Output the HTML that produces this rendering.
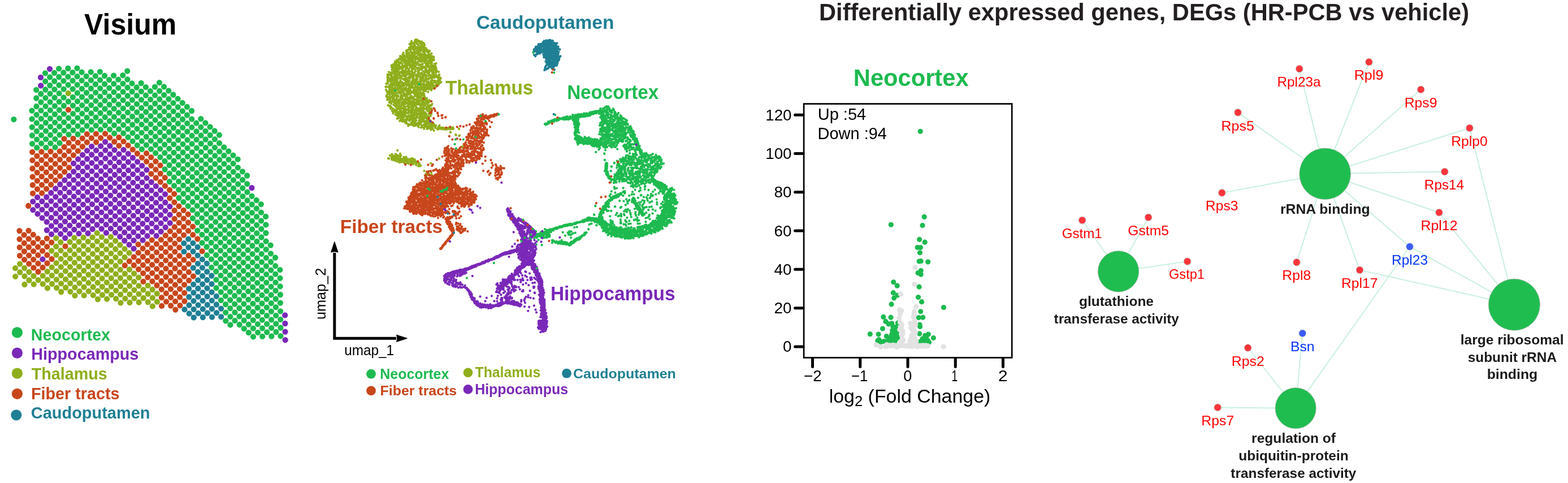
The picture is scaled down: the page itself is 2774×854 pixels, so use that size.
<!DOCTYPE html>
<html lang="en"><head><meta charset="utf-8"><title>Visium spatial transcriptomics figure</title>
<style>
html,body{margin:0;padding:0;background:#fff;}
body{width:2774px;height:854px;overflow:hidden;}
svg{display:block;font-family:"Liberation Sans",Arial,Helvetica,sans-serif;}
</style></head><body>
<svg width="2774" height="854" viewBox="0 0 2774 854">
<rect width="2774" height="854" fill="#fff"/>
<g id="visium" fill="none" stroke-linecap="round" stroke-width="10.3">
<path stroke="#1DBA4F" d="M24.4 211.1h0M56.5 195.7h0M56.6 210.3h0M56.8 224.9h0M56.9 239.5h0M57.1 254.1h0M64.2 158.9h0M64.3 173.5h0M64.5 188.2h0M64.6 202.8h0M64.8 217.4h0M64.9 232h0M65.1 246.6h0M65.2 261.2h0M72.3 166h0M72.5 180.7h0M72.6 195.3h0M72.8 209.9h0M72.9 224.5h0M73.1 239.1h0M73.2 253.7h0M80 129.3h0M80.2 143.9h0M80.3 158.5h0M80.5 173.1h0M80.6 187.8h0M80.8 202.4h0M80.9 217h0M81.1 231.6h0M81.2 246.2h0M81.4 260.8h0M88.2 136.4h0M88.3 151h0M88.5 165.6h0M88.6 180.3h0M88.8 194.9h0M88.9 209.5h0M89.1 224.1h0M89.2 238.7h0M89.4 253.3h0M96.1 128.9h0M96.3 143.5h0M96.4 158.1h0M96.6 172.7h0M96.8 187.4h0M96.9 202h0M97.1 216.6h0M97.2 231.2h0M97.4 245.8h0M97.5 260.4h0M104.1 121.4h0M104.3 136h0M104.4 150.6h0M104.6 165.2h0M104.7 179.9h0M104.9 194.5h0M105.1 209.1h0M105.2 223.7h0M105.4 238.3h0M105.5 252.9h0M112.3 128.5h0M112.4 143.1h0M112.6 157.7h0M112.7 172.3h0M112.9 187h0M113 201.6h0M113.2 216.2h0M113.4 230.8h0M120.3 121h0M120.4 135.6h0M120.6 150.2h0M120.9 179.5h0M121.2 208.7h0M121.3 223.3h0M121.5 237.9h0M128.4 128.1h0M128.6 142.7h0M128.7 157.3h0M128.9 171.9h0M129 186.6h0M129.2 201.2h0M129.3 215.8h0M129.5 230.4h0M136.4 120.6h0M136.6 135.2h0M136.7 149.8h0M136.9 164.4h0M137 179.1h0M137.2 193.7h0M137.3 208.3h0M137.5 222.9h0M137.6 237.5h0M144.6 127.7h0M144.7 142.3h0M144.9 156.9h0M145 171.5h0M145.2 186.2h0M145.3 200.8h0M145.5 215.4h0M145.6 230h0M152.7 134.8h0M152.9 149.4h0M153 164h0M153.2 178.7h0M153.3 193.3h0M153.5 207.9h0M153.6 222.5h0M160.7 127.3h0M160.9 141.9h0M161 156.5h0M161.2 171.1h0M161.3 185.8h0M161.5 200.4h0M161.6 215h0M161.8 229.6h0M168.9 134.4h0M169 149h0M169.2 163.6h0M169.3 178.3h0M169.5 192.9h0M169.6 207.5h0M169.8 222.1h0M176.8 126.9h0M177 141.5h0M177.2 156.1h0M177.3 170.7h0M177.5 185.4h0M177.6 200h0M177.8 214.6h0M177.9 229.2h0M185 134h0M185.1 148.6h0M185.3 163.2h0M185.4 177.9h0M185.6 192.5h0M185.8 207.1h0M185.9 221.7h0M193.1 141.1h0M193.3 155.7h0M193.4 170.3h0M193.6 185h0M193.7 199.6h0M193.9 214.2h0M194 228.8h0M201.1 133.6h0M201.3 148.2h0M201.4 162.8h0M201.6 177.5h0M201.7 192.1h0M201.9 206.7h0M202 221.3h0M202.2 235.9h0M209.3 140.7h0M209.4 155.3h0M209.6 169.9h0M209.7 184.6h0M209.9 199.2h0M210 213.8h0M210.2 228.4h0M217.3 133.2h0M217.4 147.8h0M217.6 162.4h0M217.7 177.1h0M217.9 191.7h0M218 206.3h0M218.2 220.9h0M218.3 235.5h0M225.3 125.7h0M225.4 140.3h0M225.6 154.9h0M225.7 169.5h0M225.9 184.2h0M226 198.8h0M226.2 213.4h0M226.3 228h0M226.5 242.6h0M233.6 147.4h0M233.7 162h0M233.9 176.7h0M234 191.3h0M234.2 205.9h0M234.3 220.5h0M234.5 235.1h0M234.6 249.7h0M241.7 154.5h0M241.9 169.1h0M242 183.8h0M242.2 198.4h0M242.3 213h0M242.5 227.6h0M242.6 242.2h0M242.8 256.8h0M249.7 147h0M249.9 161.6h0M250 176.3h0M250.2 190.9h0M250.3 205.5h0M250.5 220.1h0M250.6 234.7h0M250.8 249.3h0M250.9 263.9h0M257.9 154.1h0M258 168.7h0M258.2 183.4h0M258.3 198h0M258.5 212.6h0M258.6 227.2h0M258.8 241.8h0M258.9 256.4h0M266 161.2h0M266.1 175.9h0M266.3 190.5h0M266.5 205.1h0M266.6 219.7h0M266.8 234.3h0M266.9 248.9h0M267.1 263.6h0M274 153.7h0M274.1 168.3h0M274.3 183h0M274.4 197.6h0M274.6 212.2h0M274.8 226.8h0M274.9 241.4h0M275.1 256h0M275.2 270.7h0M282 146.2h0M282.1 160.8h0M282.3 175.5h0M282.4 190.1h0M282.6 204.7h0M282.7 219.3h0M282.9 233.9h0M283 248.5h0M283.2 263.1h0M283.4 277.8h0M290.1 153.3h0M290.3 167.9h0M290.4 182.6h0M290.6 197.2h0M290.7 211.8h0M290.9 226.4h0M291 241h0M291.2 255.6h0M291.3 270.3h0M291.5 284.9h0M291.6 299.5h0M298.3 160.4h0M298.4 175.1h0M298.6 189.7h0M298.7 204.3h0M298.9 218.9h0M299 233.5h0M299.2 248.1h0M299.3 262.8h0M299.5 277.4h0M299.6 292h0M299.8 306.6h0M299.9 321.2h0M306.4 167.5h0M306.6 182.2h0M306.7 196.8h0M306.9 211.4h0M307 226h0M307.2 240.6h0M307.3 255.2h0M307.5 269.9h0M307.6 284.5h0M307.8 299.1h0M307.9 313.7h0M308.1 328.3h0M314.6 174.7h0M314.7 189.3h0M314.9 203.9h0M315 218.5h0M315.2 233.1h0M315.3 247.7h0M315.5 262.4h0M315.6 277h0M315.8 291.6h0M315.9 306.2h0M316.1 320.8h0M316.2 335.4h0M316.4 350h0M322.7 181.8h0M322.9 196.4h0M323 211h0M323.2 225.6h0M323.3 240.2h0M323.5 254.8h0M323.6 269.5h0M323.8 284.1h0M323.9 298.7h0M324.1 313.3h0M324.2 327.9h0M324.4 342.5h0M324.5 357.2h0M330.9 188.9h0M331 203.5h0M331.2 218.1h0M331.3 232.7h0M331.5 247.3h0M331.6 261.9h0M331.8 276.6h0M331.9 291.2h0M332.1 305.8h0M332.2 320.4h0M332.4 335h0M332.5 349.6h0M332.7 364.3h0M339 196h0M339.2 210.6h0M339.3 225.2h0M339.5 239.8h0M339.6 254.4h0M339.8 269.1h0M339.9 283.7h0M340.1 298.3h0M340.2 312.9h0M340.4 327.5h0M340.5 342.1h0M340.7 356.8h0M340.8 371.4h0M341 386h0M347.3 217.7h0M347.5 232.3h0M347.6 246.9h0M347.8 261.6h0M347.9 276.2h0M348.1 290.8h0M348.2 305.4h0M348.4 320h0M348.5 334.6h0M348.7 349.2h0M348.8 363.9h0M349 378.5h0M349.1 393.1h0M349.3 407.7h0M355.3 210.2h0M355.4 224.8h0M355.6 239.4h0M355.8 254h0M355.9 268.7h0M356.1 283.3h0M356.2 297.9h0M356.4 312.5h0M356.5 327.1h0M356.7 341.7h0M356.8 356.4h0M357 371h0M357.1 385.6h0M357.3 400.2h0M357.4 414.8h0M357.6 429.4h0M363.4 217.3h0M363.6 231.9h0M363.7 246.5h0M363.9 261.1h0M364.1 275.8h0M364.2 290.4h0M364.4 305h0M364.5 319.6h0M364.7 334.2h0M364.8 348.8h0M365 363.5h0M365.1 378.1h0M365.3 392.7h0M365.4 407.3h0M365.6 421.9h0M365.7 436.5h0M365.9 451.2h0M371.6 224.4h0M371.7 239h0M371.9 253.6h0M372 268.3h0M372.2 282.9h0M372.3 297.5h0M372.5 312.1h0M372.7 326.7h0M372.8 341.3h0M373 356h0M373.1 370.6h0M373.3 385.2h0M373.4 399.8h0M373.6 414.4h0M373.7 429h0M373.9 443.7h0M374 458.3h0M374.2 472.9h0M379.7 231.5h0M379.9 246.1h0M380 260.8h0M380.2 275.4h0M380.3 290h0M380.5 304.6h0M380.6 319.2h0M380.8 333.8h0M381 348.4h0M381.1 363.1h0M381.3 377.7h0M381.4 392.3h0M381.6 406.9h0M381.7 421.5h0M381.9 436.1h0M382 450.8h0M382.2 465.4h0M382.3 480h0M382.5 494.6h0M382.6 509.2h0M387.9 238.6h0M388 253.2h0M388.2 267.9h0M388.3 282.5h0M388.5 297.1h0M388.6 311.7h0M388.8 326.3h0M388.9 340.9h0M389.1 355.6h0M389.3 370.2h0M389.4 384.8h0M389.6 399.4h0M389.7 414h0M389.9 428.6h0M390 443.2h0M390.2 457.9h0M390.3 472.5h0M390.5 487.1h0M390.6 501.7h0M390.8 516.3h0M390.9 530.9h0M396.2 260.4h0M396.3 275h0M396.5 289.6h0M396.6 304.2h0M396.8 318.8h0M396.9 333.4h0M397.1 348h0M397.2 362.7h0M397.4 377.3h0M397.5 391.9h0M397.7 406.5h0M397.9 421.1h0M398 435.7h0M398.2 450.4h0M398.3 465h0M398.5 479.6h0M398.6 494.2h0M398.8 508.8h0M398.9 523.4h0M399.1 538.1h0M399.2 552.7h0M399.4 567.3h0M404.3 267.5h0M404.5 282.1h0M404.6 296.7h0M404.8 311.3h0M404.9 325.9h0M405.1 340.5h0M405.2 355.2h0M405.4 369.8h0M405.5 384.4h0M405.7 399h0M405.8 413.6h0M406 428.2h0M406.2 442.9h0M406.3 457.5h0M406.5 472.1h0M406.6 486.7h0M406.8 501.3h0M406.9 515.9h0M407.1 530.5h0M407.2 545.2h0M407.4 559.8h0M407.5 574.4h0M412.5 274.6h0M412.6 289.2h0M412.8 303.8h0M412.9 318.4h0M413.1 333h0M413.2 347.6h0M413.4 362.3h0M413.5 376.9h0M413.7 391.5h0M413.8 406.1h0M414 420.7h0M414.1 435.3h0M414.3 450h0M414.4 464.6h0M414.6 479.2h0M414.8 493.8h0M414.9 508.4h0M415.1 523h0M415.2 537.7h0M415.4 552.3h0M415.5 566.9h0M420.6 281.7h0M420.8 296.3h0M420.9 310.9h0M421.1 325.5h0M421.2 340.1h0M421.4 354.8h0M421.5 369.4h0M421.7 384h0M421.8 398.6h0M422 413.2h0M422.1 427.8h0M422.3 442.5h0M422.4 457.1h0M422.6 471.7h0M422.7 486.3h0M422.9 500.9h0M423.1 515.5h0M423.2 530.1h0M423.4 544.8h0M423.5 559.4h0M423.7 574h0M428.9 303.4h0M429.1 318h0M429.2 332.6h0M429.4 347.2h0M429.5 361.9h0M429.7 376.5h0M429.8 391.1h0M430 405.7h0M430.1 420.3h0M430.3 434.9h0M430.4 449.6h0M430.6 464.2h0M430.7 478.8h0M430.9 493.4h0M431 508h0M431.2 522.6h0M431.3 537.3h0M431.5 551.9h0M431.7 566.5h0M431.8 581.1h0M437.1 310.5h0M437.2 325.1h0M437.4 339.7h0M437.5 354.4h0M437.7 369h0M437.8 383.6h0M438 398.2h0M438.1 412.8h0M438.3 427.4h0M438.4 442.1h0M438.6 456.7h0M438.7 471.3h0M438.9 485.9h0M439 500.5h0M439.2 515.1h0M439.3 529.7h0M439.5 544.4h0M439.6 559h0M439.8 573.6h0M439.9 588.2h0M445.5 346.8h0M445.7 361.5h0M445.8 376.1h0M446 390.7h0M446.1 405.3h0M446.3 419.9h0M446.4 434.5h0M446.6 449.2h0M446.7 463.8h0M446.9 478.4h0M447 493h0M447.2 507.6h0M447.3 522.2h0M447.5 536.9h0M447.6 551.5h0M447.8 566.1h0M447.9 580.7h0M448.1 595.3h0M453.7 354h0M453.8 368.6h0M454 383.2h0M454.1 397.8h0M454.3 412.4h0M454.4 427h0M454.6 441.7h0M454.7 456.3h0M454.9 470.9h0M455 485.5h0M455.2 500.1h0M455.3 514.7h0M455.5 529.3h0M455.6 544h0M455.8 558.6h0M455.9 573.2h0M456.1 587.8h0M461.8 361.1h0M462 375.7h0M462.1 390.3h0M462.3 404.9h0M462.4 419.5h0M462.6 434.1h0M462.7 448.8h0M462.9 463.4h0M463 478h0M463.2 492.6h0M463.3 507.2h0M463.5 521.8h0M463.6 536.5h0M463.8 551.1h0M463.9 565.7h0M464.1 580.3h0M464.2 594.9h0M470.1 382.8h0M470.3 397.4h0M470.4 412h0M470.6 426.6h0M470.7 441.2h0M470.9 455.9h0M471 470.5h0M471.2 485.1h0M471.3 499.7h0M471.5 514.3h0M471.6 528.9h0M471.8 543.6h0M471.9 558.2h0M472.1 572.8h0M472.2 587.4h0M478.7 433.7h0M478.9 448.4h0M479 463h0M479.2 477.6h0M479.3 492.2h0M479.5 506.8h0M479.6 521.4h0M479.8 536.1h0M479.9 550.7h0M480.1 565.3h0M480.2 579.9h0M480.4 594.5h0M487 455.5h0M487.2 470.1h0M487.3 484.7h0M487.5 499.3h0M487.6 513.9h0M487.8 528.5h0M487.9 543.2h0M488.1 557.8h0M488.2 572.4h0M488.4 587h0M495.3 477.2h0M495.5 491.8h0M495.6 506.4h0M495.8 521h0M495.9 535.7h0M496.1 550.3h0M496.2 564.9h0M496.4 579.5h0M496.5 594.1h0"/>
<path stroke="#C8461B" d="M34.5 408.2h0M34.6 422.8h0M34.8 437.4h0M34.9 452.1h0M42.6 415.3h0M42.8 429.9h0M42.9 444.5h0M43.1 459.2h0M50.2 364h0M50.6 407.8h0M50.8 422.4h0M50.9 437h0M51.1 451.7h0M51.2 466.3h0M57.2 268.8h0M57.4 283.4h0M57.5 298h0M57.7 312.6h0M57.8 327.2h0M58 341.8h0M58.8 414.9h0M58.9 429.5h0M59.1 444.1h0M59.2 458.8h0M59.4 473.4h0M65.4 275.9h0M65.5 290.5h0M65.7 305.1h0M65.8 319.7h0M66 334.3h0M66.9 422h0M67.1 436.6h0M67.2 451.2h0M67.4 465.9h0M67.5 480.5h0M73.4 268.4h0M73.5 283h0M73.7 297.6h0M73.8 312.2h0M74 326.8h0M74.1 341.4h0M75.1 429.1h0M75.2 443.7h0M75.5 473h0M81.5 275.5h0M81.7 290.1h0M81.8 304.7h0M82 319.3h0M82.1 333.9h0M83 421.6h0M83.2 436.2h0M83.4 450.9h0M83.5 465.5h0M89.5 267.9h0M89.7 282.6h0M89.8 297.2h0M90 311.8h0M90.1 326.4h0M91.2 428.7h0M91.5 458h0M97.7 275.1h0M97.8 289.7h0M98 304.3h0M98.1 318.9h0M105.7 267.6h0M105.8 282.2h0M106 296.8h0M106.1 311.4h0M113.5 245.4h0M113.7 260h0M113.8 274.7h0M114 289.3h0M114.1 303.9h0M115.5 435.4h0M121 194.1h0M121.6 252.5h0M121.8 267.1h0M122 281.8h0M122.1 296.4h0M129.6 245h0M129.8 259.6h0M129.9 274.3h0M137.8 252.1h0M137.9 266.8h0M145.8 244.6h0M145.9 259.2h0M153.8 237.1h0M153.9 251.7h0M161.9 244.2h0M169.9 236.7h0M170.1 251.3h0M178.1 243.8h0M186.1 236.3h0M194.2 243.4h0M202.3 250.5h0M210.3 243h0M210.5 257.6h0M218.5 250.1h0M220.8 469.4h0M226.6 257.2h0M228.8 461.9h0M234.8 264.4h0M236.8 454.4h0M236.9 469h0M242.9 271.5h0M244.6 432.2h0M244.8 446.9h0M244.9 461.5h0M245.1 476.1h0M251.1 278.6h0M252.7 439.3h0M252.9 454h0M253 468.6h0M253.2 483.2h0M253.4 497.8h0M259.1 271.1h0M259.2 285.7h0M260.7 431.8h0M260.9 446.5h0M261 461.1h0M261.2 475.7h0M261.3 490.3h0M267.2 278.2h0M267.4 292.8h0M267.5 307.4h0M268.7 424.3h0M268.9 438.9h0M269 453.6h0M269.2 468.2h0M269.3 482.8h0M269.5 497.4h0M275.4 285.3h0M275.5 299.9h0M275.7 314.5h0M276.9 431.4h0M277 446.1h0M277.2 460.7h0M277.3 475.3h0M277.5 489.9h0M277.6 504.5h0M283.5 292.4h0M283.7 307h0M283.8 321.6h0M284.9 423.9h0M285 438.5h0M285.2 453.2h0M285.3 467.8h0M285.5 482.4h0M285.6 497h0M285.8 511.6h0M285.9 526.2h0M286.1 540.9h0M291.8 314.1h0M292 328.7h0M292.9 416.4h0M293 431h0M293.2 445.7h0M293.3 460.3h0M293.5 474.9h0M293.6 489.5h0M293.8 504.1h0M293.9 518.7h0M294.1 533.3h0M300.1 335.8h0M300.3 350.4h0M300.9 408.9h0M301 423.5h0M301.2 438.1h0M301.3 452.8h0M301.5 467.4h0M301.6 482h0M301.8 496.6h0M301.9 511.2h0M302.1 525.8h0M302.2 540.5h0M308.2 342.9h0M308.4 357.6h0M308.6 372.2h0M308.7 386.8h0M308.9 401.4h0M309 416h0M309.2 430.6h0M309.3 445.2h0M309.5 459.9h0M309.6 474.5h0M309.8 489.1h0M309.9 503.7h0M310.1 518.3h0M310.2 532.9h0M310.4 547.6h0M316.5 364.7h0M316.7 379.3h0M316.8 393.9h0M317 408.5h0M317.2 423.1h0M317.3 437.7h0M317.5 452.4h0M317.6 467h0M317.8 481.6h0M317.9 496.2h0M318.1 510.8h0M318.2 525.4h0M318.4 540.1h0M324.7 371.8h0M324.8 386.4h0M325 401h0M325.1 415.6h0M325.6 459.5h0M325.8 474.1h0M325.9 488.7h0M326.1 503.3h0M326.2 517.9h0M326.4 532.5h0M332.8 378.9h0M333 393.5h0M333.1 408.1h0M333.6 452h0M333.7 466.6h0M333.9 481.2h0M334.1 495.8h0M341.1 400.6h0M341.3 415.2h0M341.7 459.1h0M342 488.3h0M349.4 422.3h0M357.7 444.1h0"/>
<path stroke="#7A28B8" d="M58.2 356.4h0M58.3 371.1h0M66.1 348.9h0M66.3 363.6h0M66.5 378.2h0M72 136.8h0M72.2 151.4h0M74.3 356h0M74.4 370.7h0M74.6 385.3h0M75.4 458.4h0M82.3 348.5h0M82.4 363.2h0M82.6 377.8h0M82.7 392.4h0M82.9 407h0M88 121.8h0M90.3 341h0M90.4 355.6h0M90.6 370.3h0M90.7 384.9h0M90.9 399.5h0M91 414.1h0M98.3 333.5h0M98.4 348.1h0M98.6 362.8h0M98.7 377.4h0M98.9 392h0M99 406.6h0M106.3 326h0M106.4 340.6h0M106.6 355.2h0M106.7 369.9h0M106.9 384.5h0M107 399.1h0M107.2 413.7h0M114.3 318.5h0M114.4 333.1h0M114.6 347.7h0M114.7 362.4h0M114.9 377h0M115 391.6h0M115.2 406.2h0M115.3 420.8h0M122.3 311h0M122.4 325.6h0M122.6 340.2h0M122.7 354.8h0M122.9 369.5h0M123 384.1h0M123.2 398.7h0M123.3 413.3h0M130.1 288.9h0M130.2 303.5h0M130.4 318.1h0M130.6 332.7h0M130.7 347.3h0M130.9 362h0M131 376.6h0M131.2 391.2h0M131.3 405.8h0M138.1 281.4h0M138.2 296h0M138.4 310.6h0M138.5 325.2h0M138.7 339.8h0M138.9 354.4h0M139 369.1h0M139.2 383.7h0M139.3 398.3h0M139.5 412.9h0M146.1 273.9h0M146.2 288.5h0M146.4 303.1h0M146.5 317.7h0M146.7 332.3h0M146.8 346.9h0M147 361.6h0M147.2 376.2h0M147.3 390.8h0M147.5 405.4h0M154.1 266.4h0M154.2 281h0M154.4 295.6h0M154.5 310.2h0M154.7 324.8h0M154.8 339.4h0M155 354h0M155.1 368.7h0M155.3 383.3h0M155.4 397.9h0M155.6 412.5h0M162.1 258.8h0M162.2 273.5h0M162.4 288.1h0M162.5 302.7h0M162.7 317.3h0M162.8 331.9h0M163 346.5h0M163.1 361.2h0M163.3 375.8h0M163.4 390.4h0M163.6 405h0M170.2 265.9h0M170.4 280.6h0M170.5 295.2h0M170.7 309.8h0M170.8 324.4h0M171 339h0M171.1 353.6h0M171.3 368.3h0M171.4 382.9h0M171.6 397.5h0M178.2 258.4h0M178.4 273.1h0M178.5 287.7h0M178.7 302.3h0M178.8 316.9h0M179 331.5h0M179.1 346.1h0M179.3 360.8h0M179.4 375.4h0M179.6 390h0M179.7 404.6h0M186.2 250.9h0M186.4 265.6h0M186.5 280.2h0M186.7 294.8h0M186.8 309.4h0M187 324h0M187.1 338.6h0M187.3 353.2h0M187.4 367.9h0M187.6 382.5h0M187.7 397.1h0M187.9 411.7h0M194.4 258h0M194.5 272.7h0M194.7 287.3h0M194.8 301.9h0M195 316.5h0M195.1 331.1h0M195.3 345.7h0M195.4 360.4h0M195.6 375h0M195.7 389.6h0M195.9 404.2h0M202.5 265.1h0M202.7 279.8h0M202.8 294.4h0M203 309h0M203.1 323.6h0M203.3 338.2h0M203.4 352.8h0M203.6 367.5h0M203.7 382.1h0M203.9 396.7h0M204 411.3h0M210.6 272.3h0M210.8 286.9h0M211 301.5h0M211.1 316.1h0M211.3 330.7h0M211.4 345.3h0M211.6 360h0M211.7 374.6h0M211.9 389.2h0M212 403.8h0M212.2 418.4h0M218.6 264.8h0M218.8 279.4h0M218.9 294h0M219.1 308.6h0M219.2 323.2h0M219.4 337.8h0M219.6 352.4h0M219.7 367.1h0M219.9 381.7h0M220 396.3h0M220.2 410.9h0M220.3 425.5h0M226.8 271.9h0M226.9 286.5h0M227.1 301.1h0M227.2 315.7h0M227.4 330.3h0M227.5 344.9h0M227.7 359.6h0M227.8 374.2h0M228 388.8h0M228.2 403.4h0M228.3 418h0M228.5 432.6h0M234.9 279h0M235.1 293.6h0M235.2 308.2h0M235.4 322.8h0M235.5 337.4h0M235.7 352h0M235.8 366.7h0M236 381.3h0M236.1 395.9h0M236.3 410.5h0M236.5 425.1h0M236.6 439.7h0M243.1 286.1h0M243.2 300.7h0M243.4 315.3h0M243.5 329.9h0M243.7 344.5h0M243.8 359.2h0M244 373.8h0M244.1 388.4h0M244.3 403h0M244.4 417.6h0M251.2 293.2h0M251.4 307.8h0M251.5 322.4h0M251.7 337h0M251.8 351.6h0M252 366.3h0M252.1 380.9h0M252.3 395.5h0M252.4 410.1h0M252.6 424.7h0M259.4 300.3h0M259.5 314.9h0M259.7 329.5h0M259.8 344.1h0M260 358.8h0M260.1 373.4h0M260.3 388h0M260.4 402.6h0M260.6 417.2h0M267.7 322h0M267.8 336.6h0M268 351.2h0M268.1 365.9h0M268.3 380.5h0M268.4 395.1h0M268.6 409.7h0M275.8 329.1h0M276 343.7h0M276.1 358.4h0M276.3 373h0M276.4 387.6h0M276.6 402.2h0M276.7 416.8h0M284 336.2h0M284.1 350.8h0M284.3 365.5h0M284.4 380.1h0M284.6 394.7h0M284.7 409.3h0M292.1 343.3h0M292.3 358h0M292.4 372.6h0M292.6 387.2h0M292.7 401.8h0M300.4 365.1h0M300.6 379.7h0M300.7 394.3h0M445.4 332.2h0M504.2 557.4h0M504.4 572h0M504.5 586.6h0M504.7 601.2h0"/>
<path stroke="#8FAE1B" d="M27.1 474.2h0M27.2 488.8h0M35.1 466.7h0M35.2 481.3h0M43.2 473.8h0M43.4 488.4h0M43.5 503h0M51.4 480.9h0M51.5 495.5h0M59.5 488h0M59.7 502.6h0M67.7 495.1h0M75.7 487.6h0M75.8 502.2h0M83.7 480.1h0M83.8 494.7h0M84 509.3h0M91.3 443.3h0M91.6 472.6h0M91.8 487.2h0M92 501.8h0M99.2 421.2h0M99.3 435.8h0M99.5 450.5h0M99.6 465.1h0M99.8 479.7h0M99.9 494.3h0M100.1 508.9h0M107.3 428.3h0M107.5 442.9h0M107.6 457.6h0M107.8 472.2h0M107.9 486.8h0M108.1 501.4h0M108.2 516h0M115.6 450.1h0M115.8 464.7h0M115.9 479.3h0M116.1 493.9h0M116.2 508.5h0M120.7 164.8h0M123.5 427.9h0M123.6 442.5h0M123.8 457.2h0M123.9 471.8h0M124.1 486.4h0M124.2 501h0M124.4 515.6h0M131.5 420.4h0M131.6 435h0M131.8 449.7h0M131.9 464.3h0M132.1 478.9h0M132.2 493.5h0M132.4 508.1h0M132.5 522.7h0M139.6 427.5h0M139.8 442.1h0M139.9 456.8h0M140.1 471.4h0M140.2 486h0M140.4 500.6h0M140.5 515.2h0M147.6 420h0M147.8 434.6h0M147.9 449.2h0M148.1 463.9h0M148.2 478.5h0M148.4 493.1h0M148.5 507.7h0M148.7 522.3h0M155.8 427.1h0M155.9 441.7h0M156.1 456.4h0M156.2 471h0M156.4 485.6h0M156.5 500.2h0M156.7 514.8h0M163.7 419.6h0M163.9 434.2h0M164 448.9h0M164.2 463.5h0M164.4 478.1h0M164.5 492.7h0M164.7 507.3h0M164.8 521.9h0M171.7 412.1h0M171.9 426.7h0M172 441.3h0M172.2 456h0M172.3 470.6h0M172.5 485.2h0M172.7 499.8h0M172.8 514.4h0M173 529h0M179.9 419.2h0M180 433.8h0M180.2 448.5h0M180.3 463.1h0M180.5 477.7h0M180.6 492.3h0M180.8 506.9h0M181 521.5h0M188 426.3h0M188.2 440.9h0M188.3 455.6h0M188.5 470.2h0M188.6 484.8h0M188.8 499.4h0M188.9 514h0M189.1 528.6h0M196 418.8h0M196.2 433.4h0M196.3 448.1h0M196.5 462.7h0M196.6 477.3h0M196.8 491.9h0M196.9 506.5h0M197.1 521.1h0M204.2 425.9h0M204.3 440.5h0M204.5 455.2h0M204.6 469.8h0M204.8 484.4h0M204.9 499h0M205.1 513.6h0M205.2 528.2h0M212.3 433h0M212.5 447.7h0M212.6 462.3h0M212.8 476.9h0M212.9 491.5h0M213.1 506.1h0M213.2 520.7h0M213.4 535.3h0M220.5 440.1h0M220.6 454.8h0M220.9 484h0M221.1 498.6h0M221.2 513.2h0M221.4 527.8h0M228.6 447.2h0M228.9 476.5h0M229.1 491.1h0M229.2 505.7h0M229.4 520.3h0M229.5 534.9h0M237.1 483.6h0M237.2 498.2h0M237.4 512.8h0M237.5 527.4h0M245.2 490.7h0M245.4 505.3h0M245.5 519.9h0M245.7 534.5h0M253.5 512.4h0M253.7 527h0M261.5 504.9h0M261.7 519.5h0M261.8 534.1h0M269.6 512h0M269.8 526.6h0M269.9 541.3h0M277.8 519.1h0M277.9 533.7h0"/>
<path stroke="#1F7F94" d="M325.3 430.2h0M325.4 444.9h0M326.5 547.2h0M333.3 422.7h0M333.4 437.3h0M334.2 510.4h0M334.4 525h0M334.5 539.7h0M334.7 554.3h0M341.4 429.8h0M341.6 444.5h0M341.9 473.7h0M342.2 502.9h0M342.4 517.5h0M342.5 532.1h0M342.7 546.8h0M342.8 561.4h0M349.6 436.9h0M349.7 451.6h0M349.9 466.2h0M350 480.8h0M350.2 495.4h0M350.3 510h0M350.5 524.6h0M350.6 539.3h0M350.8 553.9h0M357.9 458.7h0M358 473.3h0M358.2 487.9h0M358.3 502.5h0M358.5 517.1h0M358.6 531.7h0M358.8 546.4h0M358.9 561h0M366 465.8h0M366.2 480.4h0M366.3 495h0M366.5 509.6h0M366.6 524.2h0M366.8 538.9h0M366.9 553.5h0M374.3 487.5h0M374.5 502.1h0M374.6 516.7h0M374.8 531.3h0M374.9 546h0M375.1 560.6h0M382.8 523.8h0M382.9 538.5h0M383.1 553.1h0M391.1 545.6h0M391.2 560.2h0"/>
</g>
<g id="umap" fill="none" stroke-linecap="round" stroke-width="4.3">
<path stroke="#8FAE1B" d="M728.1 72.8h0m6-.3h0m1-2.3h0m1.6 3.9h0m.4 .8h0m.5-4.8h0m.5 2.8h0m2.1-.8h0m.6 .3h0m1 2.5h0m1.2-1.7h0m3.2 .5h0m-21.5 4.4h0m2.7 1.1h0m0-3.7h0m0-.3h0m2.6 1.3h0m2.2 1.7h0m.4-2.4h0m.8 4.3h0m.4-4.8h0m.2 4.3h0m3.5-2.7h0m1.2 1.5h0m.8 .2h0m.8 1.7h0m3.1-3.7h0m1.3 2.1h0m.9-3.1h0m.2 5.1h0m0-.7h0m3.1-2.6h0m.1-1.6h0m1.4 1.8h0m.7 2.5h0m-27.4 4.4h0m2.6-1.9h0m1.2 3h0m.9-4h0m.3 4.3h0m1.1-1h0m1.5-2.6h0m2.1 3.3h0m.1-4h0m.8 3.4h0m.9-1.6h0m1.3 3h0m.2-3h0m1.4 .6h0m2.4 2.9h0m.5-2.7h0m1 2.4h0m1.5-3.5h0m.7 3h0m.2-.8h0m.3-4.2h0m1.5 3.4h0m2.4-2.6h0m.1 1.2h0m1.2-1.3h0m.5 3.6h0m1.7 .5h0m1-.9h0m-34.3 4.5h0m.2 3.3h0m1.9-1.3h0m.6-3.3h0m3.6 0h0m1.1 1.9h0m0-1h0m.7 2.9h0m2.2 .9h0m2.3-4.6h0m1 .8h0m.1-.2h0m1.1 1.6h0m.3-3.3h0m1.6 5.8h0m2.5-3.2h0m1.9 3.2h0m.1-2.8h0m2.9-.6h0m.8 .8h0m1.3-1.9h0m3.3 2.6h0m.5-3.8h0m0 4.9h0m1.4-2.9h0m0 3.6h0m.7-.4h0m.4-2.5h0m.5-.3h0m.4-2.6h0m1.6 2.2h0m1.2-1.9h0m.9 4.7h0m1.7-2.6h0m.5 2.6h0m1.4-2.3h0m.6 .8h0m-47.7 6.1h0m1.2-3.2h0m.1 5h0m1.4-.9h0m4-2.8h0m.4 2.5h0m1.4-3.5h0m.6 4.2h0m.3-4.9h0m.7 4.8h0m1.1-4.3h0m1 3h0m2.3 2.3h0m1.7-3.4h0m1.7-.7h0m.8 4.1h0m1-5.9h0m.9 5.2h0m.5-.7h0m0-3.9h0m1.2-.6h0m1.5 1.3h0m.9-.1h0m2.6 2.5h0m.6-1.5h0m1.9 .5h0m.1 3.1h0m1.1-4.3h0m1.1 2.1h0m1.4-1h0m.2 2.5h0m2.6-1h0m1.5 1.2h0m.8-4.4h0m.3 5h0m1-2.5h0m1.5 1.9h0m1.9-.3h0m2.6-3.5h0m.2-1h0m.8 4.2h0m1.6 .5h0m.8-1.3h0m1.8-2.3h0m-57.3 9.1h0m1.8-.2h0m.1-4.3h0m1 .9h0m.7 2.2h0m2.6 .6h0m.2-3.2h0m1.9 3.9h0m1.3-2.9h0m.9 4.1h0m.2-3.9h0m.5 2.1h0m2.3-3.8h0m1.1 2h0m1.2 3h0m1.4-2.4h0m.8 3h0m.3-4.8h0m1.1 1.4h0m1.9 1.2h0m1.3-1.2h0m.2 3.2h0m.7-5.4h0m2.1 4.1h0m1.3-1.4h0m1.4-1.9h0m.1 1.5h0m.4 .3h0m1.7 2.6h0m.6-4.7h0m.2 .3h0m1.9 3.4h0m1.1-.7h0m0 1.9h0m2.5-2.4h0m1.7-2.5h0m1.3 3.9h0m1.1-2.8h0m.6 2.3h0m1.3-1h0m.3-1h0m1.5 2.6h0m.4 1.1h0m1.8 .1h0m.1-4.2h0m.1-1.3h0m1.2 4.9h0m0-2.9h0m2.9 1.3h0m.8-2.4h0m1 3h0m2-3h0m1.2 3h0m1.1-2.7h0m.8 2.9h0m.6-1h0m.5-2.8h0m1.4 2.8h0m.8-1.5h0m-68.6 8.2h0m.1 1.8h0m2.4-.6h0m.2-3.4h0m1.2-.9h0m1 1.4h0m.1 2.3h0m.4-1.7h0m2.1-2.9h0m.3 5.1h0m3-4.7h0m.1 4h0m.8-4h0m1 1.8h0m2.3-2h0m.9 2h0m.2 3h0m.5-4.5h0m.7 1.1h0m2 2.9h0m.2-.8h0m1.9-2.4h0m2.4 1.4h0m.5-3.1h0m.5 1.6h0m1.5 3.9h0m.6-4.3h0m1.1 2.2h0m2.7-3.2h0m.3 3.2h0m1.6 .9h0m0-.9h0m3.2-3.4h0m.2 1.1h0m.4 3.7h0m4.6-1.5h0m.1 .1h0m1-3h0m1 2.9h0m.8-.6h0m.9-1.2h0m1.5 2.8h0m.9-1.9h0m.6-2h0m2.8 3h0m1.3-3h0m.7 5h0m.3-2.1h0m1.5-3.1h0m.2 2.3h0m3.2 .4h0m.5 2.8h0m.9-1.2h0m1.8-1h0m.3-2.7h0m.8 2.7h0m.2-2.4h0m2.5 1.8h0m.2-1.7h0m.2 4.7h0m3.4-4.5h0m0-1.3h0m-74.9 10.6h0m2.8-1.5h0m.1 2h0m2.4-3.4h0m1.3 1.8h0m1.4-2.5h0m.7 1.6h0m.4 1.4h0m3.5-.2h0m.4-1.4h0m1 3.2h0m.1-3.9h0m3.8-.5h0m1 .5h0m1 2.9h0m4.1-.3h0m.2 .2h0m.5-2.1h0m0 3.4h0m1.2-3.8h0m2.5 1.6h0m0-3.7h0m.6 3h0m1.9-2.8h0m.9 2.5h0m.2 2.1h0m2-1.1h0m1 1.6h0m.3-1.5h0m.6 .9h0m.7-4.5h0m1.9 2.3h0m.8 1.6h0m2.6-3.1h0m1.8 2.5h0m1.4-3.5h0m.1 .7h0m2.7 3.8h0m.1-2.4h0m.8 2h0m2.2-.6h0m1 1.7h0m1.3-1.8h0m.2 .2h0m1.8-1.6h0m5.3-.4h0m.7 2.8h0m1.4-3.8h0m.7 1.9h0m2.1 1.6h0m.9-3.5h0m1.3-.4h0m1.9 4.8h0m1.2-2.4h0m1 1.4h0m1.4 1.7h0m3-3.8h0m.9 3.3h0m1.8-4h0m-78.7 6.3h0m1.6 3.2h0m.3-.2h0m.4-2h0m1.2 .1h0m1.1-1.3h0m.9 3h0m1.5 1.2h0m.6-4.3h0m.5 1.4h0m0-2.1h0m.4 .7h0m.7 3.3h0m2.9-4h0m.1 3.3h0m.2-.4h0m1.7 1.7h0m.8-4.6h0m.7 1.1h0m.3 .4h0m1.8 .9h0m.7 2.4h0m.5-1.6h0m.2-3.2h0m.1 4.5h0m2-3.1h0m.2-.8h0m3.2 .6h0m1-.9h0m.7 3.8h0m.8-1.1h0m.7-3.2h0m1.9 4.6h0m.9-.2h0m2.3-3.1h0m2.1 .6h0m.9 3.5h0m1.4-2.1h0m.1-2.9h0m.9 4.3h0m1.2-4.3h0m1.1 .5h0m.2 3.7h0m1.2-4.7h0m2.6 2.8h0m1.4 2h0m1-1.7h0m2.9-.1h0m1.7 2h0m.3-.2h0m.1-3.5h0m.7 .8h0m.5 1.3h0m1.9 0h0m.8-.6h0m.1-2.2h0m1 .2h0m2.8 2.4h0m.3 2.4h0m.9-5.1h0m.4 4.1h0m1.7-4.4h0m.4 .1h0m2.1 1.4h0m.9 1h0m1.1 2.9h0m1.5-5h0m.2 .6h0m1.5 1h0m.5 3h0m2.4-2.9h0m1-.8h0m.8-1.5h0m1.4 2.2h0m.3 3.4h0m.7-4.9h0m1.1 3.2h0m-83.9 6.2h0m3.3 1.5h0m1.2-.7h0m1-4.4h0m2.8 2h0m.3 2.4h0m.7 .3h0m.7-3.8h0m1.7 3.9h0m.2-2.2h0m1.3 .6h0m1.2-3.1h0m1.4 2.4h0m.8-2.4h0m.3 5.1h0m1.1-.4h0m1.8-.4h0m.4-1h0m.9 .9h0m2.7-3.4h0m.1 2.5h0m1.3-2.1h0m1.1 2.8h0m1-1.4h0m1.2 1.8h0m.1-2.3h0m.4 1.9h0m.3-4.7h0m.7 5.4h0m2.6-2.3h0m.3 1.9h0m2.6-3.9h0m.9 2.1h0m3.3 0h0m1-1h0m.4 .3h0m2 3.1h0m2.7-.6h0m1.2-2.6h0m.3-.5h0m3.9 2.2h0m1.3-2.8h0m.1 4h0m.2-.7h0m.7-3.1h0m4.4 4.1h0m.2-5.3h0m3.1 2.7h0m2.7 1.9h0m.8-1.2h0m.2-3.3h0m1.9 2.8h0m.2 1h0m.3-1.5h0m2.1 1.8h0m.5-3h0m1.3 4.3h0m.4-4.5h0m1.9 1.1h0m1.1-1.2h0m.6 .9h0m1.8 3.2h0m1.1-1.9h0m.4-2.2h0m1 3.3h0m.8-4.4h0m2.3 4h0m1.2 .7h0m.1-3.6h0m1.1 1.1h0m3.1 1.7h0m-90.4 4.5h0m.2 3.2h0m1.7-1.7h0m1.7-1.1h0m1.7 1.2h0m1.5-1.6h0m1 2.7h0m2.6-4.6h0m1.6 1.4h0m.9 2.2h0m.3 .7h0m1.6-1.9h0m1.6-.9h0m1.8 2.2h0m1.6-.1h0m1-1.1h0m1.3 1.7h0m2.3-4.7h0m.2 5h0m1.2-.4h0m.9-3.7h0m1.1 .3h0m.7 4h0m1 .3h0m1.8-5h0m.3 4.2h0m0-1.8h0m1.5 .9h0m2.4-3.7h0m.5 2h0m2.4-1.8h0m.8 2.5h0m.5-.5h0m.3 2.9h0m1.2-3.8h0m.8 3.5h0m.6-.7h0m.1-3h0m1.6 .6h0m1.3 3.2h0m1.3-1.3h0m1.4-.6h0m1.8 .1h0m.9 .9h0m.2-1.3h0m1.6-.1h0m.5 2.5h0m1.7-2.9h0m.6-2.4h0m3 1.7h0m2.6-.4h0m.7 1.5h0m.6-.5h0m2.8 .6h0m.2-2.9h0m.5 4.9h0m1.9-1h0m.7 1.4h0m2-4.8h0m1.6 4.2h0m1.1-4h0m.3-.6h0m.1 4.1h0m3-.4h0m3.4-2.4h0m1.3 3.1h0m.3-2.9h0m.1 3.4h0m1.5-.7h0m1.9-1.5h0m1.4 2h0m2 .4h0m2.9-2.3h0m.1 .7h0m-91.6 4.7h0m.2 3.5h0m.1-5.8h0m1 2.3h0m1.4 .4h0m2.5 2.4h0m1.6-5.2h0m0 3h0m2.3 1.5h0m.8-1.7h0m1.7-1.9h0m.7 4h0m2-3.1h0m.9 2.6h0m.9-.4h0m.3-3.8h0m1.6 2.5h0m.2 1.1h0m3.1-1.1h0m1.7-.5h0m.9-.8h0m.2 .8h0m.3 .8h0m2.6 1.7h0m1.8 1.1h0m.6-1.2h0m1.2 .4h0m.2 .1h0m1-3.9h0m.8 1.8h0m1.7 1.5h0m2.6-2.8h0m.9-.4h0m.4 2.4h0m1.3 .4h0m.4-1.5h0m3.8-1.5h0m.9 3.1h0m1.5-2.5h0m.1 3.6h0m3.6 .4h0m1.1-4.7h0m.2 2.6h0m.2 0h0m.9 1.1h0m.7-.2h0m1.8-4.2h0m2.4-.2h0m.8 5.1h0m.2-3.2h0m.6-1.9h0m.5 4.5h0m.6-2.3h0m.7 2.1h0m.4 .8h0m1.9-4.6h0m.3-.3h0m.3 3.4h0m3.7-3.7h0m.5 4.7h0m.3 1.2h0m.1-4h0m2.4 2.4h0m1.9 .7h0m1-2.1h0m2.2 .3h0m1.2-1.8h0m.1 1.2h0m1.3-2.5h0m2.1 2.3h0m.1-.4h0m1.9 .2h0m1.2-.3h0m.9-.9h0m3.8 1.1h0m1.4-1.2h0m1.4 3.9h0m.7-2.9h0m2.4 1.1h0m.1 .5h0m-94 5.3h0m.7 3.1h0m.1-.3h0m2.2-3.6h0m1.1-1.5h0m.6 .3h0m1.8 2.9h0m.9-2.6h0m2.2 4.5h0m.1-4.8h0m.7 .8h0m.8-.8h0m1.9 3.4h0m.2-1.2h0m1.2-1.3h0m.5 2.3h0m1.6 .2h0m.3-3.6h0m.8 2.7h0m2.1 1.7h0m2.6-4h0m.7 2.4h0m.6 .6h0m1.5 0h0m5.5 1.4h0m1-4h0m2.1 1.3h0m.1 .5h0m.5-2.8h0m.4 3.7h0m.2-3.3h0m2 5.1h0m.3-3.3h0m1.4-.7h0m3.2 2.9h0m1.5-2h0m1-1.9h0m1.3 2.8h0m1.1-1.1h0m1.6-.8h0m1 2.7h0m1.7-4.5h0m.1 .2h0m.1 .4h0m1.1 3.3h0m.1 .5h0m3-1.3h0m1.1 .8h0m2-.3h0m.4-2.1h0m1.3-1.4h0m1.2 1.9h0m2.5 1.3h0m.8 1.1h0m.3-2.9h0m.7-.1h0m3.2 1.4h0m1.1 .9h0m2.4-.1h0m4.3-1.8h0m.2 2.2h0m1-.6h0m.6-3h0m1.2 1.2h0m2.6 .5h0m.6 2.8h0m.5-3.2h0m1.3 3.1h0m.9-1.5h0m2.7-1h0m1-1.4h0m.4-.2h0m.5 3.5h0m2.1 1.4h0m.1-4.6h0m2.2 3.3h0m-97 2.8h0m1.3 .1h0m.1-.8h0m3.8 5.4h0m.2-2h0m2.1 0h0m.7-3.1h0m1.7-.1h0m.6 1.9h0m.2 2.6h0m.6-1.6h0m1.6 0h0m.6-2.3h0m.4 .2h0m2.3 3.8h0m1.5-3.3h0m.1 .1h0m1.3 2.1h0m0-.8h0m2.2-3h0m.3 5.4h0m.4-1.7h0m1.7-3h0m0 1.6h0m.6-1.6h0m.1 4h0m3.5-1.3h0m.3 1.5h0m.5-4.4h0m1-.7h0m.3 2.9h0m1.4 1.9h0m.8-1.4h0m2.2-2.2h0m2 2.9h0m.5-1.7h0m2.3-.6h0m.8 2.5h0m.7-.1h0m1.7-2.5h0m1.4-1.3h0m.5 5.2h0m.4-3.4h0m.6 .8h0m1.2 1.4h0m1-3.6h0m1.9-.5h0m1.4 1.9h0m.2-1.9h0m.6 4.8h0m.5-3.8h0m2.9-1.3h0m.1 2h0m.5 3.9h0m1.1-2.9h0m2.2-.9h0m2.8-1.9h0m0 3.2h0m2.5-1.9h0m1.3 3.8h0m.5-1.3h0m.1-2.7h0m1.1 1.4h0m2.4 2h0m.3-.8h0m1.3-2.5h0m.3 3.3h0m.3 .3h0m.7-4.7h0m1.5 1.1h0m1.8 1.3h0m.6-2.3h0m2.1-.1h0m.8 4.2h0m.8-2.2h0m1.5-2.3h0m.4 4.5h0m.5-3.2h0m2 3.4h0m2.2 .5h0m1.2-1.9h0m.4 .1h0m.9-2.6h0m1.5-.2h0m.5 3h0m1.3-1.1h0m.7-1.5h0m-94.2 5.6h0m.6-.6h0m0 5.6h0m1.1-5.2h0m3.7 1h0m.6-1.3h0m.5 5.1h0m.2-4.5h0m1.7 .3h0m.5 3.9h0m2.4-.2h0m.8-2.2h0m.8 .4h0m1.9 1.1h0m1.9-2.9h0m1.5 3.3h0m.3 1.4h0m2.7-3.7h0m.5 1.9h0m2.6-.8h0m.8-.8h0m1.6-.4h0m.5 3.7h0m1.1-.3h0m2.6-2.3h0m1.3 1.6h0m1.1-1.4h0m.3 .2h0m2.2 1.6h0m.2-3.3h0m3.9 2h0m1.4-1.4h0m.7-1.5h0m.3 3.5h0m.2 .1h0m1.8-3.5h0m.9 .3h0m.7 .8h0m2.4-1.1h0m1.2 4h0m1.9-1.7h0m1-1.8h0m3.4 3.2h0m0-2.6h0m.6-1.5h0m1 2.1h0m.6 3.2h0m1-4.2h0m.2 3.6h0m2-5.1h0m.3 .1h0m.7 4.1h0m1.1-2.5h0m1.7 2.6h0m1.8-3.6h0m.2-.1h0m1.9 3.8h0m.8-2.6h0m.6 2.2h0m.8 1.4h0m2.3-3.1h0m.1 1.1h0m1.9 .8h0m.8-4.5h0m.1 2.3h0m1.7 2.2h0m1.7-4.2h0m.1 .3h0m1.2 2.7h0m3.2-1.4h0m.1 1.4h0m.6-3h0m3.5 .5h0m-86.7 7.2h0m1.2 3h0m1.3 .6h0m.1-2.5h0m2.3-.5h0m.8-1.8h0m.1 3.3h0m.8-.2h0m1.8-2.7h0m1.2 3h0m.6-1.3h0m1.9-.5h0m.1-1.5h0m1.6 4h0m1.8-4.9h0m.9 3.9h0m2.5 1.2h0m1.7-4.5h0m.2 3.1h0m.6-1.9h0m.7 3.9h0m1.5 0h0m1-1.1h0m.4-1.4h0m.8 1.6h0m1.1-1.3h0m2.8-2.7h0m.2 4.2h0m1.2 1h0m.8-5.8h0m1.8 1h0m.9-1h0m1 3.2h0m2.1-1h0m.5 0h0m.2-1.6h0m2.9 2.8h0m.5 2h0m.8-4.2h0m2.3 3.2h0m.6-.4h0m1.9-2.6h0m.5 1.1h0m1.4-.8h0m2-1.2h0m.4 3.2h0m.9 1h0m1.3 .3h0m.3-4.5h0m.8 .8h0m.8 2.9h0m3.5-.5h0m.2-3.1h0m2.6 4.8h0m1.5-5.5h0m1 4.2h0m1.6-2.8h0m2.7 .8h0m4.2 1.2h0m5.8-2.9h0m-79.5 10.8h0m.5-1.9h0m3.3-2.1h0m1.3 .2h0m.8 1.2h0m.1 .2h0m3.5-2.1h0m1.2 3.4h0m.9-3.3h0m.7 2h0m1.4 1.6h0m.2 .3h0m.4-4.5h0m1.3 3.5h0m1.8-1.4h0m1 3.3h0m.3 0h0m.7-1.8h0m1.4 2h0m.3-1.5h0m4.8 .5h0m.1-3.2h0m.5 1.8h0m3.2 .6h0m1-2.6h0m.8 .9h0m.9-1.2h0m.4 3.9h0m1.2-2.2h0m1.8-1.1h0m.2 3h0m.4-4.5h0m2.4-.3h0m.5 1.9h0m3-1h0m.3 4.5h0m1.9-.7h0m4.2-4.7h0m1.6 1.1h0m0 2.8h0m1.2-.7h0m1.1 .6h0m.3-1.5h0m3.6 2.4h0m0-2.6h0m1.9 3.5h0m1.1-4.3h0m1.9-1h0m.5 4.2h0m.9-.6h0m1.7-.5h0m.2-1.4h0m1.9-.6h0m.2 2.2h0m-65.3 7.7h0m.3-5h0m.5 2h0m.8-2.1h0m1.2 4.3h0m2-3.8h0m.5 1.3h0m1.6-1.1h0m2.5 3.9h0m.2-1.9h0m.7-1.8h0m1.4 1h0m1.7 3.2h0m2.6-.6h0m.8-2.7h0m.2-.4h0m3 3.8h0m1.7-.5h0m1.9-2.8h0m.3-1.9h0m1.6 3.7h0m.1 .7h0m.9-3.2h0m1.2 2.9h0m.4 .1h0m3 .6h0m.8-.2h0m.9-1.9h0m1.8 2.5h0m.1-1.8h0m1.2-.5h0m1.2-1.6h0m1.2 3.7h0m0-3.4h0m1.9-.3h0m1.2 1.4h0m1.8-2.6h0m.4 3h0m1-1.4h0m.9 .5h0m.5-.5h0m1-1h0m2.2 3.9h0m2.2 .2h0m.3-.2h0m.2-4.9h0m1.7 4.1h0m.2 .6h0m.7-3.2h0m.6 1.4h0m2.1-1.9h0m1.4 .9h0m1.5 1.1h0m2.1 2.3h0m1.2-3.4h0m.5 1h0m1 2.8h0m1.2-4.1h0m.3-1.1h0m.4 2.2h0m1.8 2.8h0m1.2-1h0m.4-1.6h0m-66.5 7.4h0m.2-1.4h0m1.4-2.9h0m.1 2.1h0m1.3 1.9h0m0-1h0m3.4-.8h0m.5 .9h0m1.7-2.9h0m.3 4.5h0m1.2-2.7h0m2.5 2.3h0m1.9-2.9h0m.6 2.9h0m.6-4.1h0m1.3 .4h0m.4 3.3h0m1.8-3.7h0m2.3 3.8h0m.2 1.5h0m1.4-2.7h0m3.4 1.5h0m.4-3.3h0m.2-.3h0m.7 1.8h0m.9 .7h0m4.2-.6h0m.5 1.8h0m.7-.1h0m.9 1.4h0m1.4-3.5h0m1.1-.8h0m1 4.3h0m.2-3.4h0m1.2 .9h0m2.7-2.7h0m.1-.1h0m.7-.2h0m.5 3.5h0m.5 0h0m2.9 2.1h0m.8-2.4h0m.1-.5h0m1.8-2.5h0m.5 2.2h0m1.6-1.2h0m.3-.9h0m.7 4.2h0m1.6-3.3h0m1.3-1.2h0m1.9 1h0m.1 3.5h0m1 .4h0m1.9-3.2h0m1.5 3.7h0m2.6-3.2h0m.2 1.4h0m1.9 .3h0m.8-2.2h0m.4 3.2h0m1.5-.9h0m.7-4.1h0m.9 1.7h0m-73.7 7.4h0m2.2 1.3h0m1.7 0h0m1.8-4.2h0m4.1 2h0m2.2-1.8h0m.7 4.4h0m1.4 1h0m1.1-4.6h0m.2 .9h0m.1 2.1h0m.4-.5h0m3.4 2h0m.1-2h0m.2-3.1h0m.3 4.3h0m3.3-.4h0m.4-2.2h0m.6-.4h0m2.3-1.8h0m.5 3h0m1 .1h0m.3 2.5h0m2.4 .1h0m.1-5.1h0m2.4-.6h0m1.1 4.7h0m.2-4.5h0m1.5 1.9h0m.1 .7h0m.2 1.2h0m1.5-2.9h0m3.3 2.3h0m.5-1.5h0m2.2 2.7h0m.6-4.6h0m.5 3.6h0m.4 1.6h0m.9-5.1h0m.8 2.8h0m1.4 .3h0m2.4-1.9h0m1.9-.7h0m.4 .9h0m1.3-1.4h0m2.3 2.8h0m.8-1.8h0m.8 0h0m.1 3.3h0m2.2-3.9h0m.5 1.2h0m1.4 3.9h0m.7-5.4h0m1.2 3.4h0m0-1.3h0m1.2 1.1h0m.7-3.3h0m3.5 1.7h0m1 2.4h0m2.8 .7h0m.6-2.3h0m2.5 .9h0m1.3-2.9h0m-73.6 6.3h0m.1 1.7h0m1-2.3h0m.4 1h0m3 1.8h0m1.4 .9h0m4.4 .8h0m.9-2h0m.5 1.6h0m2-2.2h0m0 .7h0m2.7-.1h0m.2 2.6h0m1.1-.1h0m1.3-3.7h0m.9 .8h0m1.5-.3h0m1.7 3.4h0m.2-3.6h0m.3-.2h0m2.4 1.8h0m3 .7h0m1.6-.1h0m.5 1.2h0m1.1-3.9h0m0 4.3h0m.8-4h0m.3-1.9h0m3.5 1.6h0m.7 1.8h0m.4 .6h0m1-3.7h0m.1 2.4h0m.9 .2h0m.7 2.1h0m.3 .5h0m3.7-3.7h0m.2 3.5h0m.4-1.6h0m.8-2.2h0m0-.8h0m.7 3.9h0m1.1-1.8h0m.4 1.9h0m.6-.8h0m1.3 2h0m1.8-4.1h0m.2 1h0m1.9 2.5h0m.3-2.9h0m1.4 .3h0m1.4-.6h0m1-.3h0m1.8 1.3h0m2.7-.6h0m1.3 2.8h0m.1-2.9h0m.2-1.6h0m.2-.7h0m.2 2.1h0m.1 1.6h0m3.7-1.9h0m.1-.1h0m.4 3.4h0m.5-2.8h0m3.2 .4h0m-69.9 3.6h0m1 1.7h0m.9 3.4h0m2.7-3.1h0m.2-1.6h0m1.7 2.8h0m.2-.1h0m.2-3h0m1.7 .8h0m2 3.1h0m2.2-1.4h0m1.7 1h0m1.3-2.8h0m1.4 3.7h0m1.3-2.1h0m.3-.2h0m1.4 2.8h0m.7-.1h0m0-4h0m1-.2h0m1.2 .9h0m.9-.4h0m.7-1.6h0m.9 4.9h0m2.1-.6h0m1.2 1h0m.3-1.3h0m.2-2.1h0m.8 1.3h0m1.9-2.9h0m1.2 4.7h0m.2-.6h0m1.1-1.1h0m.2 1h0m.8-4.1h0m0 2.1h0m2.7 2.7h0m1.8-3.3h0m.9 1.4h0m1.6 2.8h0m.8-1.2h0m1.2-3.8h0m1.4 .3h0m1.3 4.5h0m1.1-.5h0m.4-3h0m1.3 1.8h0m1.5 1.9h0m1.6-3.7h0m1.4 .3h0m.1 2.8h0m.9-5.3h0m2.9 3.7h0m4.7-2.3h0m1 .1h0m.9 .4h0m2-.3h0m.7 3.9h0m1.6-5.4h0m-63.3 7.6h0m1.4 .5h0m2-1.7h0m.3 3.9h0m1.5-.1h0m.7-3.4h0m2.9 .5h0m.1 2.9h0m.5 .3h0m.9-1.5h0m.5-2.8h0m.9 5h0m.5-1.9h0m.9-.1h0m2 2.6h0m1-3.4h0m.6-2.2h0m.2 4h0m.4-1.7h0m2.1 2.8h0m2.8-1.8h0m.5 1.8h0m.6-.9h0m2.5-1.4h0m.9 1.3h0m1.7-3h0m.6 1.2h0m.7 2.9h0m2.8-3.4h0m.2 2.1h0m.6-4.1h0m.2 .3h0m.2 2.2h0m3.6 1.4h0m.4-.7h0m.4-1.3h0m1.6-.3h0m.2-1.1h0m2.4 1.3h0m1.9 2.7h0m1.2-.9h0m2 1.2h0m.2-3.6h0m0-.4h0m.4 4.2h0m3-1.2h0m.1-3.6h0m2.2 2.8h0m1.3-2.8h0m.6 5.4h0m1.7-1.3h0m.4 0h0m.9 1.4h0m1-5.4h0m1.7 .6h0m.9 3.3h0m1.7-3.8h0m-60.5 8.3h0m1.8-1.3h0m1.1 .2h0m3.2 1.6h0m.8-1.8h0m2.3 1.9h0m.7-.5h0m2.6 2.6h0m1.8-1.1h0m2.6 .6h0m.5-3h0m.4 .7h0m2.5 2.1h0m1.7-.3h0m.3-3.7h0m1 1h0m2.6 3.4h0m.3-1.5h0m.3-1.5h0m2.8-.6h0m1 2.1h0m1-2.4h0m1 2.1h0m1-1.5h0m.4 4.1h0m2.9-5.2h0m1.7-.5h0m.5 5.1h0m1.9-2.3h0m.3-1.2h0m1.8 2.4h0m1.3-1.8h0m1.9 1.7h0m.6 1.2h0m0-1.6h0m.9-1.5h0m1.2-1.9h0m1.7 1h0m2.5 2.6h0m.5-1.9h0m3.3 3h0m-52.2 1.7h0m2.5-.3h0m2.7 1.6h0m1-1.7h0m3.2 3h0m1.7 1.7h0m.4-3.7h0m.4 2.6h0m0 1.3h0m5.2-4.6h0m3.5 3.2h0m2.2-2.5h0m0 2.1h0m1.4-3.2h0m.1 5.3h0m.8-4h0m.6 4.1h0m1.1-5h0m.3 3.1h0m1.7 2.1h0m2.5-1.3h0m2.3-.7h0m.8-3h0m.2 3.8h0m.2 .6h0m2.1-3.9h0m.7 2.6h0m.7-1.2h0m2.8-2.3h0m.7 1.5h0m1.3-1.6h0m1.5 1.6h0m.2 2h0m1.8 1h0m.6-4.7h0m1.2 0h0m.4 2.9h0m.2 2.6h0m.5-3h0m.8-2.3h0m1.3 4.8h0m.6-3h0m2.5-1.9h0m.7 5.6h0m.2-3h0m4.5 2.8h0m-45.1 3.7h0m.2-3.2h0m2.7 1.3h0m.8-.6h0m.5 .4h0m2.5 .4h0m.4-1.6h0m2.5 3.4h0m2.9-3.3h0m.1 3h0m.6-.9h0m.4 .2h0m2.4-1.9h0m1.5 3.3h0m.9 1.7h0m1.4-4.7h0m.2-.4h0m1.2 0h0m2.7 2.1h0m.1 .9h0m.4 2.4h0m.2-.7h0m0 .3h0m3.2-3.7h0m.4-.9h0m.8 2.4h0m.4 1h0m.4-4h0m0 1.5h0m1.4-.4h0m.9 4.1h0m.9-3.8h0m1 2.3h0m2.5 1.4h0m1.2-2.8h0m1.8 .7h0m.4 2.3h0m.7-4.9h0m.8 .3h0m.4-.5h0m1 3.4h0m2.4-.6h0m.3-.5h0m1.2-.2h0m.6 1.9h0m.5-1.7h0m1.2 .1h0m4.5 2.4h0m1.8-2.4h0m-32.6 3.7h0m5.3 2.1h0m.2-2.1h0m5.2 2.2h0m1-1h0m1.6-.2h0m2 0h0m2.2 2.8h0m1.5-2.5h0m.7-1.1h0m.7 2.1h0m2.4 2.9h0m1.9-4.9h0m.8-.6h0m3.1 2.3h0m.9 1.1h0m1.1-2.4h0m2-.4h0m.5 2.1h0m.1-2.8h0m.4 1.7h0m.7 .3h0m.3 0h0m0-1h0m1.7 .5h0m.2-.6h0m.7 .4h0m.2 2h0m.6-1.7h0m.5 1.2h0m.1-2.4h0m.4 .9h0m1-.2h0m.7 1.8h0m.6-.2h0m.7-1.3h0m.2 .5h0m.9 1.9h0m1-2.9h0m.2 1.9h0m.1-1.7h0m.5-.2h0m.6 .8h0m1.1 1.4h0m1.1-1.6h0m.3-.7h0m1.2 .1h0m.6 0h0m.1 1.7h0m.3 .2h0m.2-1.7h0m.7 2h0m.9-.8h0m.5-.1h0m1.4-1.6h0m.2 2.1h0m.4-2.3h0m1.8-.3h0m.6 2.6h0m0-.7h0m.3-.2h0m9.8 .9h0m-14.8 5.7h0m9.1 4.5h0m6.8 1.1h0m-109.7 26.7h0m-10 6.6h0m6.3-.3h0m8.4-.7h0m-18.2 3.5h0m3.5 1.4h0m.9 2.4h0m1.6-3.4h0m1.8 3.4h0m2-1.6h0m.3-.1h0m.1-1.6h0m1.2-2.1h0m.9 4h0m1.1-.6h0m.9-1.9h0m1.9 .8h0m1.3 3.1h0m.3-3.4h0m1.8-.3h0m4.9 2.7h0m3.9-.3h0m.7 .7h0m-32 1.7h0m1.2 .4h0m4.6-1.3h0m.4 3.1h0m.5-1.7h0m2.1 2.4h0m.2-2.2h0m2.5-.3h0m.7 2.6h0m.1 1h0m.4-4h0m2.8-.3h0m.5 1.7h0m1.7-.5h0m1.4 3.5h0m1-2.7h0m.1-1.1h0m.4-1h0m.7 5.3h0m.1-5.4h0m1.3 4.2h0m1-1.1h0m0-1.1h0m2 2.7h0m1.1-4h0m.9 .6h0m.5 4.1h0m.2-3.9h0m2.6 1.5h0m.8 1.8h0m.2-4.1h0m2.4 1.5h0m2.3 0h0m1.2 2.9h0m.6-2.5h0m2 0h0m.1-1.8h0m.5 4.6h0m1.8-4.8h0m.4 1.4h0m2.2 3.4h0m1-2.9h0m1.4 2.9h0m-32.2 .6h0m4.1 1.7h0m2.7-.6h0m2.7-.6h0m1.7-.6h0m1.6 3.1h0m3.4-.4h0m.2 .2h0m1.9-.1h0m.8-2.5h0m.1 1.2h0m1 2.4h0m3.4-1.6h0m.4-.9h0m.2-.8h0m1.7 1.2h0m0 2.5h0m1.7-3.5h0m.3 2.2h0m.3 .8h0m.1 1.2h0m2.4-3.8h0m2 1.4h0m.3 2.4h0m.8-2.3h0m.5-1.6h0m.6-.6h0m2.2 2.3h0m2.1 .6h0m-5.4 2.5h0m.2 .6h0m3.9 2h0m.8-2.6h0m1.2 2.4h0m.5-1.8h0m1.3 1h0m6.2 9.2h0m2.7 5.5h0m6.1 0h0m3.7-2.7h0m-7 4.1h0m7.8 0h0"/>
<path stroke="#C8461B" d="M773.3 151.9h0m-4.5 4.6h0m-19.3 18.1h0m13.6 4.6h0m4.5 12.5h0m.9 .8h0m-7.7 7.1h0m.8-.2h0m1.5-.9h0m1.1-3.4h0m5.7 1.1h0m4.2 3.2h0m.3 1.3h0m1 4.3h0m5.8-.8h0m1.2-.6h0m64.2 1.6h0m3 .9h0m.9-2.5h0m.7 2.3h0m.2 0h0m.4-1.4h0m0 .4h0m1.2 1.7h0m0-1.8h0m.7 .9h0m.4-3.6h0m.1 4.6h0m1.8-.5h0m.1-.4h0m.2 1.1h0m.8-1.4h0m.3-.4h0m.1 1.3h0m.3 .3h0m.2-1.4h0m1.5-1.2h0m.8 2.6h0m1.2-.1h0m1.4 .4h0m.2-.3h0m.8-.5h0m.2 0h0m0 .6h0m.3-1h0m2.3 .3h0m.4-1.3h0m1.2-.7h0m0 .9h0m.4 1h0m0 .2h0m.3-.9h0m.3 .7h0m.4 .2h0m.1-1.4h0m0 1.2h0m1.5-1.8h0m1-.9h0m.7 2h0m.1-1h0m.2 1.4h0m.3-2.7h0m.2 3h0m.3-3h0m.1 1.9h0m.1-.3h0m.1 0h0m0 .5h0m.1 .3h0m.1 0h0m.1-.1h0m0-2.6h0m.9-.2h0m0 1h0m.4 .1h0m.2-.3h0m.5 .3h0m.3-1.2h0m1.4 1.3h0m.3-.5h0m.1-.9h0m.3-1h0m1.1 .4h0m.1 .7h0m.5-1h0m-122.3 8.4h0m.3-.7h0m8.3 0h0m.5 .7h0m14.8-1.1h0m0-.1h0m5.6-1h0m.5-.4h0m55.2 2.7h0m.7 2.1h0m1.3 .7h0m1.1-3.5h0m3.6-1.8h0m.1-.4h0m.3 4.5h0m1.8-3.3h0m.3 .3h0m.1-.8h0m1 .7h0m.4 2.7h0m.4-3.8h0m.1 1.7h0m.7-1.5h0m.1 0h0m.3 1.5h0m0 1.9h0m.3-2.2h0m.2-.4h0m1.5 .1h0m.7-1.2h0m.7 .8h0m.1-.2h0m.1-.6h0m.2 .7h0m.2 .5h0m.6 .1h0m0 .4h0m.7 0h0m.5 0h0m.4-.7h0m.5 1.4h0m0-2.4h0m.5 2.8h0m0-.8h0m1.6-1.4h0m.3 .1h0m1 .6h0m-100.8 8.1h0m74.8 0h0m1.4 2.1h0m2-.6h0m.1-2.1h0m1.8-1.1h0m1.3 2.3h0m0-3.3h0m3.1 1.1h0m2.4 1.9h0m.8-1.5h0m1.6 2.2h0m2.9 1.1h0m1.3-3.4h0m1.5 1.5h0m.8 1.8h0m4.5-4.9h0m4.2 2.4h0m-73.6 8.3h0m12.5 0h0m5.6-1.4h0m5.5 .8h0m5.6-2.2h0m5.5-1.4h0m6.6 2.6h0m.9 2.1h0m4.7-3.4h0m.7-2.1h0m0 .4h0m3.4 2.3h0m1.2-2.7h0m2.5-.2h0m0 3.3h0m2.3-3.2h0m.7 2.5h0m.2 .6h0m1.4 .8h0m.8-.3h0m4.6-3h0m6.1 4.5h0m-77.7 1.4h0m43 4.7h0m1.6-2.7h0m.2-2.6h0m1.3 3h0m2.6-2.1h0m2.4 1.9h0m2.2-1.8h0m1-.6h0m1.5 2.8h0m1.7-1.4h0m0-.4h0m3.3 1.8h0m.2-2.9h0m1.8 5h0m.1 .4h0m2.1-2.9h0m1.9-1.6h0m.5 2.3h0m.5-.6h0m.5 .3h0m.3-3h0m.3 .1h0m2.8 3.7h0m.7 0h0m-32.7 7.5h0m3.8-2h0m2.5 .5h0m1.1-3h0m.2 3.6h0m1.8-3.3h0m.1 3.8h0m.6-4.2h0m1.9 3.3h0m.6-3.6h0m.9-.7h0m1.9 4.2h0m.4-3.9h0m.5 1.9h0m1.4-2.2h0m0 3.9h0m1.1 0h0m3.2-2.5h0m2.2-1.1h0m1.8-.2h0m1.4 2.7h0m.2 1.1h0m2.8-1.3h0m.1 1.5h0m1.5-.3h0m0-1.2h0m.4 3.2h0m0-4.2h0m-66.6 8.3h0m30.4 1.4h0m2.9-.8h0m.5-3.3h0m2.5-1h0m.5 3.7h0m1.9 1.4h0m1.6 .1h0m.8-2.5h0m.5-2h0m3.8 3.5h0m.1-3.7h0m2 4.7h0m.6-.6h0m.2-.3h0m.7-3.2h0m2.2 .1h0m.9 .8h0m.1 1.8h0m2.6 1h0m1.4-5h0m1.8 2.1h0m.1 .7h0m2.9 3h0m.3-4.7h0m1 1.9h0m1.5-.4h0m1.4-1.4h0m.4 .6h0m3.7 .8h0m-63.8 6.9h0m8.3-1.4h0m5.6 1.4h0m11.1-3.6h0m.5 4.6h0m1.9-.4h0m1.1-3h0m3.5 4.8h0m1-4.6h0m1.9-.1h0m1.9 .7h0m3 2.5h0m.1 .3h0m.2-4.4h0m.6 5h0m0-.5h0m1.1 .2h0m.8-.5h0m1.6-2.9h0m3.5-.6h0m1.9 4.2h0m.9-5.1h0m1.3 4.3h0m.1-.1h0m1.8-3.6h0m.4 1.4h0m.4-.3h0m.2-.2h0m-34.5 10.2h0m2.7-1.8h0m.6-1.4h0m5.3 1.1h0m.2-3.3h0m.2 .7h0m2.5 4.3h0m.6-1.2h0m1.8-3.1h0m0 2.3h0m.9 2h0m.3-3.8h0m1.6 3.4h0m.2-1.5h0m.6-2.7h0m3.1 4.9h0m.9-2.4h0m1.1 1.2h0m.5 1.4h0m1.3-5.8h0m1.5 .7h0m.8 2.6h0m1.7-3.3h0m1.4 1.7h0m0 1.4h0m2.9-1.5h0m2.6 1.3h0m-64.6 8h0m1.7-1.7h0m22.4 1.7h0m.3 0h0m5.4-1.8h0m1.3-.6h0m0 2.8h0m2-5.2h0m.3 5.5h0m2.3-3.2h0m.4 2.4h0m3.1-1.8h0m2.2 .2h0m1.5 .3h0m1.5-1.2h0m.8 2.6h0m1-3.1h0m.7 2.1h0m1.4 1h0m3.5-1.5h0m2.4-1h0m2.9-2h0m2.3 4h0m1.4-1h0m.7-2.2h0m.6 1.2h0m-66.4 4.8h0m.3 2.4h0m1-3h0m1.3 4.5h0m1.1-3.9h0m1.5 .3h0m.2 4.2h0m1-3.3h0m1.4 1.9h0m3.5-3.3h0m1.1 4h0m2.4-2.6h0m4.2 1.9h0m1.1 1.4h0m3.3-2.1h0m2.4-.2h0m.6-2.8h0m.1 1.2h0m.2 3.9h0m3.5-1.3h0m.5 1.1h0m2-5h0m.5 4h0m2.5-3.8h0m1.9 4.4h0m1.6-4h0m1.4 3.8h0m.4-4.1h0m4.1 1.6h0m1.3-2.2h0m1.8 1.9h0m3.8 1.8h0m.5-2.4h0m.7-1.4h0m.3 5.7h0m.1-1.6h0m.2 1.5h0m0-2.8h0m1.6-.7h0m3.4-1.6h0m1.8 1.4h0m.8-1.1h0m1.8 1h0m1 3.4h0m0-1.9h0m1.5 .4h0m.6 1.2h0m2-4.2h0m.4 2.6h0m-69.7 5.7h0m.2-3.1h0m2.3 4.2h0m0 1.1h0m1-.8h0m1.1-3.1h0m0 2.2h0m2-.7h0m1-2.3h0m1.9 3.8h0m3.1-3.3h0m.4 0h0m1-.1h0m.2 .1h0m.4 2.8h0m1.6 .8h0m1.6-1h0m1.1-3.4h0m.1-.4h0m2.2 2.5h0m.2-1.9h0m.6 4.2h0m3.2-2h0m.2-1.9h0m2.1 1.4h0m2.9-2.1h0m.9 1.6h0m3-.5h0m.4 1h0m.1 1.1h0m3.1-2.9h0m1 0h0m.6 4.8h0m.6-4.9h0m1.4 .8h0m1.2 4h0m.4-1.6h0m2.3 .6h0m2.2 1.4h0m1-4.1h0m.6 3.3h0m.6-4.1h0m2.5 .7h0m.7 2.9h0m1-2.6h0m4.1-.7h0m.1 1.7h0m1.3 1.7h0m1.8-2.2h0m.5 2.8h0m.1-2.1h0m.3 .7h0m1.6-.6h0m2.2 1h0m.3-1h0m-69.9 7h0m4.3-1.8h0m.9-.3h0m1.9-.1h0m3.2 1.2h0m.3 2.8h0m.1-5.7h0m1.6 1.9h0m1.9-1h0m1.3 2.5h0m1.7-1.2h0m.9 1.3h0m.8-.6h0m1.7 1.8h0m1-3h0m.7 1.9h0m.4-1.5h0m0-.8h0m2.6-.3h0m.4 4.3h0m.4-.3h0m.9-1.4h0m.6-.6h0m1.1-1.3h0m3.7 2.7h0m2.9-3.2h0m.7 2.9h0m1.5-3.4h0m1.2-.5h0m.9-.1h0m.5 3.1h0m.6 1.5h0m1.3 .5h0m1-1.8h0m1.2-1.3h0m1.4 .9h0m.6 1.2h0m.2-2.3h0m1.3 1.2h0m1.9 2.4h0m.1-3.7h0m.3 2.4h0m3.2-2.6h0m1.7-1.1h0m2.9 1.1h0m1.4 3.4h0m.7-1.9h0m2.5-.6h0m1.4-1h0m.2 3.6h0m.3-1.2h0m2-.9h0m2.7-2.4h0m.7 2.3h0m6.6 1h0m-113.8 5h0m27.8 .6h0m15.7 .9h0m1.6-3.7h0m.6 3.2h0m2.2 0h0m.3-3.6h0m.1 2.5h0m1.6 2.5h0m2.4-5.2h0m1 5.6h0m2.4-3.3h0m1.9-1.7h0m1.8 3.6h0m.6 .8h0m.4-1.3h0m.6-.1h0m3.7-2.9h0m.4 1.2h0m.8 2.3h0m1.9-3.6h0m1.4 1.9h0m.9-2.1h0m1.3 5h0m.7-3.1h0m1 2.7h0m1.4-1.7h0m.3 1.3h0m4.5-2.1h0m2.7 2.1h0m5.7 .4h0m.6-.9h0m.8-3.9h0m.4-.2h0m.1 1.3h0m.7-1.4h0m2.3 3.5h0m.3-3.4h0m.9 .7h0m.2 3.4h0m2.8 1.2h0m1.6-4.3h0m.2 2.4h0m.9-2.5h0m3.6 .9h0m.5-.9h0m10.2 3.9h0m9.7-.9h0m-151.2 7.8h0m22.2-5.6h0m26.3 5.6h0m22.3-.4h0m.4 0h0m1.4-1.9h0m.6-2h0m1-.5h0m.9 4.2h0m1.5-4.8h0m2.8 3h0m.5-2.5h0m4.5-.7h0m1.7 .6h0m2.9 3.1h0m2.3-1.6h0m.7 2.5h0m1.8-1.8h0m.1-.7h0m.7-1.4h0m.4 3.2h0m3.6-.5h0m.4-1.4h0m2.7 1.9h0m.3-1.4h0m1.3 .4h0m4.8-2.3h0m.5 1.4h0m4.4 0h0m.2-2h0m5.5-.1h0m17.8 4.3h0m16.6-1.4h0m-143.4 3.3h0m30.5 0h0m6.9 1.7h0m19.5 3.3h0m3.6-3.1h0m1.9 2.1h0m1.2-3.2h0m1.6-.3h0m1.1 4.7h0m.6-2.3h0m.6 1.4h0m1.4-2.3h0m.3 2.7h0m.4-2.4h0m.1-1.6h0m1.7 .9h0m2.1-1.8h0m2 2.8h0m.4 1.5h0m1 .2h0m.8-3.4h0m.4-1.2h0m1.5 1.9h0m.5-.3h0m1.7 1.6h0m3.1-1.8h0m.9-1.2h0m1.3 4.1h0m.7-3.6h0m1.1 2.8h0m.6-1.2h0m.4 .8h0m2.5-2.8h0m.4 1.9h0m50.1 3.1h0m2.2-4.1h0m5.1-1.4h0m1 2.9h0m2.8 3.1h0m4.8-3.3h0m-127.1 9.3h0m3.3-.5h0m4.6-.8h0m1.5-.5h0m.6-.3h0m2.8-1.7h0m1.6 1.6h0m.2 .5h0m3.2 .6h0m1-1.3h0m.8 2h0m3.1-1h0m.2 .7h0m.3-1.4h0m.6-2.2h0m3.2 .4h0m.1 2.2h0m1.1 .6h0m.5-3.5h0m1.1 2.5h0m2.7-2.8h0m.8 3.1h0m.8-.2h0m1.1-2.4h0m.1 0h0m4.6-.7h0m6.8 2.1h0m2.4-2.9h0m1.8 2.7h0m.1 .4h0m1.3 2h0m.2-.5h0m.1-4h0m1.7 .2h0m1.4-.9h0m1.5 2.3h0m39.3 2.8h0m9.1 0h0m12.5-.9h0m.7-3h0m1.1 2.5h0m2.9-.5h0m1.2-3.1h0m.1 4.2h0m1.4-2.6h0m1.9 .4h0m.3 1.3h0m.2-3.1h0m1.5-.1h0m3.7 .3h0m-136.6 6.1h0m1.3 1.9h0m15.1 2.8h0m0 .1h0m2.6-5.3h0m.3 4.7h0m.4-.5h0m1.6-2h0m.6 1.9h0m.1-2.3h0m.5 3.2h0m1-1.8h0m.5 .2h0m.2-1.7h0m.3 2.1h0m2.2 .7h0m.1 .7h0m1 .6h0m.7-2.7h0m.3-1.5h0m1.3-.4h0m.5-.6h0m0 1.6h0m.9-1.6h0m.3 1.1h0m.4 3.4h0m1.4-1.8h0m.6-2.8h0m.2 .9h0m.9 2.1h0m1.3-.8h0m.3 1h0m.5-3.3h0m.8 5.3h0m.3-3.1h0m2.2 .3h0m2.6 .5h0m1.8-1.8h0m1.7 2h0m.3-3.1h0m0-.6h0m.5 5.4h0m.8-4.5h0m1.4-.1h0m0 2.5h0m3.3-2.6h0m1.5 1.3h0m1.4 1.6h0m.6 2.3h0m2.3-3.4h0m48.8-1.5h0m4.8 2.2h0m8.8-.4h0m1.8-2.7h0m1 0h0m.5 5.8h0m2.3-1h0m.2-1.9h0m.5 1.1h0m0-2.7h0m4.5 4.1h0m.2-3.9h0m.3 2h0m-135.7 4h0m.4 4.3h0m.3-.6h0m.2-4.4h0m1.2 2.5h0m4.5-2.7h0m.8 5h0m2-4.4h0m3 3.1h0m.4-1.8h0m.2 1.6h0m1 1.5h0m1.7-2.7h0m1.1 .4h0m.4-2.8h0m1.2 2h0m.4 1.3h0m.6-.4h0m.6-.9h0m0 .9h0m.4 .8h0m1.4-2h0m.5 .6h0m.7 2.4h0m.2-4.4h0m1.8 1.2h0m.8 .3h0m1.1-1.7h0m.1 3.8h0m0 .5h0m1.4-3.6h0m1.8-1h0m0 1h0m.5 2.2h0m1.2-3h0m.4 .9h0m.2 .4h0m.6 3.5h0m1.3-1.1h0m.2-.5h0m.3-1.7h0m1.4-1.7h0m.4 .6h0m1.9-.3h0m.9 4.9h0m0-2.9h0m.6-.2h0m1.5-1.3h0m2.4 3.3h0m.7-2.7h0m.2 2h0m1.2 .4h0m.1 1.3h0m2.3-2.5h0m.2 2.6h0m2.7-2.5h0m1.6-2.9h0m.8 3.2h0m0-1.3h0m1.6-.1h0m2.1 .8h0m56.1-2.8h0m10.5 1.2h0m.3 .7h0m3.4 3.7h0m2.5-.3h0m1.6-2.1h0m.5 .3h0m.2-3.2h0m.2 4.1h0m-137.9 5.5h0m6.3-.1h0m1.5 1.9h0m.6 .1h0m.1-5.7h0m1.7 .9h0m.1 0h0m.8 .2h0m.2 4.4h0m.4-5.5h0m.4 2.3h0m.2 1.8h0m.9-3.8h0m.1 .2h0m1.4-.6h0m.4 3.6h0m1.2-1.2h0m.1 3.2h0m3.3-2.3h0m.3 1.1h0m.8-3.9h0m3.6 1.3h0m.6 1.7h0m.5-2.8h0m2.3 1.8h0m.3 1.7h0m1.3-2.6h0m.5 2.9h0m.6-3h0m2.9 3.2h0m.1-.8h0m.2-1.5h0m.9 2h0m.1-1.7h0m.7-.6h0m2.9 1.1h0m.5 .8h0m.4-3.7h0m.4 1.1h0m2.1 .2h0m.5 .6h0m1.3-1.3h0m.7 3h0m1-3.5h0m1 3.2h0m.6-.4h0m1.6-1.2h0m2.8 1.3h0m1.3 1.3h0m.7 .7h0m.7-2.7h0m.2 2.3h0m1.9-1.6h0m.5-2.7h0m1.3 5h0m1-4.3h0m71.9-.9h0m2.9 2h0m.6-2.1h0m-143.5 10.5h0m4.1-1.4h0m1.4 0h0m.4-1.4h0m2.9 1.3h0m.1-.6h0m2 .2h0m1.6-1.9h0m.4 2.6h0m.3-1.6h0m2.2 2.1h0m.7-3.4h0m1.1 2.2h0m.7 .8h0m.2-3.5h0m3.1 1.3h0m1.2 2.2h0m.4-.7h0m1.9 2h0m1.1-3.8h0m.3 .5h0m1 2.8h0m1 1.2h0m.2-4.6h0m.6 2h0m1-3h0m1.2 2.9h0m.6 2.6h0m2.5-1h0m.1 .6h0m.3-4.6h0m.3-.3h0m.9 1h0m3 4h0m.4-.5h0m.2-2h0m1.7-1.8h0m.2 3h0m.3-1.3h0m.2 2.7h0m.7-.4h0m3.1 0h0m.8-4.7h0m.1 2h0m.3 3.2h0m0-2.6h0m2.1-2.1h0m2.5 3.4h0m.1-3.7h0m.7 3.2h0m1.9-3.1h0m.1 4.4h0m0-3.9h0m1.7 2.7h0m.5-1.2h0m2.4-2.5h0m.1 3.9h0m.2 .1h0m.2-1.7h0m.1 2.3h0m.9-4.7h0m1.4 4.9h0m.3 .7h0m1-2.7h0m.4-.2h0m.9 2.5h0m2.9-1.7h0m.4-1.2h0m1.4 2.1h0m-75.3 5.6h0m3 .6h0m.5-.3h0m.3-1.7h0m1.6 1h0m.9-1.9h0m1.5 3.5h0m.9-4.9h0m.3 1.4h0m.5 3.7h0m.7-5h0m.5 5h0m.6-5.2h0m2.1 4h0m.3-1.7h0m.5-2.1h0m2.1 1.1h0m1.8 .3h0m.2-.7h0m.8 4.4h0m.1-2.5h0m1 2.1h0m.6-4.4h0m1.8 .2h0m0 1.3h0m1.7 2h0m.6 1.4h0m.4-.7h0m1.3-3.1h0m.1 3.9h0m.1-5.6h0m1 2.6h0m1.1-2.1h0m.6-.1h0m1.3 4.5h0m.8-.8h0m.9 .8h0m1.4-4.6h0m.2 2.7h0m1.8 1.5h0m1.9-.7h0m.3 0h0m1.4 .1h0m1.1-3.9h0m0 3.6h0m1.3-1.5h0m.6-1.8h0m.6 3.7h0m1-2.2h0m2 2.5h0m.4-4.4h0m1 4.2h0m2.4-1.8h0m.6 1.6h0m.5-1.7h0m3 2.8h0m.3-3.3h0m1.5 1.5h0m.3-1.7h0m.4 2.4h0m.1-1.3h0m2-.5h0m0 1h0m.6-3h0m1.6 4.3h0m.5-2.4h0m1.3 1.6h0m1.7-2.3h0m1.9 .8h0m1.7 2.1h0m.9 1.4h0m.7-3.8h0m2 3h0m.3-3.3h0m.1 2.5h0m1.4-2.5h0m.4 .8h0m.4 .9h0m1.2-3h0m.6 2.4h0m2.2 1.5h0m1.1-2.8h0m.1 .7h0m1.5 3.3h0m1.2-.6h0m10.9 .3h0m-93.6 2.2h0m.4 2.2h0m.7-.1h0m1.6 1.4h0m0-4.7h0m.3 2.6h0m2.7 .5h0m.2 .7h0m1 .8h0m2.7-.5h0m.1-2h0m2.1-.1h0m.3 1.5h0m.1-2.4h0m.6 3.1h0m1.3-.9h0m.8-2.1h0m.5 4.3h0m.2 0h0m.8-4.5h0m1.2-.9h0m.1 .6h0m0 4.4h0m1.5-4.1h0m1.1 3.3h0m1-4.1h0m.1 .1h0m.6 2.8h0m.4 .2h0m1.9 .3h0m.4 .5h0m2-2h0m.6 3.5h0m1-4.3h0m.9 2.6h0m.2-4h0m1 5.4h0m.8-2.6h0m.9-2.8h0m.6 3.9h0m.5-2.9h0m.4 1.7h0m1.1-2h0m.8 4.2h0m.3-2.8h0m1.7 1.6h0m.5-3.1h0m.4 1.4h0m1.6-1.9h0m1.1 3.9h0m1-3.1h0m2.5 3.3h0m1-2.9h0m.1 4.5h0m2-3.8h0m.6-1.9h0m.2 1.7h0m.8 2.4h0m.9 .8h0m2.2-5h0m.1 3.3h0m.2 1.9h0m.8-3.7h0m1.1 4.2h0m1.4-3.8h0m.1-.5h0m.8 2.8h0m.6-3.4h0m1.7 2h0m0-.7h0m1.2 2.3h0m.9-4.1h0m1 1.2h0m0 1.5h0m1.6 .4h0m1.6-1.4h0m.2-1.5h0m.1 4.4h0m1.6 .5h0m.5-4h0m.7 .8h0m1.1 .2h0m.5 1.9h0m4.3 .2h0m.3-1.1h0m.5-1.7h0m.2-.1h0m1.5 3.4h0m.1-1.4h0m.5-3.2h0m.7 2.3h0m.7 3h0m.3 .3h0m1.3-.6h0m.5-4.8h0m1.1 3.3h0m.1-1h0m0-1.2h0m1.1 4.1h0m.1-3.1h0m2.3-1.2h0m.5 4.3h0m.7-4.1h0m1-.8h0m.5 1.2h0m1.8-1.4h0m1.7 5.1h0m1.9-3.4h0m.3 2h0m.6-.3h0m.9-3.8h0m2 4.7h0m2.8-3.1h0m.2 3.1h0m.4-.8h0m.1-2.5h0m-104.4 7.2h0m1.8-1.9h0m.9 2.5h0m.2 1.5h0m1.4-3.9h0m1.1 .9h0m.5 1.2h0m.5 1.8h0m1 .8h0m.8-2.4h0m.7-2.1h0m.7 0h0m.7 3.5h0m1.9-.4h0m.5-.7h0m.6 2h0m1.1-.6h0m1-1.9h0m1.7 1.5h0m1.3-3.1h0m1 2.6h0m0-3.3h0m2.2 3.1h0m1.5-2.6h0m.3 3h0m.2 .3h0m1.5-3.8h0m0 3.2h0m1.1-2.2h0m1.4 3.1h0m.3-1.5h0m.7-1.5h0m1.4 1h0m.4-2.8h0m1.7 3.3h0m1-1.1h0m0-1.4h0m1.1 4.5h0m.8-2.9h0m.3-2.6h0m.5 3.9h0m.1-.8h0m1.3 1.9h0m.9 .5h0m2-4.2h0m.6 2.2h0m3.1-3.4h0m.3 2.8h0m.6-.1h0m.4-1h0m.2-1.5h0m2.5 5.1h0m.5-.6h0m.9-3.9h0m1.5-.7h0m1.1 5.4h0m.7-5.5h0m.3 3.5h0m.9-1.5h0m.5 2.1h0m2.1-1.6h0m.3 1.9h0m.7 .6h0m.1-4.3h0m.5 4.3h0m1.3-3.7h0m2.1-.5h0m.2 1.6h0m.2-.8h0m1.1 .1h0m1.6 3.7h0m1.5-1.7h0m2-2.1h0m0-.2h0m1.9 3.4h0m.2-3.4h0m.9 2.3h0m2.3-1h0m0-2.7h0m.7 1.2h0m2.4 1.9h0m.8 1.6h0m0-1.5h0m.6-1.2h0m1.5-1.4h0m.2 4.9h0m.1-1.4h0m.7-2.3h0m2.9 1.6h0m.1 2h0m.5-3.2h0m2.2 2.2h0m.2-1.4h0m3.5-2.2h0m.1 4.3h0m.1-1.1h0m.1-4h0m.2 1.7h0m1.5 2.1h0m.7-2.2h0m.8 .2h0m.3-.4h0m.7 3.5h0m1.5-4.1h0m1 1.8h0m.5-.9h0m2.1 .1h0m.1 2.7h0m1.5-1h0m2.8 .8h0m.3 1.4h0m.8-4.9h0m1.7 3.1h0m.9-.9h0m.2-1.2h0m2.1-1.8h0m.1 .6h0m1.4 4.1h0m2.7 .7h0m-118.5 4.8h0m2 1.6h0m.8-4.2h0m1.9 2.3h0m.3-3.9h0m.4 1.8h0m.1 .7h0m.2 2.3h0m2.2-3.7h0m.9 1.2h0m.1 1.4h0m1.6-1.1h0m.4 1.5h0m.3-1.1h0m.4-1.6h0m1.9-.8h0m1.2 4.1h0m.5 .9h0m.7-3.7h0m.2 1h0m3.1-2h0m1 4.6h0m2-1.9h0m2.3-3h0m.6-.2h0m2.3 1.4h0m.3 3.7h0m.1-3.3h0m1.3 1h0m2.1 1.8h0m.1-2.6h0m2.3-.9h0m.2 1h0m.1-2h0m.9 1.9h0m.6 3.1h0m1.6-1.8h0m.7-1.8h0m2.6 .7h0m.9 1.7h0m1.1-3.1h0m1 1.9h0m1.4 .5h0m1.7-2.3h0m0-.1h0m.3-.4h0m1.7 2.5h0m.3-2.1h0m.4 .8h0m1.3 1.2h0m.8-.7h0m2.2-1.9h0m.4 .9h0m2.7-.3h0m.3 3.2h0m.3 1h0m.3-2h0m1.7 .1h0m.3 1h0m2-1.9h0m.4 .6h0m2.3 1.5h0m.1-3.3h0m1.3 .3h0m.6 4.1h0m1.4-1.9h0m.4 .2h0m.5-3.2h0m.1 .2h0m2 2.8h0m.2-2h0m.8-.1h0m.7-1.1h0m1.3 2.9h0m1.7 1.7h0m.9-4.5h0m.2-.4h0m.6 4.7h0m.2-.4h0m.4-4.5h0m1.1 2.6h0m1-2.7h0m.5 1.2h0m2.3 3.5h0m1.3-.8h0m.1-3.8h0m1.4 5.2h0m2.7-4.2h0m.1 2.8h0m.7-2.6h0m.4 .1h0m.1 1h0m.8 1.4h0m3 1.4h0m0-1h0m1.3-1.1h0m.9 1.4h0m.2-1.1h0m.8-2.9h0m.3 5.1h0m1-4h0m1.1 0h0m.4 3h0m1.4 .4h0m1.9-4.4h0m0 0h0m1.7 1.7h0m.2 2.4h0m1.5-.8h0m.4 1h0m2.2-3h0m1.5-2.1h0m.4 3.4h0m.2-2.5h0m0 2.9h0m2.7-3.4h0m.1 2.7h0m1.5-.8h0m.1-2.1h0m.4 3.8h0m.4-1.5h0m.7 3.3h0m1.4-1.7h0m.5 .3h0m2.3-2.5h0m-124 9.5h0m3.3-.9h0m.6-2.5h0m1 2.4h0m.1-1.8h0m.4 2.8h0m.9 .2h0m1.4-3.3h0m2.3 1.1h0m.4-.1h0m.9-.3h0m1.2-2.9h0m1.8 4.4h0m.4-3h0m.2 3.9h0m3.9-4.6h0m.3 1h0m.7 1.2h0m1.2 2.2h0m.9-5h0m.2 3.5h0m0-2.3h0m.6 1.6h0m.2 .9h0m3.1-1h0m.7-1h0m.5 1.8h0m.9-3.2h0m.6-.5h0m1 3.5h0m1 1.6h0m.4 .8h0m0-2.1h0m1.8-1.5h0m.9 3.3h0m1.1-3.2h0m.4-1.8h0m.9 4h0m1.6 1h0m1.2-1.2h0m1-3h0m1.2 2.7h0m.1-3.7h0m1.7 1.8h0m.5-1.5h0m1.4 1.2h0m0 2.9h0m.7-1.2h0m.3 .3h0m.9-2.5h0m.6 2.4h0m2.1 .8h0m.7-3.1h0m0-.7h0m1-.8h0m1.1 2.9h0m.1-.2h0m1.8 1.4h0m.8-2.2h0m1.1 2.5h0m.1-3.9h0m.8 4h0m0-4h0m.4 1.7h0m3.2 .3h0m1 .3h0m.9 .1h0m1.3 2.9h0m.3 0h0m1.8-4.6h0m.1 3.6h0m.9 .5h0m1.8-1.9h0m.1 0h0m1.5-.2h0m.2 .6h0m2.1-1.8h0m1-.7h0m1-1h0m.6 4.7h0m.1-4.9h0m.4 5.1h0m1.4-2.2h0m1.7 .6h0m1.1 1.7h0m1.9-3.7h0m0 1.7h0m.6 2.2h0m.6-5.1h0m0 2h0m1.4-2h0m.2 4.4h0m2.2-4.6h0m.1 .4h0m.5 3.6h0m1.2 1.7h0m1.2-.5h0m.1-3.5h0m1.3 1.9h0m.6 .3h0m.7-2.2h0m2.6-1.6h0m.6 .8h0m.7 2.3h0m2.2-3h0m.3 4.8h0m1.3-2.7h0m.5 2h0m1.2-4h0m.4 .2h0m.5 3.9h0m1.1 1.2h0m1.9-4.4h0m1.6-1.2h0m.4 4.7h0m.6-2.1h0m1.4 1.9h0m.4-2.6h0m1.4-2.1h0m1.2 3.3h0m.9-.8h0m.5-.3h0m.1-1.5h0m.7 3h0m.8 1.6h0m1.5-3.6h0m.9 3.5h0m0-2.9h0m.7-1.5h0m.3 4.8h0m.8-1.1h0m.4-2.6h0m2.1-.8h0m.2 .2h0m-123 4.8h0m.9 4.8h0m.2-3.6h0m1.4 3.6h0m1-4.2h0m1 4.3h0m0-2.8h0m.6 .3h0m1.7 1.1h0m.9-1.5h0m.7-.9h0m2.6 4.6h0m.9-5.5h0m0 3.8h0m.7-3.2h0m.7 2.2h0m1.5-1.8h0m.2 1.9h0m.5-2.6h0m.7 5.2h0m.9-2.2h0m.9 2.1h0m.1-3.4h0m.6-1.6h0m3.9 1.2h0m.3 3.5h0m.1-5.3h0m.8 3.7h0m.2 1.2h0m.6 0h0m1-4.6h0m1.1 4.7h0m.7-5h0m.9 1.9h0m.2 1.2h0m1 2.1h0m1.2-2.4h0m1.1-1.9h0m.2 1h0m.7 1.5h0m2.2-.3h0m1.4 .9h0m.1-3.9h0m.5 5.3h0m1.5-1.7h0m1.9-2.3h0m.3 1.9h0m1.8 .3h0m.4 1.8h0m1-4.9h0m1.6 1.3h0m.4 2h0m1.3-1.2h0m1.2-1.8h0m.3 4.9h0m.1-2.9h0m2.7 0h0m.1-.5h0m.5 .2h0m1.3 .1h0m.1-1.3h0m.4 2h0m.6-1.8h0m.8 1.8h0m2.2 1.5h0m.2 .6h0m0-1.1h0m1.2-2.6h0m.1 3.2h0m.4-2.1h0m.2 1.4h0m1.5-.7h0m.2-2.7h0m1.4 .9h0m.4 4h0m1.6-1.2h0m1.5-3.1h0m1.3 .5h0m1.5-1.5h0m2 .1h0m.2 3.3h0m.3-1.1h0m2.2-1.7h0m1.2-.3h0m.2 1.6h0m2 .7h0m1.6-1.2h0m.5-1.8h0m4.6 1.7h0m.1 .5h0m.4-1.1h0m8-.6h0m.8 2.1h0m2.7-.7h0m.4 1h0m0-2.4h0m1.2 2.4h0m1.1 1.7h0m.4-4.1h0m.3 2.3h0m.3-1h0m1.6 .7h0m1.3 3.2h0m1.6-2.4h0m2.5 .7h0m.1-.8h0m.2-2h0m.5-.4h0m.2-.2h0m.7 1.6h0m.8 .2h0m1.7 2.8h0m.3-1.4h0m1.9 .8h0m.9-4.5h0m.9 1.7h0m.1 1.6h0m.7 1.4h0m.6-2.6h0m3.9-1h0m.4-.1h0m-124.1 10.1h0m1.1-3.5h0m1.5 3.8h0m1.1-4.1h0m.5 2.3h0m.3 .7h0m0-3.5h0m1 .2h0m2.2 .6h0m.9 3.8h0m1.1-.5h0m.4-2.5h0m.7-1.1h0m1.4 .4h0m.9-.6h0m0 4.7h0m1.7-5.4h0m.3 3.3h0m1.9 .1h0m.3 1.8h0m1-4.8h0m1.1 2.7h0m1 1.3h0m.3 1h0m2.4-4.9h0m.6 3.2h0m0-1.9h0m1-1.9h0m.6 3.9h0m.8-2.2h0m.5 .7h0m2.8-.3h0m1.4 2.4h0m1-3h0m.7 1.2h0m.9 2.2h0m1.3-2.2h0m1.5-2.9h0m.6 4.1h0m.7-3.5h0m0 1.1h0m1.4-.5h0m2 2h0m1.4 .3h0m.5-1h0m.2 3.1h0m1.5-3.9h0m.9 1.9h0m1.6-2.5h0m0 3.6h0m.1-2h0m.3-1h0m.3 1.4h0m1.9-1.7h0m1.5 3.4h0m2.8 .6h0m.7-.1h0m.9-4.1h0m1.3-.2h0m.1 3.1h0m1.6-1.8h0m1.8 1.8h0m.3-2.2h0m0 2.9h0m3 .5h0m.6-.1h0m.8-2.6h0m.2-1.3h0m2.4-1.4h0m1 3.2h0m1 .2h0m1.1-2.9h0m.9 2.6h0m.7 1.3h0m1.1-4.6h0m.9 1.8h0m.4-.5h0m.4 .7h0m.6-1.2h0m2 1.1h0m5.5-.5h0m2.3-1h0m8.9 1.7h0m.1 2h0m2.4 1.5h0m4.2-3.6h0m.5-1.8h0m1.2 .4h0m2.3-.2h0m1 2.3h0m1.5-1.7h0m6.5 1.3h0m1.5-2h0m-109.7 6.4h0m.9-.3h0m1.9 .4h0m1.3 3.9h0m.5-.8h0m.1 1.5h0m1.3-2.8h0m.2-1.2h0m2-.3h0m.5 3.9h0m.4-2.4h0m.4 .4h0m1.2 2.3h0m1.1-1.2h0m2 .3h0m.6-2.8h0m1.2 3.1h0m1.8-.3h0m.4 1.5h0m.4-5.7h0m1.4 2.3h0m1 2.4h0m.6-2.7h0m1.7 2.2h0m.9-3.4h0m.5-.3h0m2 2.7h0m1.1-2.4h0m.2 3.5h0m.3-3h0m1.5 0h0m1.1 2.1h0m1.4 1.6h0m.8-2.6h0m1.9-2.3h0m1.4 .8h0m.1 2h0m.7 2.6h0m.3-2.1h0m.5 .1h0m1.3-3.3h0m1.2 .8h0m.4 4.4h0m.2-2.3h0m.5-1.5h0m.1-1.4h0m.9-.1h0m2.2 2.2h0m1.3-1.2h0m.9 4.2h0m1.2-.4h0m1.3-4.8h0m2.4 4.3h0m.7-3.4h0m.3 3.7h0m.4-.4h0m0-1.9h0m1.5-1.7h0m.6 3.1h0m1.1 1.2h0m1.6-4h0m0 3.1h0m2.4-3.2h0m.2 1.5h0m.7 2.9h0m.4-1.2h0m.5-3.5h0m4.5 4.8h0m1-1.9h0m2.3 2h0m.8-1h0m3.3-4h0m6.2 4.7h0m.3-1.3h0m2.7 0h0m1.9 1.8h0m7-.7h0m-81.9 2.9h0m1 1h0m1.8-2.6h0m2.2 2.3h0m.9 .1h0m4.9-.9h0m1.1 .6h0m1.2-2.5h0m.7 4.1h0m0-4h0m.9 2h0m.3-1.9h0m.9 5.2h0m.8-1h0m.3-2h0m2.3-.3h0m.6-.6h0m1.2 1.8h0m.4-1.3h0m3.7 .8h0m.5-1.4h0m.3 2.7h0m.3-1.5h0m.9-2.2h0m.7 .6h0m1.5 .7h0m.1 3.7h0m.5-.5h0m3.5-3.8h0m.9 3.6h0m1.3-3.5h0m.3-.8h0m.2 1.4h0m.9 1h0m1.6 .7h0m1.7-2.6h0m.6 1.9h0m1.2 2.6h0m1.3-2.9h0m.8 2.8h0m.1-1.5h0m1.3 1h0m1-2.9h0m.1 1.1h0m1.6 2.7h0m.2-2.9h0m.7-2h0m.8 4.7h0m1.8-2.6h0m.2 .6h0m.7 1.5h0m.3-4.5h0m3.9 1.2h0m5.7-1.6h0m1.2 2.3h0m8 3.4h0m1.5-5.1h0m0 2.7h0m.2-3.2h0m1.4 .4h0m1.8 2h0m2.4 1.6h0m.6-3.3h0m-48.1 5.8h0m2.5-.3h0m2 1.2h0m2.9-.4h0m4.6-1.2h0m.3 4.2h0m4.6-2.7h0m4.6 2h0m1.4-1.5h0m3.5 3.1h0m2.2-.7h0m.1-1.3h0m1.5 1.8h0m1 .5h0m1.7-3.2h0m1.2 2.9h0m1.8-1.8h0m.7-1.6h0m.8 1.3h0m6.3-2.1h0m.9 4.1h0m5-.4h0m3.2-3.3h0m-27.2 5h0m.6 .2h0m.6 4.5h0m.2-3.5h0m.6 3.1h0m.3-3.4h0m.4 4.3h0m.1 .1h0m.6-1.1h0m.5-1.5h0m.3-.1h0m.1 1.5h0m.4-3.4h0m.6 .4h0m.3 3h0m0 .5h0m.3 .6h0m.1-.8h0m.3 1h0m.4-.9h0m.1 .9h0m.2-1h0m1 1.1h0m0-.4h0m-5.8 .9h0m.4 1.3h0m1.2 1.7h0m1-1h0m.1-.9h0m.7 2.5h0m.6 1.5h0m.3-4.6h0m.1 3.2h0m.1 1.6h0m0-.8h0m.4-2.7h0m.2-1h0m.4 .2h0m.9 2.9h0m0 1.6h0m1.8-2.4h0m.5 1.4h0m.8 .9h0m6.8-2.6h0m.5-2.2h0m3 1.4h0m3.5 2.9h0m.7-2.2h0m-20.2 5.5h0m.5-1.2h0m1.4-.3h0m.3 0h0m0 1.8h0m.3 .2h0m.5 2.3h0m.2-3.2h0m.2 2.9h0m.5-.3h0m.2 .4h0m.5-4.6h0m.3 5.4h0m.1-2.8h0m.1-3h0m.2 4.7h0m1.6-.9h0m.1 1.6h0m.3-.5h0m.1 .6h0m6.7-4.2h0m.5 2.1h0m1.7 2.2h0m.3-4.4h0m1.8 2.9h0m3.2-.5h0m.9 1.4h0m.4-3.5h0m4.3 3.9h0m1.8 0h0m-27.1 .5h0m1.1 .1h0m.5 1h0m.8 1.5h0m.7 .9h0m.4-1.5h0m.1 1.9h0m.1-1.5h0m.2 1h0m.2 1.6h0m.1-4.2h0m.3 4.1h0m.6-4.6h0m.1 2.5h0m.6 1.1h0m.3-2.4h0m.1 2h0m.4-1.1h0m5.2-1.8h0m2.5 1.9h0m2.7 1.4h0m.5 .3h0m.3-3.1h0m2.7 4.6h0m1.5-5.3h0m.5 1.8h0m0 2h0m1.2-2h0m2.6 .3h0m4.8 1.5h0m-29.8 7.7h0m.4-.5h0m.6-.2h0m.2 .5h0m.5 .1h0m.1 .1h0m.1-1.5h0m.1 1.5h0m.2-1.2h0m.1-.1h0m.2-.3h0m.2 .8h0m.2-3.1h0m.5-1.8h0m.3 2.7h0m.3-1h0m.7-.3h0m12.7-.6h0m-21.9 10.7h0m.3-.4h0m2.1-1.3h0m.3-1.9h0m.1 1.4h0m.2-.3h0m0 .5h0m.3 .6h0m.6-3.6h0m.2-.5h0m.2 .1h0m0 2.1h0m.3-.6h0m.3-.8h0m-9.8 10.6h0m.3-.3h0m.1-.1h0m0 .7h0m.6-1h0m.8-1.3h0m.2 .1h0m.8-.1h0m.9-1.6h0m.2-.7h0m.2 1.3h0m.2-.8h0m.5-1.3h0m.3 0h0m.1-.1h0m0 .1h0m.4-.1h0m.1 .3h0m-10.7 11.4h0m.6-1.4h0m.2 .7h0m.1 .6h0m.2-1.1h0m.2 .3h0m.4-1.1h0m.8 .1h0m.2-.7h0m.2-1h0m1-1.2h0m.2 .2h0m.5 1.1h0m0-2.1h0m.2 .7h0m.7-.8h0m-9.5 10.3h0m.1 .3h0m.3-.6h0m.2-.3h0m.1 .5h0m.3 .7h0m.3-1.5h0m.5-.4h0m.9-.7h0m.3 .5h0m.2-.4h0m.1-.4h0m0 .1h0m0-.7h0m.1-1.2h0"/>
<path stroke="#1F7F94" d="M960.5 75h0m2.1-2.7h0m2.6 1.3h0m1.3-1.5h0m.1-.8h0m2.5 3.5h0m1.1-3.2h0m1.5 2.9h0m.1-3.7h0m.4 2.1h0m0 .5h0m.9-2.5h0m3 2.4h0m.8-1.5h0m.9 .6h0m-25.2 6.2h0m.4-.5h0m2 1.5h0m.9-1.7h0m2.5-.2h0m1.2 1.5h0m.8 0h0m.5-3.5h0m1.9 1.2h0m.1-1.6h0m.2 4.2h0m1.3-3.5h0m1.1 3.4h0m.4-3.9h0m.9-.2h0m.7 1.3h0m.8 2.8h0m.5 .7h0m1.8-2.9h0m.1 3.6h0m1.3-3.2h0m.5-1.6h0m1.2 2.8h0m.8-2.9h0m1.2 .9h0m.5 2.4h0m1.7 .5h0m.1-3.7h0m.5 .7h0m.5-.7h0m1.8 .4h0m.4 4.5h0m.6-4.6h0m.3 3.1h0m.8-2.3h0m.1 3.7h0m.7-1.6h0m1.7-2.8h0m-38.4 9h0m1-2.8h0m1 3h0m1.6-2.1h0m.4 2.5h0m.2-4h0m2.3 .3h0m.8 .3h0m.2 2.9h0m0-2.2h0m1.6-1h0m.3 1.8h0m.4 .6h0m.7 .3h0m.3 1.7h0m.5-5.6h0m.2 1.6h0m1.9-1.1h0m.9 1.3h0m2.1 3.2h0m.1-4.4h0m1.8 2h0m1.2 3.2h0m.5-5.7h0m.8 2.5h0m.3-.2h0m.3 2.3h0m.2-3.9h0m2 2.9h0m0-1.8h0m1.8 1.8h0m1-3.2h0m.6 1.3h0m2.5 2.7h0m.9-4.1h0m.4 3.9h0m2.1 1h0m0-1h0m.4-1.7h0m2 .1h0m.4 2h0m1.8-2.5h0m.7-.8h0m.6 1.7h0m1.9 2.2h0m0-3.8h0m-43.2 7.7h0m.3-3h0m.2 4.3h0m2.3-1.4h0m.7-2h0m.8 2.1h0m.1 .8h0m1.6 .5h0m.2-4.3h0m1 1.4h0m1.3 2.7h0m.1-3.2h0m.6 1.1h0m1.7-.5h0m.4 3.5h0m.9-2.3h0m1.2 .1h0m1.1 2.3h0m.4-5h0m1.6-.3h0m.1 1.7h0m.7 2.7h0m.4-3.6h0m1.9 1.1h0m.9-.3h0m.1 1.4h0m.4 1.6h0m2 .5h0m.2-3.7h0m1.3 .6h0m0-1.9h0m1 4.1h0m1.3 .8h0m1.1-4.6h0m.4 3.5h0m2-3.4h0m.1 4.3h0m.6-2.2h0m.8 .3h0m0-1.3h0m.3 3.6h0m2.5-1.6h0m.8-.8h0m1.2-2.4h0m.4 2.9h0m.2 1.6h0m2.7-4.6h0m.1 3.6h0m.9-2.9h0m.1 1.9h0m.3 1.9h0m.4-1h0m2.2 .7h0m1.8-4.1h0m-45.4 9.6h0m3.2-.1h0m1.8-3h0m1.2 1.5h0m1.8-1.6h0m2.3 .6h0m6.3 1.8h0m.8 1.6h0m.7-4.1h0m.6 .9h0m.3 2.6h0m.5-1.9h0m1.3-2h0m.4 3.3h0m.1 1h0m1.6-.7h0m.8-3h0m1 4.8h0m.2-2.9h0m.1-2h0m2.3 4.1h0m.2-2h0m.2 1.6h0m.5-3.9h0m1.5 2.5h0m1.2-2.6h0m.9 .5h0m.8 4.8h0m.2-.8h0m1.1-4h0m1 2h0m.5-2.3h0m.8 3.9h0m.6-.7h0m.4 .3h0m1-3.5h0m.5 .5h0m1.7 3.1h0m.9-3.7h0m.6 4.1h0m.7-1.7h0m.2-.5h0m.1-.4h0m-40.5 4.2h0m15 1.9h0m2-1.3h0m1.6 2.4h0m.3 .6h0m.1-2.5h0m.5 4.4h0m1.1-2.5h0m.6 2.2h0m2.2 0h0m1-2.5h0m0-.8h0m2.1 3.2h0m1.2-2.3h0m0-2.1h0m1.7-1h0m.3 5.5h0m.8-2.3h0m.9-3.2h0m1.4 4.5h0m.9 .2h0m.1-4.1h0m.2 2.9h0m1.3-1.3h0m.9 3.3h0m.1-4h0m.9 .1h0m1.9 3.4h0m.7-2h0m.1-.2h0m1.3-1.9h0m.6 3.8h0m.5-2.1h0m2-2.3h0m-26.1 9.4h0m1.7-.2h0m.9-1.6h0m.5-.5h0m.4 4.3h0m1.3-5.1h0m.3 4.3h0m.8-1.9h0m2.5-2.1h0m.4-.8h0m.2 3.2h0m.3 1.6h0m.3 0h0m3.1-1.3h0m.2 1.2h0m.3-4.3h0m.9 2.3h0m.5 2.6h0m1.2-3.4h0m.9 1.6h0m.3 1.7h0m.2-3.9h0m1.8 1.7h0m.1-2.3h0m.6 3.7h0m1.6-.3h0m.3-2.7h0m2-.5h0m-22.7 9.8h0m.9-4.3h0m1.6 2.4h0m1.4-2.3h0m.8 3.6h0m.7-4.2h0m.4 5.4h0m1.1-1.9h0m.8-3.1h0m1.3 3h0m2.3 2.2h0m.1-4.4h0m.7 2h0m.7 .3h0m.4-3.4h0m1.1 1.1h0m.2 4.2h0m1.8-1.7h0m.4-1.6h0m1.2 2.8h0m.9-.4h0m.9-3.1h0m-21.7 8.2h0m.4-2.2h0m1.6 4h0m1.6-1.2h0m2-.5h0m.3-1.7h0m2.7-2.1h0m.1 1.3h0m2.1 .4h0m1.4 2.2h0m1.5-2.4h0m.1-1.4h0m.3 5.3h0m.4-1.9h0m.5-2.1h0m-15.9 5.6h0m17.6-.7h0"/>
<path stroke="#1DBA4F" d="M1073.1 187.9h0m3.1 .6h0m-14.1 5.8h0m.2-2.2h0m4.2 0h0m2.4-.7h0m1.4-1.6h0m3 3.7h0m.1 1.1h0m.2-4.6h0m1 3.9h0m2.9-2.7h0m.5 .8h0m.7 1.8h0m4.8 .5h0m1.5-1.8h0m.9 2.2h0m-52.8 5.7h0m4.4 .3h0m.1-.3h0m5.5-1.1h0m.3 .9h0m.4 .3h0m.6-2h0m0 2.1h0m1.3-1.3h0m.1 .6h0m.3-1.1h0m.9-.5h0m0 .5h0m.5 .9h0m2.1-2h0m.3 1.6h0m.1 1.1h0m1.3-.6h0m.1 .3h0m.1 .5h0m.6-2h0m.2-1.6h0m.6 2.9h0m.3 .3h0m.8-3.3h0m.8-.5h0m.1 .9h0m.4 1.4h0m.1-1.2h0m.2 2.5h0m2.4-3.3h0m.7-.6h0m1 2.3h0m.1-2.6h0m0 4.5h0m.2-1.1h0m0-1.6h0m.2-1.1h0m.1 1h0m1.1-1.6h0m.1 2.3h0m.3 .1h0m1.1-.2h0m.3-.5h0m.1 1.1h0m.1-2.8h0m.2 4h0m0-.6h0m.2 1.6h0m.4-5.1h0m2.1 2.9h0m1 1.9h0m.1-2.5h0m.2-1.4h0m.2-1.1h0m2.2 .7h0m.2-.9h0m.2 .9h0m.4 1.4h0m1.6 1.7h0m1.4-2.9h0m1.3 2.8h0m3.4-2.4h0m1.7 1.1h0m1-2h0m1.2 2.3h0m.4 .9h0m.2-3.9h0m4.4 5.6h0m0-2.5h0m.1-.1h0m.2-.4h0m.7 .6h0m.8 2.2h0m4.8-.9h0m-111.9 3.4h0m20.7 2.9h0m1.2 .1h0m4.6-.3h0m4.3 .4h0m.2-3.2h0m.7 1.6h0m3.3-.8h0m.8 2.6h0m0-.2h0m.7-2.3h0m.1-.5h0m.8 3.1h0m.3-2.5h0m.5 2.1h0m.2-.7h0m.1 1.2h0m.3-.6h0m0-3h0m.1 1h0m.9-.4h0m.6 1.8h0m.1 1.2h0m.3-1.4h0m0 1.4h0m.6-4.5h0m.1 4.5h0m.9-4.3h0m0 2.8h0m.2-1.9h0m1.1 2.6h0m.9 1.1h0m.8-3h0m0-.6h0m.3-1.1h0m.6 3h0m0-.8h0m.3-2.6h0m.4 .8h0m1.1 3.5h0m0-2.1h0m1.2-.6h0m.1 .3h0m.6-.1h0m.6 2.5h0m.5-3.4h0m.1 3.2h0m.3-1.2h0m.2 1.2h0m.4-2.7h0m.4 2h0m.2-3.9h0m.1 3.5h0m0-3.4h0m.2 4.2h0m0-4.3h0m.5 1.7h0m1 2.2h0m0-4.1h0m.4 3.2h0m.2-1.5h0m.2 2.3h0m.8-1.9h0m.3-1.5h0m.1 1.3h0m1-.9h0m.1 1.1h0m.2-2h0m.3 3.8h0m.4-1.8h0m.2-1.7h0m.3 2.8h0m.1-2h0m.6-1.1h0m.1 .9h0m1.9 2.1h0m1.4-2.7h0m.6-.1h0m1.2 .7h0m.7-1.1h0m.1 .7h0m2.3-.3h0m10-.4h0m1.7 .2h0m1.6 4.5h0m.9-1.8h0m3.1 2.4h0m.1-2.7h0m.6-.3h0m1 .8h0m2.4 1h0m.5-.6h0m1.1-3.2h0m2 4h0m0-3.7h0m.8 1.6h0m.6-1.3h0m3.5 .6h0m1 3.4h0m1.1-2.2h0m3.1 2.6h0m1-1.7h0m.7-1h0m1.1 2.9h0m1-2.7h0m2.9-.6h0m.6 2.6h0m1-4.8h0m4.1 3.1h0m1.5 1.4h0m-121.2 7h0m.2 .3h0m1.4-.9h0m.2 .7h0m.4-.4h0m1.5-1.3h0m1.4 .9h0m1.3 .2h0m.1-.4h0m.3 .7h0m.1-1.2h0m.9 .4h0m0-.5h0m.5-1h0m1.2 1h0m.6 1.5h0m1.2-2.8h0m.4-.9h0m.2 2.3h0m1.8-.9h0m1-.7h0m1.8 0h0m.2-.8h0m.4 .3h0m.6 .4h0m0 1.1h0m.2-1.8h0m.4 2.3h0m.1-1.9h0m.2 .9h0m.4-2.1h0m.1-.1h0m0 2h0m.2-1.4h0m.5-.5h0m.2 2.2h0m.4 1.1h0m1.1-2.4h0m.8-1.8h0m.1 1.8h0m.2-1h0m.3 .9h0m.3 2.2h0m.2-3.3h0m.1 1.2h0m.1 .9h0m.4 1.1h0m.8-.1h0m.1-3.3h0m.1 2.1h0m.3 .3h0m.1 .8h0m.4-.1h0m.3-1.7h0m.1-1.2h0m2.1 3.5h0m1.5-2.8h0m.9 1.4h0m.7-1.8h0m1 .6h0m.1 .9h0m.8-.5h0m1 .1h0m1.2-.4h0m.3 3.5h0m.3 .7h0m1.5-5.2h0m.6 3.4h0m.7 .5h0m.4-3.2h0m0 1.1h0m.9-1.2h0m1.3 3.6h0m.3-.8h0m1.7-3.1h0m.2 .5h0m.8 4.4h0m.7-2.9h0m39.1-2.5h0m2.7 2.7h0m.3 1.8h0m1-4.8h0m.7 5.5h0m1-3.8h0m1.5-.2h0m.5 1.6h0m.1-2.6h0m.2 .4h0m2.5 1.3h0m.1 2.7h0m.2-1.6h0m3.1-2.2h0m.6-.9h0m.6 1.1h0m2.1 3.9h0m.3-.9h0m.5-4.4h0m1.4 1.2h0m1.7 2.3h0m2.7 1.6h0m1.6-1.1h0m.6-3.5h0m.7 .6h0m2.3 1.7h0m1.5-1h0m1.6-.6h0m.6 2.5h0m1.2-.6h0m1.3-2.3h0m1 4.1h0m.9-.3h0m1.4-.4h0m.4-2.3h0m2.5 .4h0m2.8 1.9h0m2.6 1.5h0m-144.1 5.8h0m.6 .1h0m3.3-1.1h0m.3 1.4h0m.9-3.9h0m.3 2h0m.5-1.8h0m.2 2.5h0m1.3-1.2h0m.2-.1h0m.7-.3h0m.1-1.9h0m.5 1.1h0m1.7-2h0m.1 2h0m.3-1.1h0m.5 2.4h0m.6-3.1h0m.4 1.5h0m.3 0h0m2.4-.1h0m.2-1.3h0m4.5 0h0m31.1 2.3h0m.2 0h0m.6-.4h0m.1 1.4h0m.8-3.1h0m.5 2h0m.2 2.2h0m.7-.5h0m.3-1.5h0m.2-.8h0m.1 1.4h0m.4 .5h0m.3-2.5h0m.5 .3h0m.3 3.4h0m.1-1.5h0m.1-2.2h0m1.5 .5h0m1.7 3.5h0m37.4-.2h0m.4-1.4h0m1.8-.6h0m1.3-2.4h0m.1 2.4h0m.7-1.3h0m1 2.9h0m.7-2.9h0m2.2 2.7h0m.2-4.3h0m1.1 2h0m.6 2.9h0m1.9-2.6h0m.2-1.7h0m.1 3.2h0m1.1 1.3h0m.7-.2h0m.9-4.7h0m2 4.3h0m.1 .3h0m.2-3.9h0m.4-.8h0m1.5 1.4h0m2.6 2.2h0m.5-3h0m1.8-.1h0m1.4-.9h0m3.2 4.4h0m1.7-3.8h0m.4 4.3h0m.8-3.2h0m0-.2h0m1.1 3.6h0m.6-5.3h0m1.6 3.7h0m1.7-.2h0m1.7-1h0m.1-2.1h0m1.4 3.8h0m.8-2.5h0m.2 .8h0m2 3.3h0m1.4-3.3h0m1.4 2.4h0m.4-1.9h0m.2 2.1h0m.2-2.6h0m-144.4 3.8h0m1.3 .8h0m.2 .3h0m.9-1.1h0m2 .1h0m1.1-.4h0m46.5 .6h0m1.5 3h0m.2 2h0m.7-.1h0m.1-3.9h0m.2-1.3h0m.9 .1h0m.2 5.3h0m.5-4.9h0m.3 4.2h0m.2-4.2h0m.2 3.7h0m.1-1.8h0m.2 .8h0m.1 .6h0m0-3h0m.3 3.7h0m.1-4.7h0m.5 4.1h0m0-1h0m0 1.4h0m.5-3.4h0m.1-1.2h0m.4 1h0m.8 1.2h0m37.1 .6h0m3.5-.5h0m.5 2.8h0m.9 .3h0m.2-2.6h0m.9-1.2h0m0-.7h0m7.2 1.8h0m1 .2h0m2.9-1.7h0m.3 2.5h0m.5 1.5h0m2.1-4.7h0m1 .4h0m.7 3.1h0m1.1 .5h0m0 .1h0m1.1-4.2h0m.7 1.6h0m1.4-1.7h0m.4 4.9h0m.1-3.4h0m2-1.1h0m.2 2.7h0m2.2 .8h0m1.7-3.3h0m.5 2.3h0m1.9 1.5h0m.7-2.2h0m.8 1.4h0m.8-3.3h0m2.5 2.8h0m2 2.1h0m0-4.6h0m1.2-.2h0m2.5 1h0m1 4.2h0m2.8-4.2h0m.4-1.3h0m2.9 5h0m.9-.4h0m.9-.6h0m-98.8 2.1h0m1.7 3.7h0m.2-2.6h0m.8 3.1h0m.7-2.7h0m.3-.9h0m.4 3.1h0m.5 .8h0m.2-2.9h0m.1 2.3h0m1-.3h0m.3-3.9h0m.1 4.5h0m39.1-1.4h0m.6 2.1h0m.5-3.2h0m.2 .1h0m2.5 1.8h0m.8-2.1h0m2 .7h0m.9-2.3h0m.9 1.4h0m.8 2.7h0m2.1-4.2h0m.2 3.9h0m2.8-3.9h0m.5 2.2h0m.7 .7h0m1.9-.1h0m1.1 1.6h0m2.5 .2h0m.6-3h0m.2-1.7h0m1.8 1.3h0m2.3 4.4h0m.8-.9h0m.9 .2h0m.1-3.9h0m.6 .4h0m.6-.3h0m2.1 4.1h0m1.1-3.4h0m2 2.8h0m.6-3.2h0m.6 3.7h0m1.2-5.3h0m.6 3.1h0m.5 2h0m.7-4.5h0m2.1 2h0m.2-1.1h0m.7 2.2h0m1.4 1.8h0m.8-3.7h0m.4 3.8h0m.5-3.9h0m.5 1h0m3.9-2.3h0m.7 2.7h0m0-2.6h0m.7 1.2h0m.1 .6h0m.3-.1h0m.4 1.7h0m.8-2.2h0m.1 2.6h0m.2-4.3h0m.1 3.5h0m.3-2.3h0m.1-.1h0m.6-.5h0m.1-.1h0m.3 4.8h0m.3-.2h0m.2-3.4h0m0 .2h0m.1 1.1h0m.8-1.2h0m0 3.6h0m.5 .3h0m1-.1h0m-102.3 4.4h0m.7 .7h0m.2-1.8h0m.2 .9h0m.2 1.3h0m.2-5.1h0m.3 .2h0m.4 1.6h0m.5 .6h0m.1-2.2h0m0 3.2h0m1.5-1.9h0m.3 .8h0m.1 .1h0m2 0h0m1.4 1.1h0m37-1.8h0m2.4 .4h0m.5-.4h0m.5 2.9h0m3-3.8h0m.3-.7h0m1.4 .2h0m.1 .6h0m.4 .7h0m2.2 1.6h0m1.9-2.7h0m.7 1.6h0m.2 2.8h0m1.3-3h0m.5-1.6h0m1.4 1.6h0m5 3.6h0m1.5-5.1h0m.3 .6h0m2.1 3h0m2.8 1.5h0m.1-2.8h0m1.7 2.7h0m.6-4.9h0m.1 1.6h0m2.7-.4h0m.1 4h0m.6-4.3h0m2.4-.4h0m.2 .1h0m.7 3.4h0m.1-2.4h0m2.4-.9h0m1.8 4.1h0m1.2-1.5h0m.4-.4h0m1.1 .3h0m1.6 2h0m1.2-1.8h0m2.3-3.9h0m.3 2.5h0m.2-.4h0m2.7 1.9h0m1.7-3.5h0m.3 1.4h0m1-1.5h0m1.8 3.9h0m0-4h0m.1 1h0m.1 1.2h0m.1 2.9h0m.2-3.7h0m.1 3h0m.1-4.6h0m.5 5.3h0m.5-3.2h0m-103.7 5.5h0m1-.8h0m.9 .4h0m.1 2.3h0m.4 .5h0m.2 1.3h0m.9-3.2h0m.7 1.2h0m.1-1.1h0m1 3.2h0m.7-.3h0m1.2-1.1h0m.3-.2h0m2.3 1.4h0m7.4-.3h0m25.7-5.1h0m3.2 1.1h0m2.5 4.5h0m.1-.3h0m.8-2.2h0m.5-3h0m1 3.1h0m2.5 .1h0m.3-2.4h0m.5 5h0m.3-5.2h0m1.1 4.6h0m.5-2.5h0m1.4-1.2h0m2.1 2.7h0m.7 1h0m.2-4.9h0m.2 2.1h0m.1-1.8h0m2.5-.1h0m.6 2.7h0m.7-3.1h0m2 3h0m.3 .8h0m1.6 .5h0m1.3-1.9h0m1.4 3.1h0m1.4-4.9h0m.6 1.8h0m1 1.7h0m1.4 .9h0m.1-3.7h0m1.3 1.9h0m.6-1.1h0m3.5-.2h0m.2 2.3h0m1.1-4.2h0m.5 3.2h0m2 1.5h0m.2-3.3h0m1.2-1.1h0m2.5 3.2h0m.4-1.6h0m3.6 3.6h0m5-3.9h0m.8 1.7h0m1 1.6h0m.6-3.6h0m.5 2h0m.5-3.3h0m.2 1h0m1.2-1h0m0 4.9h0m.2-.4h0m.3-3.7h0m.1-.1h0m1 2.5h0m.6-3.1h0m.3 1h0m.4 1.4h0m.3-1.7h0m-105.6 5.9h0m0 2h0m.2 .3h0m1.1 0h0m.1 .1h0m.7-1.9h0m.1 .3h0m.4 .5h0m.5 1.4h0m.3-.9h0m.1 1.6h0m.4 .5h0m.1-3.5h0m.1 .9h0m.4 2.2h0m.5-1.2h0m.4 .8h0m.2-3.6h0m0 2.2h0m.7-2.3h0m0 1.2h0m.6-.7h0m.2 3h0m.5-.2h0m0 .2h0m.4 .6h0m.2-.9h0m.4-3h0m.1 3.6h0m.3-.7h0m0 1.2h0m0-.1h0m.2-1.3h0m.3 .7h0m.5-.5h0m.2-.9h0m.8-1.7h0m.8 .1h0m.6 3.9h0m.3 0h0m.2-1.4h0m.4 1.5h0m.5-.4h0m0-.3h0m.4 .8h0m.6-2.3h0m2-1.2h0m.6-.8h0m1.2 2.2h0m0-2.4h0m0 2.5h0m.2-.2h0m.6-1.4h0m.5 .6h0m0 1.6h0m1.4-1.8h0m.2 0h0m.9 .8h0m.2 .6h0m1 1.5h0m0 .8h0m.5-5.5h0m.7 5.5h0m.1-1.1h0m2.5-2.4h0m.5 2.7h0m.4-1h0m1.6 1.3h0m1.1-1.7h0m.3 .5h0m.2 .4h0m3.3-.5h0m0-.2h0m.2-.4h0m1.6 1.4h0m.1-.8h0m1.9 1.5h0m.3-1.7h0m1.3 2.3h0m.2-.3h0m2.4 .3h0m1.5-.2h0m.6-3.7h0m1.8 3.9h0m.4-2.9h0m.9 1.7h0m1.3-2.1h0m1.1-1.2h0m.8 1.9h0m2.9 2.4h0m.2-3.6h0m1.9-.4h0m1.8 1.9h0m.6 1.6h0m.5-.4h0m.4-1.8h0m.2-2.7h0m1.6 1.2h0m1.4 4.3h0m1.2-.6h0m1.1-2.2h0m.7 .5h0m2.4-.5h0m3.3-.2h0m.2 2h0m0-3.9h0m1.1 2.2h0m1.1 1.8h0m1.6 0h0m1.6-4.7h0m1.2 2.3h0m.4 3.4h0m.5-3.7h0m1.6 1.7h0m.7-1.8h0m1.6 1.9h0m1.8-.7h0m.1 1.8h0m1.1-4.4h0m1.8-.1h0m0 1.1h0m2.4-1.3h0m1.4 5.2h0m1.5-3.8h0m2.2 1.5h0m1.3 2h0m.5 0h0m.3-.6h0m4.9-1.2h0m0-1.7h0m.7-1h0m1 0h0m.9 2h0m.1 .5h0m.3-2h0m.3 3.8h0m0-1.1h0m.1-3.4h0m.4-.2h0m.1 2.5h0m.1 2.2h0m.2-1.7h0m.1 1.8h0m.3 .3h0m1.5-.6h0m.1-2.6h0m.4 2.4h0m.2-2.2h0m-105.4 5.3h0m.1 1.5h0m.5-.1h0m1.4-2.4h0m.4 0h0m.8 2.9h0m.4-.3h0m1.6 .3h0m1.7-2h0m.5 1.9h0m1.9-.6h0m.5 .8h0m.2-1.4h0m.4-.2h0m.9 3.6h0m.4-3.7h0m.5 .9h0m1.1-2.7h0m.7 2.9h0m0 1.5h0m1.4-2.8h0m.2 .9h0m1.5 .3h0m.6 2.4h0m.6-4.6h0m1.7 3.5h0m0 .4h0m.8 .1h0m.6 0h0m0-3.1h0m.1 0h0m0 0h0m1.2-.4h0m.1 3.4h0m1-3.9h0m.4-.1h0m.2 1.8h0m.1-1h0m.4 .1h0m1.2 1.1h0m.2 3h0m0-5.2h0m0 2h0m.2 .1h0m1.8 1.5h0m.1-1.7h0m1-.6h0m1.4 3.6h0m.1-2.9h0m.3-2.6h0m.2 5.8h0m.4-4.3h0m.4 1.9h0m.7-2.7h0m.4 2.1h0m.7-.5h0m.8-.4h0m.4 3.7h0m.1-1.8h0m.5-1.2h0m.9 .5h0m.4-.1h0m1.8-2.9h0m.9 5.6h0m1.4-3.5h0m1.3 3.6h0m.4-3h0m1.3 .7h0m1.6 1.7h0m2-3.7h0m.2 3.5h0m.9-2.4h0m1.5 3h0m.9-4.6h0m1.7 3.9h0m.9-1.8h0m1.2 .7h0m0-1.7h0m1 1.7h0m1.8-.2h0m2.4-3.5h0m1.6 3.9h0m.4-1.7h0m2.5 .7h0m.6-.8h0m.3 3.2h0m1.8-2.1h0m2.7-1h0m1.8 1.2h0m.6-1.5h0m0 .9h0m4.3-2.7h0m2.4 1.2h0m1.5 0h0m5.1-.7h0m.3-.2h0m3.1 3.8h0m1.2-1.3h0m1.8 1h0m2.1-3.3h0m2.8 5.1h0m4.6-5.2h0m.1 3.8h0m1 1.2h0m0-.1h0m.1-4.7h0m.3 1.5h0m.1 .4h0m1.1-1.9h0m0 5.1h0m.1-5.1h0m.6-.2h0m1.3-.3h0m0 2.9h0m0 1.7h0m.2 .4h0m.6-1.8h0m.6 1.7h0m-106.7 1.4h0m24.1 .9h0m1.4-.5h0m.6-.2h0m.4 2.5h0m.5-2h0m1.5-.2h0m.7 2.5h0m.4-2.9h0m0 1.6h0m2.6 .1h0m1.4 0h0m.2 2.3h0m.7-2h0m1.4-2.6h0m.1 2.5h0m.1 1.2h0m.3 .6h0m.6-1.7h0m.1 1.8h0m.3-4h0m.7 1.2h0m.3 1h0m1.3-.6h0m.8-.8h0m3.9 1.5h0m.1 .7h0m2.4 2h0m.3-3h0m2-2.5h0m.1 5.9h0m.8-3.3h0m.1 .3h0m1.4 2.1h0m3.5-2.7h0m.2 .2h0m2.9 1.5h0m.3-3.4h0m.2 1.4h0m1.2 3.7h0m.1-5.2h0m.7 .7h0m2 .7h0m1.2 2.4h0m.5-3.2h0m1.9 3.9h0m2-2.2h0m.7-2h0m11.5 2.5h0m1.4-1.8h0m.6 4.1h0m1.1-4.9h0m.4 4.5h0m.6-.7h0m.6-3.2h0m.9 2.4h0m0-1.8h0m0 3.4h0m4.2-1.2h0m.5-2.5h0m.5 2h0m1.9-2.9h0m.5 3.8h0m.5-3.8h0m.4 4.5h0m2.6-4.6h0m1.4 5.4h0m1.1-5.8h0m3.5 .2h0m.7 3.2h0m.2-3.1h0m0 3.3h0m0-2.9h0m.4 2.1h0m.6 1.4h0m.1-1.4h0m.1-1.3h0m.1 .9h0m.8-1.4h0m1.3 3.5h0m.5-2h0m.3 2.2h0m.3-1.9h0m.6 .5h0m-72.2 5.9h0m1.8-2.6h0m9.7 3.5h0m21.2-1.7h0m14.3 .1h0m1.2-1.9h0m1.2 3.5h0m1.8-3.6h0m2.1 .2h0m0-.2h0m1.2 4.2h0m3.1-2.1h0m2.4-.3h0m3.9 1.5h0m.2 2h0m.6-2.3h0m1.5-2.2h0m.1-1h0m1.1 3.5h0m.5-.6h0m.1-.1h0m1.5-.7h0m0-2h0m0 1h0m.3 2h0m.1-2.2h0m.6 1.3h0m.4 1.2h0m.1-1.7h0m.8 2.6h0m.1-2.1h0m.7-.9h0m.6 3.8h0m.2-.8h0m1.1-.1h0m.9-.1h0m-80.7 3.3h0m15.1 2.6h0m.1 .5h0m39.7-4.3h0m5.1 3.2h0m5.6 1.2h0m1.8 .6h0m3.3-2.5h0m7.3-2h0m.4 1.9h0m.2-.2h0m.2 2h0m0-4.1h0m.4 2.5h0m.3 .7h0m0-.7h0m.7-1.4h0m.1 .3h0m.1-1.5h0m0-.1h0m.4 4.2h0m.2-.1h0m0-2h0m.4 3.2h0m.1-3.7h0m.4 2.9h0m4-.6h0m.1 1h0m3.2-1.5h0m11.7 1.1h0m-52.9 6.7h0m4.9-1.5h0m1.1-2.4h0m.4 .2h0m2.5-.1h0m.8 1h0m2.4 .9h0m.1-.5h0m3.6 1.9h0m.6-2h0m1.8-1.3h0m1.5 3.4h0m.4-1.2h0m1.7 .7h0m.7-4.2h0m2 .3h0m5.2 3.3h0m2.9-4.1h0m0-.2h0m.3 3h0m.1 2.2h0m0-3.3h0m.1-.6h0m.3 2.1h0m1.7 .5h0m.9-2.1h0m1-.1h0m1.8 .1h0m.6-1.4h0m.3 4.7h0m.7-1.6h0m.2-.8h0m3-2h0m.8 4.4h0m.5 .1h0m.3-1.2h0m2.4-2.1h0m3-1.2h0m.6 4.4h0m2.5 0h0m3-1.1h0m1.8-3h0m1.8 3h0m2.8 .8h0m.9-1.4h0m2.2 2.2h0m-98.6 4.5h0m.3-.1h0m21.7 1.6h0m5.6-3.2h0m1.1 3.1h0m1.2-1h0m1.7-2.4h0m2.3 1.5h0m.2 1.5h0m.8-3.1h0m1.4-.9h0m1-.3h0m.1 3.4h0m2.8 1.5h0m1.2-5.2h0m1-.4h0m0 2.9h0m1 1.9h0m.8-4.1h0m2.3 2.2h0m.2-.3h0m.4-1.6h0m1 3.5h0m.2-2.9h0m3.4 1.8h0m3.8-2.7h0m1.8 3.1h0m2.7-1.6h0m.3-2.2h0m1.5 3.9h0m.1-.2h0m3.2-3.8h0m.7 4.1h0m.1-4h0m3.1 5.6h0m1.2-5.2h0m.4 2.7h0m1.1 2.1h0m.8-2.1h0m2.5-.2h0m1.6 1.4h0m1.8-3h0m1.8-.6h0m1.2 4h0m.1-4.5h0m.5 5.2h0m.8-2.5h0m.1-1.6h0m2.4 3.9h0m2.6-2.7h0m.5 3.3h0m1.9-4.9h0m.4-.1h0m.4 2h0m2.2-2.2h0m2 .6h0m.9 2.2h0m1.2 .1h0m.2 1.5h0m3-1.7h0m-98.7 8.5h0m.9-2.7h0m0 1.2h0m.2 .5h0m.2-1.5h0m.7 1.6h0m.5-1.1h0m12.7-1h0m.1 .7h0m5.9 .3h0m1.4-3.5h0m1.1 4.6h0m3.8-3.2h0m1.7-1.6h0m1.9 4.9h0m.5-1.4h0m.2-1.4h0m.2 1.7h0m2.6-3.8h0m.5 5.1h0m2.6-3h0m.3 3.4h0m.6-1.6h0m1-.3h0m2-.2h0m0 1h0m.1-2h0m3-.6h0m1.3 3.7h0m.8-2h0m.1-3.3h0m.7 1h0m3.1 4.6h0m0-3.7h0m3 2.1h0m1.2-1.5h0m1.7 2.8h0m.2-5.2h0m.7 3h0m.4-3.2h0m0 4.9h0m1.5-3.1h0m.1 2.8h0m1.6-4h0m.5 3.4h0m.4-2.7h0m.1 2.9h0m3.2 .3h0m.3-2.1h0m5.1-1.2h0m.8 .5h0m1.3-.7h0m.3-1.3h0m1.6 5.1h0m5.1-2.7h0m.3-.3h0m1.4 1.4h0m1-.6h0m2.5-2h0m2.8 3.4h0m1.6 .7h0m1.5-4.1h0m.3 4.8h0m.4-2.5h0m.6 .8h0m.2-2.9h0m5.4 1.6h0m.3 1.4h0m.4-2.6h0m.6 3.7h0m3.3-1.1h0m-102.8 5.1h0m.4 2.4h0m0-1.1h0m.9-2.2h0m.8-1.9h0m0 5.5h0m0-3.4h0m.6 1.9h0m.3-2.8h0m7.3 1.8h0m.6 .2h0m9.1 2h0m.6-4.1h0m2.2 .1h0m.8 0h0m.6 2.3h0m1 .6h0m1.7-2h0m1.3 2.7h0m.8-.8h0m2.2-2.3h0m1.5 2.9h0m1.8 .5h0m.6-2.8h0m1.4-.8h0m4.2 3.8h0m2.1-5h0m1.3-.2h0m1.4 5.1h0m.5-4.5h0m2.6 4.5h0m.7 .1h0m2.9-5h0m.3-.6h0m.3 5.1h0m.8-1.5h0m.8-3.2h0m.6 3.7h0m.5-1.8h0m6.9 1.4h0m1.8 .8h0m.2 .1h0m.8-3.6h0m3.3 3.4h0m0-1.7h0m.3-1.9h0m.9 .2h0m1.8-.2h0m2 1.2h0m1.8 2.7h0m1.2-.8h0m.9-4h0m1.3 .5h0m1.7 3.9h0m2.5-.3h0m1.6-1.4h0m.3 2.7h0m2.1-3h0m1.1-.7h0m1.6-.6h0m.2 4.7h0m1.3-.3h0m.8-1.6h0m1.2-3.8h0m.4 5.6h0m1.4-2.3h0m.8 1.9h0m.6-5.2h0m2.3 4.1h0m-99.8 7.2h0m1.2-2.4h0m.1-.1h0m.1-1.7h0m.4-1.1h0m.8 2.5h0m.3-.1h0m.9-1.2h0m6.8 4.1h0m.2-.1h0m13.1-1.2h0m.1 1.3h0m1.1-2.5h0m.7-1.2h0m2.8-.4h0m.1 2h0m1.3 .5h0m2-3.5h0m.4 1h0m2-.9h0m0 4.7h0m1.5-.1h0m.2-3.5h0m4.7 .9h0m0 2.7h0m.4-1.9h0m3.9 1.8h0m3-1.3h0m0-2.6h0m1.3 4.4h0m.6-4.4h0m1-.7h0m4.7 .1h0m2.9 0h0m3 1.2h0m.7 3.7h0m.7-1.8h0m.3-1.8h0m2.5-.3h0m1.6 1.4h0m1 1.7h0m2.8-1.6h0m1.3-.7h0m.1 2h0m.4 1.6h0m1.7-.8h0m1.3-1.4h0m.2-3.6h0m3.9 2.7h0m1 1h0m1.5-3.6h0m1.5 3h0m.6-1.2h0m.4 .6h0m2.4-1.5h0m.7 3.5h0m.6-.7h0m2.2 1.3h0m.3-3.6h0m2 1.4h0m4.6-1.9h0m-95.6 9h0m.2-3.5h0m.3 3.5h0m.4-2.8h0m.1-.2h0m0 4.1h0m.3 .7h0m0-3.6h0m0-1h0m.4 4.5h0m.1-1.3h0m.3-4.5h0m.2 4.7h0m.3-4.1h0m0 3.6h0m.1-.6h0m.3-.7h0m.5 2.3h0m11.9 .1h0m3.5-2.8h0m.9 1.1h0m.1-.3h0m2.4 1.5h0m.1-4.4h0m.8 2.1h0m1.8-1.9h0m.2 3.1h0m.4-1h0m.9 2.5h0m.3-4.2h0m.8 .7h0m1.7 3h0m3.1-.4h0m.4-1.6h0m1.9-.5h0m1 .9h0m.1 2.5h0m4.6-2.7h0m.9 1.9h0m0-2.4h0m2.1 1.5h0m1.1 .8h0m1.4-3.1h0m.3 1.2h0m.4 2.2h0m2.1 .4h0m.7-1.1h0m1-.5h0m2.2-2.8h0m.3 4.1h0m1.4-2.5h0m1.5-2.4h0m.3 4.6h0m.8-4h0m.5-.8h0m1.1 3.7h0m.5 0h0m.3 1.8h0m.5-4.4h0m1.3 .5h0m3.3-1.3h0m1.2 2.2h0m.6-.4h0m1 1.5h0m1.4-.5h0m.6-2h0m.9 2.6h0m2.5-1.3h0m.1 2.6h0m3.5 .7h0m.9-3.4h0m.8-.4h0m1.7 1.7h0m.5 2.3h0m1.6-4.7h0m1.4 .6h0m.1 0h0m2.5-.2h0m.2 2.3h0m.2 .3h0m3.1-2.6h0m1.3-1.3h0m-88.6 6.9h0m.3 .2h0m.2-.7h0m.5 .6h0m.8-.6h0m.3 4.5h0m.1-3.4h0m.4 3.3h0m.3-2h0m1.6 .4h0m.3 1h0m7.9-1.4h0m.8 2.2h0m1.5-5.2h0m.9 1.4h0m1.2 3.8h0m.4-4.3h0m1.5 2.2h0m.4 2h0m.3-3.9h0m1.9 3.4h0m1.3 .1h0m1.2-3.6h0m.3 3.8h0m1.4-1.5h0m2.3-2.8h0m.3 1.6h0m.5-.5h0m4.1 .9h0m.8-2.7h0m1.5 4.7h0m.2 .4h0m.9-1.1h0m3.6-.6h0m.3 .3h0m.5-2.1h0m3.4-.9h0m.8 3.7h0m.9-2.9h0m.5-.4h0m.4 3.9h0m1 .6h0m2.2-1.6h0m2.3-.4h0m1.9-1.2h0m1.8 3.2h0m1.2-.9h0m1-2.1h0m.2 .9h0m1.1 .3h0m3.7-2.6h0m2.3 3.2h0m.3-2.6h0m2 3.4h0m.2-2.9h0m2.1 2.8h0m.3-2.2h0m2-1.7h0m.6 2.8h0m.2-.5h0m1.9-2.2h0m2.6 .4h0m.9 4.1h0m.4-1.4h0m1.7-1.9h0m.1 1.4h0m2.1-2.6h0m-79.4 4.9h0m1.1 1.2h0m.7-.6h0m.2 .8h0m1.8 .1h0m.2 1.6h0m2.2-.8h0m.5 0h0m2-.5h0m.1 2.5h0m1.6-1.2h0m.6 2h0m2.5-3.2h0m.4-1.8h0m3.9 2.7h0m.1-1.5h0m.1 4.4h0m.6-3.2h0m3.2-.5h0m1.3 3.5h0m.1-5.3h0m1.1 5h0m1.2-2.6h0m.6-1.8h0m.6 4.3h0m2.4-3.1h0m1.5 2.7h0m2.6-3.2h0m1.9-.6h0m1.6 1.7h0m.6-.4h0m1.2 3.2h0m1-2.9h0m.7-2.4h0m2 1.7h0m3.1 2.8h0m1.1-.5h0m.2-3.5h0m2.4 2.9h0m.8 2.3h0m.4-4.5h0m1.4-.6h0m.1 .4h0m.6 3.9h0m2.6 .2h0m1.7 .5h0m.3-3h0m.2-1.1h0m2 1.8h0m.9-2.1h0m2.1 2.4h0m2.7-1.3h0m.1 2h0m2.7 .1h0m1.6-1.5h0m1.7 .7h0m.7-1.3h0m.1-.3h0m4 2.9h0m0-1.7h0m1.2 .3h0m.7 2.2h0m.1-5.8h0m.3 2.2h0m.3-1.1h0m1.1 3.7h0m1.8-1.5h0m0 .3h0m2.5 1.9h0m-80.7 1.2h0m5.3 1.5h0m3.8-.7h0m.8-.6h0m20.3 1h0m1.8 .2h0m2.4 .8h0m1.4-1.9h0m1.1-.2h0m1.9 2.1h0m3-2.9h0m2.3 4.4h0m.1-3h0m2.9 2.1h0m.5-.2h0m.5-1.7h0m3.6-1.2h0m1.2 .4h0m.9 3.3h0m3.1-1.5h0m.1-2.6h0m2.5 3.8h0m2.9-1.9h0m4.5-.5h0m2.5 .7h0m2.2-2.3h0m4.5 3.9h0m.4 1.1h0m.3 .6h0m.6-5h0m.1 1h0m.7 0h0m.3 2.7h0m.1-1.3h0m.5-.4h0m1.3-.2h0m.2 2.7h0m.5-4.3h0m.3 4.9h0m.2-2h0m.1-1.4h0m0 2.7h0m.1-2.8h0m.7-.3h0m.1-1.2h0m.1 4.1h0m.3 0h0m.5-4.5h0m.3 5.1h0m.9-4h0m.3 2.8h0m.1-1.1h0m.1 .2h0m.6 .1h0m2-1.8h0m.7 1.6h0m.4 2.8h0m.2-2.9h0m.8-.2h0m.2 3h0m0-.6h0m.6-.8h0m.3-.9h0m1.7 1.4h0m-86.6 4.7h0m4 2.1h0m11.8-.4h0m13.9-3.2h0m2.3-2.1h0m0 2.3h0m1.7 1.7h0m1.7-3.5h0m3 2.4h0m2-.7h0m3.6-1.3h0m0-.6h0m2 4.8h0m8-1.6h0m.7-1.6h0m19.5-.2h0m.6 .3h0m.4-1.4h0m.9-.4h0m.4 .5h0m.6 3.4h0m.6-1.9h0m1.2 3.6h0m.7-3.9h0m.2 .9h0m1.4-1.6h0m.9 4.5h0m.1-3.6h0m.3 1.8h0m.2 .5h0m.1-4.2h0m1.2 1.4h0m1.1 1.7h0m.4 1.3h0m0-.8h0m.1 .6h0m0-1.4h0m.9 1.1h0m.4-1.7h0m.4 3.3h0m.1-4.6h0m.1-.5h0m1 .9h0m.1-.5h0m.3 1.4h0m.6-2.4h0m.1 4.3h0m1.1 1.2h0m0-.3h0m1-2.3h0m.5 2.2h0m.1-2.6h0m9.8 2.7h0m-107.1 6h0m5.5-4.6h0m16.5 4.8h0m.6-.2h0m.8-.2h0m18.4-2.5h0m7.2 2.5h0m2.2-1.7h0m7.8-1.6h0m6.5 1.2h0m7.9 2.9h0m3.4-3.6h0m9.5 2.8h0m.4-1.6h0m.2-1.5h0m2.4 3.7h0m1-.1h0m.2-.2h0m.5-4.9h0m.3 .8h0m.1 3.1h0m.1-2.7h0m0 1.6h0m.4 2.3h0m.2-5h0m.3 1.1h0m.1 2.2h0m.6-2h0m.8 2.2h0m1.1-2.6h0m.2 .7h0m1-1.3h0m.3 0h0m2.4 .9h0m2 1.1h0m.7 2.3h0m2.5-4.8h0m.7 3.1h0m.5 2.1h0m.1-2.2h0m.2-1h0m2.1-.1h0m2.9 .3h0m-112.1 7.8h0m8.1-2.7h0m3.1 3.9h0m0 .1h0m2.5-1.3h0m1.2 .8h0m.4-.7h0m.3 .5h0m.4 .8h0m.6-1.5h0m.4 .7h0m.1-2.2h0m0 .3h0m.3 2h0m1.6-2.5h0m.1 2.2h0m3-4.6h0m.5 .1h0m1.2 .2h0m0 .1h0m.2 .7h0m.6-.9h0m0 .2h0m.1 2.2h0m.7-.5h0m11.9 2.5h0m1.3-4.4h0m2.6 4.2h0m12.9 1.3h0m17.5-2h0m8.4 .7h0m5.2-2.1h0m5.7-2.4h0m.2 .3h0m.4-.2h0m.9 3h0m2.2-2.2h0m1.2 4.6h0m.8 0h0m.9-.5h0m.6 .1h0m1.7-2.4h0m.1 2.4h0m.6-2.3h0m.2 .5h0m.3-2.5h0m1.5 2.1h0m0 2.4h0m.7-1.4h0m.8-2.5h0m.4 .1h0m.6 .2h0m1.9 2.6h0m.9-.1h0m.5-.3h0m3.6-.9h0m.9 2.5h0m.8-.3h0m-115.5 2.3h0m2.2 2.6h0m3.1 0h0m.2 0h0m.7-1.8h0m.5 2.6h0m1.7 .2h0m.4-3.1h0m.1 .4h0m.1 .3h0m.8-.8h0m0 1.1h0m.4-1.9h0m.5 1.4h0m.1 1.8h0m.4-3.5h0m.4 .4h0m.1 .3h0m.3 2.7h0m3.1-1.2h0m1-1.4h0m.3-1h0m7.7 .4h0m10.7-.2h0m7.2 3.8h0m1.3 1h0m7.1-.9h0m5.1-4.2h0m4.9 2.9h0m5 .5h0m2.3-3.9h0m3.5 5.1h0m.3-.3h0m1.5-3.4h0m2.9 .1h0m.6-.9h0m20 3.6h0m.1-.9h0m2.2 .7h0m.1-1.3h0m0 1.6h0m.4-4.3h0m.9 3.5h0m.1-3.3h0m.1 1.9h0m.4-2h0m.2 1.5h0m.3 2.7h0m.3-2.1h0m.1-2.1h0m.1 3.4h0m0 1.5h0m0-4h0m.1-.7h0m.1 0h0m.1 .5h0m.4 1h0m.2-1h0m.3 1.7h0m2.1-1.5h0m.3 1.8h0m.6 2.1h0m0-.8h0m.8 1.4h0m.1-3.6h0m.2 .2h0m0 1.5h0m.1-2.6h0m.4 2h0m.1-3.1h0m.6 2.9h0m.2 2.7h0m.2-.1h0m.7-.7h0m0-3.4h0m.7 3.5h0m.3-4.6h0m.1 .8h0m.8-1h0m.7 4.4h0m.9-3.7h0m.1 .5h0m.2 3.7h0m1.1-.4h0m.2-3.8h0m1.1 5h0m.6-4.9h0m-119.9 10.5h0m0-.2h0m1.1-.9h0m1.3-1.9h0m1 .9h0m.9-.5h0m.3 1.6h0m1.5-4.3h0m.6 2.5h0m1.2-.1h0m.8-1.2h0m.4-1.1h0m12.3 3.9h0m7.4 .5h0m4.6-3.2h0m1.7 3.9h0m2.5-1.3h0m1-1.3h0m5 .2h0m.4-.3h0m.4-2h0m.1 .6h0m1.6 2.1h0m.1 1.8h0m.1 .8h0m.1 0h0m.1-2.4h0m.4-2.5h0m.7 1.2h0m0 1.3h0m.1-3.2h0m.1 3.6h0m.1-1h0m.3-.3h0m1.1 1.6h0m12.6-1h0m3.5 .9h0m4.8-4h0m.8 3.6h0m7.7 1.4h0m8.3-3.5h0m11.1 4.4h0m2.1-4.5h0m.2 .2h0m2.1 3.6h0m.1-3.4h0m1.1 1.7h0m1.5-1.2h0m2.1 1.8h0m.3 .1h0m1.8 .5h0m.6-1h0m1.9-2.2h0m.9 3.2h0m.2 .2h0m2.4-4.3h0m.8 1.6h0m.4-1.6h0m.1 3.4h0m0-.7h0m.1-3.3h0m.4 4.8h0m1.2-.2h0m.6-.4h0m1.5-2.4h0m.7 .7h0m-124.7 7.9h0m.1 1.4h0m0-3.7h0m.2 2.3h0m0 .1h0m.2 .6h0m.1 .1h0m.7-.4h0m.3-1.8h0m.3-2.1h0m.4 .8h0m.4 .6h0m.5-.7h0m.6 3.8h0m.5-4.2h0m0 2.1h0m.5-.7h0m.5-.5h0m.7 .9h0m29.7 2.4h0m3.6-2.9h0m7.5-2.4h0m3.1 1.1h0m.3-1.1h0m.5 1.7h0m.1-.9h0m1 2.1h0m.1-.2h0m.1-1.9h0m1.4 1.5h0m.3 3.2h0m.3-2.5h0m.3-.6h0m.1 .3h0m.1 .9h0m.4-1.3h0m0-.3h0m.1 3.8h0m.7-2.7h0m0-.7h0m.9 3.1h0m2.6-4.6h0m1.8 3.7h0m1.6-4.5h0m3.6 4.3h0m2.2-2.9h0m9.5-.7h0m.6-.4h0m12.6 .2h0m.1 3.5h0m7.6-1.1h0m2.9 2.4h0m2.4-1.4h0m.9-.5h0m.7 2.2h0m.3-3.6h0m.1 3.4h0m.4-.9h0m.4-1.1h0m0-3.3h0m.1 4.1h0m.1-.6h0m.6 1.1h0m0 .3h0m.5 .2h0m.1-2.6h0m.2 1.9h0m.1-2.9h0m.4-.4h0m.9 2.6h0m.5 0h0m0-.5h0m.2-2h0m0 3.3h0m.9-2h0m.6 .1h0m.4-1h0m.1 3.5h0m1.7-1.1h0m1.2-4h0m.1 .5h0m.4 4.8h0m.1-2.3h0m2.9-2.9h0m0 1.1h0m1.7-.8h0m.2 2.4h0m.5-2.8h0m1.2 3.4h0m.2-1.1h0m.8 1.4h0m.7-.5h0m.3-3.5h0m1.4 3h0m1.3-2.4h0m-145.3 6.1h0m0 .6h0m13.4 2.6h0m.2 1.8h0m.1-2.7h0m.5-.9h0m.3-.6h0m.6 1.5h0m.5 1.4h0m.2-3h0m.3 2h0m1.2-2.5h0m.7 4.4h0m0-2.8h0m.2-1.3h0m.8 2.5h0m.3-1.5h0m.5-1h0m.8-.4h0m.6 .9h0m.2-.4h0m1.4-.7h0m1.2 2.3h0m10.7-.6h0m.4-.1h0m9.5 1.9h0m1.3-1.4h0m25.8-1.9h0m.3-.3h0m.3 1.4h0m0 .1h0m.1-.2h0m.4-.4h0m.2 3.2h0m.4-4.3h0m.6 .2h0m.1 3.1h0m1-.6h0m.1-2.2h0m.1 2.6h0m.4 1.1h0m.9 1h0m0-2.6h0m0 2.8h0m.1 .2h0m0-2.9h0m.2 2.7h0m0-1.8h0m0 1.7h0m.4-1.2h0m.5-.7h0m.7-.6h0m4.6-2.4h0m.7 2.8h0m4 .3h0m2.8-.7h0m5-.1h0m4-.6h0m15.3 1.9h0m.2 .7h0m1.7-2h0m3.9 0h0m1.2 1.5h0m.3-4.3h0m.1 1.9h0m.3-1.5h0m.4-.5h0m.3 1.1h0m.1-1.1h0m.8 .6h0m.5 1h0m.1-1.7h0m.6 4.6h0m.4 .4h0m.5-.6h0m.1-.3h0m.3-.1h0m.2-2h0m.1-1.5h0m.2 3.7h0m0-4h0m1.5 .7h0m1.1 .3h0m.2 1.6h0m.3 2.7h0m0-3.7h0m.2-1.7h0m1.8 .7h0m.1 3.9h0m.2-3.2h0m1.7 2h0m.3-2.1h0m.6 .8h0m.4 3.7h0m.4-3.7h0m.1 .7h0m.1-1.2h0m1.6 3.3h0m0-3h0m0 .2h0m.1-.1h0m.1 1.7h0m.5 1.1h0m.2 .1h0m2.4 .7h0m1.8-.7h0m-133.1 6h0m.3-.1h0m1-2.8h0m.2-.1h0m.7 .7h0m.2 2h0m.9-2.1h0m.8 1.6h0m0-3.1h0m2-1.1h0m.4 1.7h0m.6-1.1h0m.3-.6h0m2.6 1.9h0m1.1 2.1h0m2.5-.4h0m4.7 .2h0m22.8 .8h0m2.6-2.9h0m1.4 .3h0m.1 3.5h0m1-.1h0m1.5-4.5h0m3.2 2.5h0m9-3.2h0m4.8 .7h0m1-.8h0m.5 1.1h0m1-1.1h0m.1 .7h0m.2-.3h0m.6 3.7h0m.1-2.3h0m.2 3h0m.8-2.2h0m.1-1.7h0m.5 .9h0m0-.3h0m.4-.7h0m.3 1.3h0m.1 2.6h0m.2 .6h0m.2-1.1h0m.3 1.3h0m0-2.2h0m.1 2h0m0-3.2h0m2.3 2.7h0m1.3-3.8h0m.3-.8h0m8.8 1.8h0m7.9-.8h0m4.5 2.2h0m11.5 .3h0m1.4-.4h0m1.3-2.2h0m.4 .1h0m.5 3.3h0m0-2h0m1.5-1.5h0m.5 0h0m.5-.4h0m.3 3.6h0m.1-3.4h0m.7 3h0m.4 .5h0m2.3-3.8h0m.3 .8h0m.3 .6h0m.3 .1h0m.2-.6h0m.6 3.6h0m1.3-1.4h0m.8-1.2h0m.3 1.2h0m.1-.2h0m.4-3.5h0m.1 4.7h0m0 1.1h0m.6-.7h0m.1-1.5h0m.4 1.7h0m1-3.8h0m.2 2.9h0m.9-1.5h0m.7-1h0m.3 3.6h0m1.7-2.2h0m1.2-.3h0m1.6 1.5h0m.1 .5h0m-143.4 5.4h0m.2 .5h0m9.4-1h0m1.2 .7h0m.5-4.4h0m.8 5.4h0m.1-5.2h0m1 3.2h0m.2-2.9h0m2.1 .2h0m1.3 .3h0m21.8 3.9h0m1.8-3.4h0m7.2 1.3h0m.3 2.1h0m5.1-1.6h0m.6 1.7h0m10.4-3.8h0m.4 .7h0m.3 2.4h0m8.4-1.4h0m.2-3.1h0m5.7 4.7h0m.9-3h0m2.8-.8h0m1.3 2.5h0m1 1.9h0m.3-.1h0m.1 .7h0m0-5h0m.2 .9h0m.4 2h0m.5-.3h0m.1-.2h0m.2 2.4h0m.2-.6h0m0-.3h0m.1 .4h0m.4-1.2h0m.9 .3h0m.4 0h0m.4-1.5h0m3.1-1.7h0m5.5 3.6h0m5.7-2.4h0m15.4 2.2h0m.7-1h0m.5-1.2h0m1-1.9h0m.1 4.7h0m1-1.1h0m.2-.9h0m.8 1h0m.1-1.6h0m.5 1.5h0m.6-.6h0m.9 1.6h0m.6-2.9h0m2.1-2.1h0m1.2 .4h0m.6 2.5h0m.2 2.5h0m.3-4.4h0m.8-1h0m.8 1.3h0m.4 .4h0m.9 3.9h0m.1-1.7h0m.5 0h0m2.2-3.3h0m.8 0h0m.5-.1h0m.5 4.4h0m.6-.9h0m1.3-.7h0m.4-2.6h0m1.4 1.2h0m.5 1.2h0m.1-.6h0m-154.5 8.5h0m1-.6h0m.9 1.3h0m0-1h0m.5-.6h0m1.6-.5h0m.2 2.1h0m.6-1.5h0m.6 .2h0m.2 1.2h0m0-.5h0m.2 .3h0m.1 .3h0m1-.9h0m1.7 0h0m.2 .8h0m.3 0h0m.2 .1h0m.6-1h0m.1 0h0m.6 1.1h0m.3-.9h0m0 1h0m1.1-.8h0m0 .1h0m.1-.4h0m1 .9h0m.9 .1h0m1.6-.7h0m.6 .6h0m3.1-.2h0m.4-.4h0m.5 .7h0m.3-1h0m.7-2.9h0m.7 1.4h0m1.2 .2h0m.3-3.4h0m.3 5.3h0m.4-2.4h0m1.4-.8h0m.1 3.7h0m0-1.4h0m.2-2.1h0m1.3 .9h0m13.4-2.1h0m14.6 .1h0m2-1.1h0m3.4 1.4h0m10.2 2.3h0m7.5-1.4h0m8.3-2.5h0m2.5 3.9h0m15 .7h0m3.5-1.1h0m2.2-2.4h0m13.6 3.7h0m1.4-4.7h0m.2 3h0m.9 2.5h0m1.1-1.4h0m.3-3.7h0m1.2 3.2h0m1-2.3h0m1.3 4.5h0m.3-1.1h0m.4-3.7h0m0 1.2h0m.2-1h0m.6 4.4h0m1-1.7h0m.5-1.9h0m.3 2.7h0m.1-1.8h0m1-1.9h0m.5 .8h0m.2 1.8h0m.2 1.3h0m.9 .9h0m.8-3.8h0m.8-.1h0m.4-1.2h0m1.2 0h0m.3 .6h0m.8 2.8h0m.9-1.3h0m.9-2.7h0m.7 2.3h0m1.8-1.5h0m2.1 2.4h0m.4-.3h0m.2-3h0m.3 1h0m.8 2.8h0m1.5-.5h0m.4-.5h0m1.8 1.9h0m.3-4.7h0m.9 5h0m-171.2 6.7h0m1.7-.1h0m2.6-.2h0m.8-.5h0m.3 .2h0m0 .4h0m2.6-1.7h0m.2-.2h0m.4 1.4h0m.2-.3h0m.3-.9h0m.1 1.2h0m.1-.8h0m.2 .3h0m0-2.2h0m.2 3h0m0-.1h0m.6 .2h0m.6-2.6h0m.2 .1h0m.7-.2h0m0 .9h0m0-.1h0m.1 1.2h0m0-2.6h0m.1 .8h0m.1 2h0m.1-1.3h0m.7-.4h0m.1 .4h0m.1-.6h0m0-1h0m.1-.9h0m.2 .9h0m.2 1.2h0m.1-1.8h0m.4 1h0m1 .5h0m.2-1.7h0m.4-.2h0m.8 1.6h0m0-2.5h0m.3 3h0m.2-1.4h0m.2-1.5h0m.6 1.2h0m.3 .4h0m.5 .9h0m.4-1h0m.4-1.3h0m.3-.4h0m.1 .6h0m.3 1.5h0m.4-1.7h0m0-.2h0m.4 .2h0m1.9 1.9h0m.3-.4h0m.3-1.5h0m.5-.4h0m.1 2.9h0m1-1.5h0m0 1.2h0m.2-2.4h0m.3 1.4h0m.1 .9h0m0-2.7h0m.4 .8h0m.2-.4h0m.1 1.1h0m.1-.9h0m1.5 1.7h0m.1 .1h0m0-1.9h0m.5 2.6h0m0-2.3h0m.1 2h0m.3-1.6h0m.5 1.2h0m.1 .5h0m.3 1.4h0m.7-1.7h0m.2-1.1h0m.4 4h0m0-1.4h0m.3-2.7h0m0 .2h0m.4 .3h0m.1-.4h0m.1 1.6h0m.4-1.6h0m0 .3h0m.1 2.6h0m.6-1.2h0m0-1.6h0m.3 .2h0m.5 1.7h0m0-1.7h0m.1 3.4h0m0-3.6h0m.3 .7h0m.1 1.7h0m.4-2h0m.1 .5h0m.7-.4h0m.3-.8h0m.3-.5h0m0 2.9h0m.1 .8h0m0 .7h0m.1-1.7h0m0-2.4h0m.6 1.7h0m.2 1.1h0m.1-3.5h0m0 3.5h0m.7 .4h0m.2-.7h0m.1-.3h0m.1-2.7h0m.1 3.1h0m0 1.1h0m0-4.2h0m.1 2.6h0m.5 0h0m0-.1h0m.2-2.4h0m.1 2.4h0m.3 .8h0m0-3.1h0m.5 .3h0m1.2-.8h0m.3 5.7h0m.1-4.6h0m.1 3.1h0m.3-3.6h0m.6 2.2h0m1.5 2.5h0m0-5.2h0m0 2.1h0m.2-.2h0m.3-.8h0m.2 .4h0m0 2.9h0m1 .3h0m.1 0h0m2.3 .3h0m.3-.8h0m9.8-1.9h0m.7 3.2h0m2.9-1.6h0m14.1-3.1h0m.6 3.5h0m7.8-2.3h0m.7 2.2h0m1.4 .8h0m4.8-2h0m8.6-1.2h0m2.7-1h0m3.3 2.5h0m.1-1.8h0m2.5 .8h0m12.1 2.5h0m7.1-4.9h0m5.1 3.9h0m1.3-.6h0m3.5 1h0m.2-1.4h0m.3 1.8h0m1.7 .6h0m.5-.9h0m.6-.4h0m.1 1.6h0m1.4-1.1h0m.1-.7h0m.1-2.9h0m.1 3.9h0m.7-.6h0m.9 .1h0m.2-1.9h0m.1 1h0m.2-1.2h0m.4 1.8h0m.4-.3h0m.1 .9h0m.2-3.1h0m1.3-1.6h0m.8 1.5h0m.2 4h0m.1-4h0m.5-.3h0m0 2h0m1.5-2.9h0m.2 4.2h0m1.4-3h0m.2 3.1h0m.3 .2h0m0-1.3h0m.3 .1h0m0 2.1h0m.3-1.3h0m.2-2.7h0m.4 .5h0m2-1.9h0m.8 1.6h0m1.7 .8h0m.5 2.8h0m1.2-2.6h0m.2 2.4h0m0-2.2h0m1.3-.7h0m1-.8h0m.3 2.8h0m.2-1.9h0m.2 3.3h0m.2-.8h0m1.3-.9h0m-188.2 6.9h0m.3-.1h0m.4 .1h0m.2 .4h0m.1-.2h0m.5-.3h0m.6 .5h0m.2-.4h0m.4 .5h0m.4-1.3h0m1.6 0h0m1.3-.2h0m.6 1.6h0m.7-1h0m.2-.1h0m.7 .5h0m.2-1.8h0m.4 .8h0m.3-.7h0m.8-.2h0m.1 .6h0m.3 .4h0m.1 .3h0m.1 .2h0m0 .2h0m.5-2.1h0m.1 1h0m.4 .4h0m.1-1.4h0m.1 1.1h0m1-.5h0m.2 1.4h0m.2-1.8h0m.6 .2h0m1.5 .5h0m.4-.1h0m.2-.1h0m1.2-1.4h0m1.3 .8h0m1.1-.6h0m.3-1.3h0m.2 .6h0m.4 1h0m1-1.7h0m.4-.3h0m.1 1h0m0-.2h0m.8-.1h0m.5-.2h0m.1-.9h0m1.5-.2h0m.6 .2h0m2.7-.2h0m16.5 3.8h0m.5-.2h0m3.3-1.3h0m8.8 2.7h0m.3 .3h0m1.2-4.7h0m3.1-.2h0m.4 2.9h0m.1-.6h0m1.1-1.2h0m.6-1.2h0m.1 .8h0m.8 3.7h0m.1-.9h0m.6-1.5h0m2 .2h0m.2 1.3h0m.7-.9h0m.1-2.7h0m.3 .4h0m.5 1.5h0m.5 1.6h0m1.6-2.8h0m.2 .1h0m.7 4.5h0m.1-1.9h0m.4-.9h0m.2-.8h0m.2 2.6h0m.2-4.3h0m.2 3.7h0m.4 1.6h0m.3-5.1h0m.5 3.1h0m1.1 2.1h0m.4-2.9h0m.6 2.5h0m.1-1.4h0m1.4-.1h0m.4 .7h0m2.5 .9h0m1-4.3h0m.1 4.3h0m.5-2.5h0m.8 .6h0m2.5-1.8h0m2.1 3.5h0m.1 .1h0m11.2-3.9h0m1 .3h0m4.8 1.7h0m3.3 .3h0m5.3-.8h0m3.5-.6h0m12.7 0h0m3.4 0h0m9.7 2.5h0m1.4 .8h0m.4-1.2h0m4.5 .7h0m1.1 .7h0m.9 0h0m.8-.1h0m.3-3.2h0m.6 .7h0m.1 2h0m.4-3.4h0m.9 2.9h0m.1-1.2h0m.3 1.9h0m.5-4.7h0m.3 1.7h0m.1 1h0m1.1-2.4h0m.2 3.2h0m.5-1.4h0m.7 .7h0m.1 1.2h0m.1-3.6h0m.1 3.9h0m1.3-.8h0m.6-2.6h0m0 1.2h0m.4-1.4h0m.8 .6h0m.2 3.8h0m.4-4h0m1 2.3h0m.7 1.1h0m.1-4.9h0m.7 4.1h0m.5-.4h0m1.7-1.9h0m.2 3.4h0m.6-5.3h0m.5 4.3h0m.1 .3h0m1.3-.8h0m.8-1.7h0m.1 2h0m.1-3.3h0m.2-.2h0m.1 4.3h0m0-1.2h0m1.1-1.5h0m.3-2h0m.4 .9h0m.3 1.2h0m1.1-1.4h0m.1 .2h0m.3 2.4h0m2.9-2.7h0m.2 1.4h0m1.4-1.6h0m.1 5.1h0m.6-.4h0m.3-.4h0m.9 .8h0m.6-4.3h0m.5 2h0m1.1-3h0m.6-.6h0m1.5 .7h0m4.4-.3h0m-209.7 11.1h0m.3 .3h0m1.3-.6h0m1.8-.9h0m.3 .4h0m.8 .9h0m.1 .1h0m1.4-2.3h0m.1-.3h0m.5 2.3h0m.5-.1h0m.8-1.5h0m0 .6h0m.3-1h0m.3 .7h0m.7-.6h0m1-.1h0m.3-.5h0m.3-.2h0m.7-1.5h0m1.3 1.6h0m.3 .2h0m.6-1.9h0m1.4 1.5h0m.4 0h0m1.3-1h0m.2-.9h0m.6 .4h0m.3-1.1h0m.2 1.3h0m2.7-.7h0m1.7-.4h0m.1-.1h0m0 .3h0m2.7-.4h0m12.6 3.1h0m4.5-.8h0m43.9-.7h0m.7 2.4h0m.7-1.8h0m0-.2h0m1.5 2.3h0m.5-1.4h0m.2-.7h0m1.6-1.9h0m0 .9h0m1.9 2h0m.9 1.1h0m.5-.4h0m.5-1.8h0m.9 2.3h0m.7 .7h0m2.6-.1h0m.1 .5h0m1-3.2h0m0 .3h0m.3-.6h0m1.7-.8h0m.1 1.5h0m.2 .2h0m0 .4h0m.1-.2h0m.6-3.2h0m.4 .7h0m.6 3h0m2-.7h0m1.1 .7h0m1.1-1.5h0m1.3 .6h0m.5 1.2h0m.3 1.9h0m2.1-1.2h0m0-1.6h0m2.2 2.8h0m.2-.1h0m2.2-2.1h0m.3 1.1h0m.7 .6h0m1.3-2.7h0m2.5 2.7h0m5.2 .1h0m1 .2h0m.7-.5h0m.2-4.9h0m.7 4.9h0m1.8 .2h0m1.2-.7h0m.3-1.1h0m.7 .1h0m2.9 2h0m1.4-2.7h0m4 2.1h0m.3 .8h0m1.6-1h0m4.9-1.8h0m1.3 1.6h0m.2-.9h0m.2-1.7h0m.1 .4h0m.9 .6h0m1 .3h0m.9-.9h0m.1-.6h0m.1 2.9h0m.2-1h0m.6 .8h0m1.3 1.4h0m1.2-4.3h0m.6-.8h0m.1 .5h0m2.2 1.9h0m.3-2.9h0m0 2.7h0m2.2-3.1h0m.2 3.5h0m.6-.6h0m.1 1.3h0m.1-2.1h0m0 1.9h0m.1-1.7h0m1.3 .4h0m.5-2.1h0m.6-.3h0m.4 0h0m.5 .8h0m.2 2.4h0m.1-.7h0m.4-1.6h0m.8 4h0m.7-1.6h0m0 1.3h0m1.6-2.9h0m.1-.4h0m.2 1h0m.1-1.5h0m.2 2.1h0m.4-1.9h0m3.6 .4h0m1 .4h0m2.2 3.6h0m.2-2.2h0m2 1.3h0m.2 .8h0m.5-1.1h0m.4-4.1h0m1.8 3.7h0m.2-3.7h0m0 3h0m.4 1.8h0m.2-1.1h0m.4 1.7h0m.2-2.9h0m0-1h0m.6 .3h0m.7 1.3h0m.2-.7h0m.7-2.1h0m.4 5.2h0m1.8-2.6h0m1.1-2.5h0m1.8-.6h0m.5 .1h0m.2 3.8h0m.3 1.3h0m.2-.1h0m.1 .1h0m3.6-5.3h0m2.4 .7h0m-230.1 9.2h0m8.8 1.8h0m.5-.7h0m.9 .9h0m2-.4h0m2.4 .1h0m.1 0h0m.1-.1h0m.6-.1h0m.1 .4h0m.4-5.7h0m.2 4.8h0m.6 .2h0m.1 .5h0m1.4-1.8h0m.3 .3h0m.3 .2h0m.2 .6h0m.2-3.1h0m.3 3.2h0m.2 .6h0m.7-.4h0m.5-2.6h0m.1 1.5h0m.7 .5h0m.7-2.9h0m.1 .7h0m.5 2.1h0m.1-2.4h0m.1-.6h0m.1 3.2h0m.1-.5h0m.3-1.9h0m.6 .5h0m.2-.6h0m.1 2.3h0m.1-.3h0m.1-3.8h0m.4 .9h0m.1-.7h0m.1 .2h0m.5 4.2h0m.5-1.7h0m.1 .9h0m.2 1h0m0-1.8h0m.6-1.7h0m0-1.5h0m.6 1.7h0m1.2 0h0m.2-.1h0m.3-.2h0m.4 .6h0m0-2.2h0m.1 1.4h0m.5-.3h0m.2 1.2h0m.1-.8h0m0-.4h0m16.7 4.6h0m11.7-1.9h0m.2 2.1h0m.4-1.5h0m2.7 0h0m30.4-3.9h0m0-.4h0m25.9 3.4h0m1.1-2.2h0m.9 1.1h0m1.7-2.3h0m.1 3.6h0m.4-1.2h0m.2-1.2h0m1.5 1.2h0m.5 2.1h0m.7 .9h0m.8-4.6h0m.4-.3h0m.4 .3h0m.1 2h0m.5-1.5h0m1.3 3.7h0m.3-5.1h0m.6 .6h0m2.5 1h0m.8-1.1h0m0 3.1h0m.4 2.2h0m.1-2.5h0m.3-3.3h0m.6 4h0m1.3 1.3h0m1-4.8h0m.1-.3h0m.6 .9h0m.1 3.7h0m.3 1h0m.1-.8h0m.1 0h0m.1-.5h0m.1-.7h0m.6 .9h0m1.1-3.1h0m.1 2.5h0m.4 1.5h0m.8-4.2h0m.2 4.3h0m.7-1.8h0m.3-2.2h0m.2 .4h0m1.1-1.8h0m.8 2.2h0m.9 2.8h0m2-3.7h0m.2 .4h0m.2 3.1h0m.1-2.1h0m1.4-1.4h0m.2-1.2h0m1.4 4.4h0m.3 0h0m.8-1.4h0m.9 1.9h0m.3-2.7h0m.1 1.3h0m2-.4h0m.3-3.3h0m.9 .9h0m.2 1.5h0m.4-2.4h0m1.5 2.6h0m.6-2.2h0m.7 3.3h0m.1 1.5h0m.1-3h0m.4-1.7h0m0 4.4h0m0-2.6h0m.3 2.8h0m.2-4.8h0m.1 2.7h0m.7 2.5h0m.1-3.7h0m2.1 3h0m1.3-2.5h0m1.6-.1h0m.4 3.2h0m1-.9h0m1.3-2.9h0m.5 3.9h0m.2-.9h0m.4-.3h0m1 .2h0m.6-3.2h0m.8-1.2h0m1 .9h0m.4 4.1h0m1.6-1.5h0m.3-1.6h0m.6 1h0m.1 1.4h0m.2 .8h0m.6-2.9h0m.5-.2h0m.2 .5h0m1.1-.9h0m.5 2h0m.8-.6h0m.4-.2h0m.9 2.6h0m.5-2.3h0m1.1-2.4h0m0 1.5h0m.1-2.4h0m.1 2.4h0m.9 2.9h0m.2-4.2h0m.1 3.5h0m.1-2.7h0m.2-.6h0m.3 .7h0m0-.8h0m.3 4.1h0m0-4.7h0m.5 4.9h0m.6-1h0m1.2-3h0m.1-1.6h0m.4 3.2h0m2.9 1.1h0m.3 1.2h0m0-.1h0m2.2-3.1h0m0-.9h0m1.3 4.4h0m1.5-5.7h0m2.3 3.6h0m.1 1.6h0m.3-4.4h0m.5 1h0m1.7 2.7h0m.2-1h0m.2-.1h0m.1 .2h0m.1 2h0m.1-5.7h0m.2 5h0m0-4.3h0m.5 1.3h0m.6-.9h0m1.2 3.1h0m1.1-2.6h0m.7 .9h0m.2 .9h0m0-2.1h0m.1 .7h0m1.3 3.6h0m.1-5.6h0m.1 1.5h0m.2-1.1h0m1.6 5.2h0m.8-3.1h0m.3-.8h0m3.5 1.7h0m1.3-3.5h0m1.4 1.6h0m1-1.4h0m-220.8 11.6h0m.3-.3h0m.1-.7h0m1.2-.3h0m0-.6h0m.5 1.4h0m1.5-1h0m.6-1.6h0m.3 .3h0m.9 .8h0m.3 2.1h0m.1 0h0m.3-1.7h0m.3-1.7h0m.1 .2h0m.8 1h0m.3 .7h0m.1 1.4h0m.1-2h0m.7-1.4h0m.3-.6h0m.7 3.1h0m0 1h0m.3-3.7h0m.1 1.9h0m.3 .3h0m0-1.2h0m.6 2.3h0m0-.8h0m.3-1.2h0m0 .8h0m.6-3.2h0m0 2.4h0m0-1.2h0m.4 .3h0m.1-1.8h0m.2 1h0m.3-.5h0m1.1 1h0m.6 0h0m.6 .8h0m.6-1.8h0m.2 1.9h0m.2-1.5h0m.1 0h0m.1 1.7h0m.4-1.5h0m.1-.4h0m.8-1h0m.2 3.2h0m.2-3.6h0m.2 2h0m1.4 2.7h0m0-2.6h0m.9 2.4h0m.5-4.2h0m0-.2h0m1.1 1.6h0m.3-1.1h0m.5 2.6h0m1.1-1.1h0m1.7 2.5h0m27.4 .9h0m4.7-5.1h0m1.1 3.3h0m2.9 .6h0m2.1-.7h0m3.1-2h0m3.8-1h0m11.6 5h0m2-.4h0m0 .1h0m.6-.8h0m1.9-2.1h0m.1 .1h0m.1 2.2h0m.1-1.2h0m.2-2h0m.3-.2h0m.1 1h0m.2-1.9h0m0 2.7h0m.7-1.1h0m.6-.4h0m0 .1h0m1.4-1.6h0m35 .1h0m2.8 4.4h0m1.4-3.2h0m1.5-.5h0m.5 1.7h0m2.7 0h0m.6 1.4h0m1.1 .3h0m.5-3.7h0m.3 .6h0m.8-.1h0m.4 1.2h0m.2-2.1h0m.3 3.8h0m.8-3h0m.4 .6h0m.2 4.1h0m.7-4h0m0 2.9h0m.6-1.7h0m.1-2.5h0m.3 0h0m.1 4.9h0m.5-2.5h0m.7-1.9h0m.3-1h0m.1 2.2h0m.2 .8h0m1.4-1.6h0m.5 3.6h0m.6-.6h0m.2-3.8h0m.4 5.3h0m1.3-.4h0m2-3.4h0m.4 3h0m.6-.2h0m.2 .4h0m1.1-.1h0m.1-2.6h0m0 .8h0m.4-1h0m2-1.7h0m1.9 5.2h0m.4-.2h0m.1-2.6h0m0 .2h0m.1-3.2h0m.4 5h0m.9-3.9h0m1.1 1h0m.5 2h0m.6-2.6h0m.1 3.7h0m.1-1.7h0m.3-2.5h0m.7 1.7h0m.5 .6h0m.2-1.2h0m.3 0h0m.1 .8h0m1.6 2.1h0m1.2-2.4h0m.2-1.8h0m0 .2h0m.2 0h0m1.8 2.4h0m.1 0h0m1 .9h0m.6 .8h0m1-1.9h0m.4-1.4h0m.4 4.1h0m.2-2.3h0m3.6-3.3h0m0 3.5h0m0 1h0m1.5-.6h0m.3 1.4h0m0-5.3h0m.7 5.5h0m.4-3.4h0m.4 .6h0m.5 1.7h0m0 .2h0m.6-4.3h0m.8 2.2h0m.9 2.4h0m.6-.1h0m.2-.9h0m2.9 1.2h0m.5-3.5h0m.4 2h0m1.9 1.5h0m.5-5.1h0m.4 .1h0m.3 5.3h0m.5-3.8h0m0 .1h0m.5-1h0m0 4.3h0m.1-1.8h0m.3 2.3h0m.1-1.2h0m.6 .2h0m1.7-2h0m1.7 .6h0m.2-1.4h0m.7 .7h0m1.2 .2h0m0-2.5h0m.1 0h0m.6 2.6h0m.9-1.9h0m3-.3h0m.8-.5h0m3.2 1.7h0m-207.4 8h0m1.9-2.5h0m.6-1h0m.3 .9h0m1.1-.4h0m.6 2.2h0m.1-2.9h0m.4 .2h0m1-.4h0m.9 .4h0m1.5-.3h0m0-.1h0m2.3 .8h0m1.9 1.9h0m1.9 1.3h0m1.9-3.5h0m1.2 2.3h0m2.9-.2h0m1.3-2.6h0m.4 2.9h0m2.7-1.5h0m.3-1.5h0m2.1 1.2h0m37.7 2h0m9.8 1.3h0m.7 .3h0m.5 .8h0m.5-1.3h0m.8-.1h0m.2-.3h0m.6-.1h0m1 .4h0m.7-1h0m.2 1.6h0m.3-2.1h0m0-.2h0m0 1.6h0m.9-1.1h0m0-1.2h0m.1 2.3h0m.2-1.9h0m.2 2.4h0m.2-1.5h0m.1 .5h0m.2-1.9h0m.1 1.1h0m.3 .2h0m.2-.5h0m.7-1h0m.8-.9h0m.2 .2h0m0-.8h0m52 .6h0m6.3 .2h0m.3-.6h0m.4-.1h0m2.6 1h0m3.5-.3h0m2.6 1.1h0m1.1-1.6h0m.6 .6h0m.5 1.7h0m.1-1.6h0m.5-.5h0m.3 2.3h0m0-2.4h0m2 .1h0m.5 0h0m1.2-.1h0m.2 1.5h0m.8 .3h0m.5 2.5h0m2.3-.8h0m.4-3.5h0m.8 2.5h0m1.6 1.6h0m.7-3h0m.1-.7h0m.6-.3h0m.4 4h0m.1-2.5h0m.2 2.4h0m1.3-3.2h0m1.8 3.1h0m1.5-1.8h0m.8-2.1h0m1.2 .4h0m1.2 3.3h0m1.9-4.1h0m1 .5h0m3.6-.2h0m1.9 .2h0m.6-.4h0m.9 2.4h0m.5-1.2h0m.7-1.2h0m2.8-.1h0m-181.9 7h0m24.2 .8h0m.8 .9h0m.3 1.2h0m.1-.7h0m.2-1.4h0m1 .7h0m.4 .6h0m.7 .3h0m1.8 1.9h0m.5 .4h0m.1 0h0m.2-.9h0m.6 .1h0m.2 .2h0m.6 .7h0m.3-2.1h0m.1 .9h0m.1 .6h0m0-.9h0m.5 .2h0m1.4 .9h0m1.4-.6h0m.1 .2h0m.6 .6h0m.4-.4h0m0-.9h0m.1 0h0m1 .1h0m.8 1.3h0m.3-.9h0m.5 .2h0m1.4-.2h0m.2-3h0m1.3 3.6h0m1.4-.6h0m.2 .5h0m2.3-.5h0m0 .2h0m.2 .6h0m3.1 0h0m.1-.1h0m8.1-.6h0m1.3-.7h0m1.2 .3h0m.3 .8h0m.1-1h0m1.1 .7h0m.5-1.8h0m.3 .8h0m.2-1.7h0m0 3.6h0m0-1.3h0m.9-3.2h0m.1 1.9h0m.7 .7h0m.1-3.7h0m0 1.1h0m.2 .7h0m.2-1.3h0m.3 1.5h0m.5-1.1h0m.1 2h0m.2-1.7h0m.3 .5h0m.5-1.5h0m.9 0h0m1.3 .4h0m2.7-.3h0m-75.4 8.8h0m9.9 .7h0m18.1-3.8h0m9.9-.1h0m.6-.1h0m0 1.5h0m1.5-1.5h0m0 1.3h0m2-.5h0m.6-.2h0m.5 1h0m.2-.1h0m1.9-.7h0m1.4 1.4h0m.6-.5h0m.2-1.3h0m.5 .3h0m.3 1.3h0m1.8-.9h0m.2 1.4h0m.3-2.1h0m1.2-.4h0m.3 2.3h0m.1-2.2h0m.3 1.2h0m.1-.5h0m.3 2.2h0m.3-1.9h0m.1 .6h0m.4 .6h0m.2-1.7h0m.4-.6h0m.6 1.3h0m1.3 1.3h0m.1-.5h0m.5 1.4h0m.3 0h0m.3-.7h0m.6-.9h0m.7 2.8h0m.5-3h0m0-.7h0m.7 1.1h0m.1-.6h0m1-.6h0m.1 2.8h0m.6-2.6h0m.1 .4h0m.9-.8h0m.3 .7h0m.1-1.6h0m1.3 .8h0m.9-.3h0m.2-.3h0"/>
<path stroke="#7A28B8" d="M898.4 368.4h0m-1.5 1.9h0m.9 2.4h0m.1-1h0m.1 2.6h0m.8-.3h0m.1-.2h0m.4-4.4h0m.2 2.1h0m.1-.7h0m.1 4.2h0m.3-3.1h0m.2-.5h0m.2 .5h0m.3 1.5h0m.4 1.1h0m.4-1.7h0m0 1.3h0m.2 .3h0m1.4-.4h0m-3.9 5.8h0m.3-3.5h0m0-1.1h0m.4 3.4h0m.5-1.5h0m.5-1.5h0m.5 3.7h0m0-3.2h0m.1-.4h0m0 .2h0m.1 4h0m.7-.6h0m.1-1.6h0m.2-2.4h0m.3 1.3h0m.6 3h0m0 .6h0m0-1.2h0m1.1 .2h0m1.7 .6h0m.1-1.1h0m-6.5 2.6h0m2.7 1.4h0m.3 2.9h0m.4-2.6h0m.4 .8h0m.2 .5h0m.7-2.8h0m.1 4.3h0m.2 .8h0m.4-4.3h0m.4 .5h0m.2-.5h0m0-.5h0m.2 3.1h0m1.5-1.1h0m.7-1.2h0m.1 .4h0m.1 2.2h0m0 1.2h0m.4-1.6h0m2.2 1.4h0m6.2-.5h0m1.1 1.3h0m-14.1 .9h0m1 .7h0m.7-.7h0m.2 .8h0m1.3 1.7h0m.4-2.1h0m0 0h0m1.3-.5h0m.4 4.3h0m.3-3.4h0m0 1.8h0m.2-.6h0m.6 1.1h0m.6 1.4h0m.4-1.3h0m1-2.2h0m.1 1.2h0m0-1.7h0m.1 2.3h0m.1 .9h0m.8-2.1h0m.8 3h0m.5 0h0m.1-.8h0m0-.2h0m1.1-3.6h0m0 3.3h0m.4-3.7h0m.4 1.2h0m.1-.7h0m1.7 1.6h0m.4 .2h0m.8-.3h0m.3-1h0m.8 2h0m.1-2.4h0m.2 2.1h0m0-1.2h0m.8 1.2h0m.2-1h0m1.4 3.4h0m.1-2h0m.1 1.1h0m.3-1.3h0m.6 2.4h0m.2 .1h0m.2-1.2h0m.5 .2h0m.1-.5h0m.1 1.5h0m1-.2h0m-18.9 .4h0m1.1 .2h0m1 1.3h0m.6-1.6h0m.9 3.4h0m.1 1.6h0m.1-4.1h0m1.2 .6h0m.5 4h0m.2-4.2h0m.1 4.1h0m.1-3.3h0m.1-2h0m.7 4h0m.1-3.9h0m.3 5.5h0m.9-3.7h0m.3 .4h0m.3 1.5h0m.5-.7h0m.2-.2h0m.1-.6h0m1.4 2.9h0m2.7-.1h0m.2 0h0m1.3 .8h0m.1-.1h0m3.5-3.7h0m.4-1.5h0m.6 1h0m.3 .2h0m.1-.5h0m.7-.7h0m.5 5h0m.5-4.5h0m0 .8h0m.5 3.7h0m.3-2.1h0m.1-2.2h0m.5 3.3h0m.2-2.5h0m1.8 1h0m0 1.6h0m.1-.5h0m.9 .6h0m2 .9h0m-22.3 .5h0m.1 1.5h0m1.2-1.4h0m.3 1.2h0m.3 4.2h0m.1-.7h0m.4 .7h0m.1 .1h0m.3-4.9h0m.6 1.1h0m.2 2.1h0m.3 0h0m.1-.6h0m.5 .1h0m.6-3h0m.1 5.2h0m.2-4.6h0m.1 2.3h0m.1-.4h0m.2-2.6h0m.1 5.3h0m.4-3.9h0m.1 2.1h0m.9 1.5h0m.3-4.9h0m0 2.9h0m.3 1.3h0m.7-2.8h0m1 2.5h0m.5-1.8h0m.2 .9h0m1.5-2.6h0m.6 4.2h0m1.9-2.1h0m1.3 .9h0m.8-3.7h0m2.8-.2h0m.2 1.1h0m0 .8h0m.4 .4h0m.1-2.5h0m.2 .7h0m.1 3.5h0m0-.5h0m.3-2.6h0m.1 3.5h0m.3-.2h0m.3 1.1h0m.7-3.1h0m.5 2.6h0m.2-3.9h0m1.1 4.9h0m.8-1.6h0m.3-2.2h0m.2 .6h0m.1 .4h0m.3 .9h0m1.1 1.1h0m.2-.3h0m.7 .4h0m-25.4 .9h0m1.6 1.2h0m1.1 .4h0m.5 1.7h0m0-.6h0m.1-2.5h0m.3 5.4h0m.3-.8h0m.1-2.3h0m.7-.1h0m1.5-2.2h0m.3 1.3h0m.1 2.5h0m.3-2.9h0m.3 2.8h0m.3-.5h0m.1-2.1h0m.7 3.9h0m.1-2h0m.4 2.1h0m1.5 0h0m.2 .3h0m.9-1.5h0m5.4-1.8h0m.1 3.1h0m1.6-2h0m2.6-3.1h0m.1-.3h0m.5 .3h0m.8-.1h0m0 4h0m.5-2.4h0m.3 .9h0m0-.6h0m.1 .4h0m0-2.1h0m.2 4.9h0m.1-3h0m.2-2.3h0m1.2 2.6h0m1.1 2.9h0m.2-3.4h0m.1 2.5h0m.2-1.8h0m.2-.2h0m.1 .3h0m.9 2.1h0m.4-3.5h0m.8 1.4h0m1.4 2.6h0m-27.5 1.6h0m.9-.8h0m.7 1.4h0m.5 3h0m.1-2.9h0m.1-1.6h0m.2 2.4h0m.5-1h0m.1 1.4h0m.1-2.2h0m.3-.7h0m.2 3.7h0m0 1.1h0m0-2.9h0m.5-2h0m.3 3.3h0m.3-.5h0m.8 1.3h0m.4-3.8h0m.1-.3h0m.3 3.9h0m.2 .3h0m.1-3h0m.1 .7h0m.6 3.7h0m.2-5.4h0m.2 .7h0m.7 .2h0m.2 .9h0m0 .3h0m.1 .9h0m.1 2.1h0m.1-1.8h0m.5 1.9h0m.7 .2h0m.4 .2h0m.9-2.6h0m.7-1h0m1.3-1.6h0m.1 2.2h0m.3-.3h0m3.1-2.6h0m1.7 2.5h0m.1 2h0m1.5 .8h0m2-.4h0m.3-.4h0m.7-4.3h0m.2 0h0m.4 .3h0m.3 .7h0m.5-.5h0m.1 2.3h0m.2 1h0m.2-.7h0m.5 1.7h0m1-4.5h0m.1 3.8h0m0-2.8h0m.1-1.4h0m.8 .6h0m.3 .9h0m.3-.4h0m-25.7 4.8h0m1.6 2.3h0m1.4 2.6h0m.4-1.2h0m.3 1.1h0m.1-4.2h0m.1 2.4h0m0-2.3h0m.3-.6h0m.1 5.3h0m.4-5.5h0m.2 4.4h0m.8-1.4h0m.4-1.2h0m0 1.1h0m.2-1.2h0m1.2 2.5h0m.2 .1h0m.6 1.6h0m.1-4.5h0m.3-.9h0m.2 1.6h0m.8-1h0m1.7 3.3h0m3.9 1.2h0m.4-2.5h0m1.3-1.6h0m1.6 2.7h0m.1-3.1h0m.7 .5h0m1.3-.1h0m-20.3 5.1h0m1.2 .8h0m.4 1.5h0m.2 1.2h0m.3-.9h0m.1-1.6h0m.1 2.2h0m.6-2.4h0m.4 3.4h0m.2-2.5h0m.3 .5h0m.1 3h0m0-4.1h0m.3 1.8h0m0-1.3h0m.2 1.6h0m.6-2.2h0m0 1.6h0m.4-2.2h0m.1 0h0m.8-.1h0m.4 1.3h0m.3 0h0m.1 .2h0m0 2.9h0m1.2-.6h0m.2-3.9h0m.1-.8h0m.1 .6h0m.1 4.9h0m.5-3.4h0m1.5 1.1h0m1.4 2.7h0m.1-2.3h0m.1 1.8h0m1.5-2.9h0m1.6 1.5h0m.9 2h0m.6-3.6h0m.2 .3h0m6.4-1.1h0m-34.8 6.8h0m5.7 1.8h0m.2 .4h0m.8-.5h0m1.3 .5h0m.6 .1h0m.2-.9h0m1.9-1.6h0m.7 3.6h0m.6-2h0m.2 1.2h0m1.3-4.7h0m.3 4h0m.4-4h0m.1 2.6h0m.4 2.5h0m.1-1h0m.1 1.3h0m0-.5h0m0-4.2h0m.2-.9h0m.2 3.4h0m.4 1.1h0m1.3-2.6h0m.4 .8h0m.3-.9h0m0 0h0m.5-1.2h0m.4 4.9h0m.1-1.9h0m0-1.3h0m.1 1.2h0m.3-.7h0m.4-1.4h0m.2 3.1h0m.1 .7h0m.4-3.9h0m.1 1.3h0m.1 .5h0m.3 .7h0m.4-.8h0m.3-2.2h0m.1 4.2h0m.2-2.4h0m.6-1h0m.1 .1h0m0 1.8h0m.2-2.4h0m.2 4.7h0m.5-1.3h0m1.8 .4h0m.9-3.8h0m.4 1.3h0m1.1-1.8h0m1.4 1.8h0m.1 2.5h0m1.4 .9h0m.6-2.5h0m0-2h0m.5 2.3h0m1.6 .3h0m2.9-3h0m-40.6 5.9h0m8.3 2.7h0m.1-2.5h0m1.5 3.3h0m.7-1.5h0m.6 0h0m1.3 1.7h0m2.7-.2h0m.2-2.6h0m.2-.4h0m.9 2.6h0m1.9-2.7h0m.9 3.6h0m.1-3.2h0m1 1.3h0m.7-3h0m.4 2.7h0m1.9 .5h0m1.1-1.5h0m.2 1.4h0m.7-1.5h0m1.3 3.1h0m1.4-1.1h0m.3 1.2h0m1.7-4.2h0m.6-.3h0m.2 4.7h0m1.7-.2h0m.4-2.5h0m1.3 2.4h0m1.2-3.1h0m.5-.7h0m.4 5h0m.6-3.1h0m1.2-2.3h0m1.2 1.8h0m1.4-2.3h0m.7 2.2h0m.9 3.4h0m-55.3 5.7h0m1 .3h0m1-.4h0m.2 0h0m.4 .4h0m.9-.8h0m1.4 1.1h0m.1-.1h0m.5-1.1h0m.1 .3h0m.2 0h0m1.2-1.4h0m.4 1.6h0m.3-1.4h0m.3 1.4h0m.1-.5h0m.4-.1h0m.6-.4h0m.1 1h0m.1-.7h0m.2-1.6h0m.2 2.5h0m.1-3.1h0m.8 2.4h0m.2 .1h0m.4-1.8h0m.4 2.2h0m0 .5h0m.1-1.5h0m0 1.5h0m.9-3.6h0m.2 2.5h0m.2 .6h0m.3-2.9h0m0 .7h0m0 1.2h0m.3-.8h0m.9 1.7h0m.5-3.1h0m.3-.3h0m.1 .8h0m.1 .2h0m.5 1.7h0m0-3.3h0m.1 .3h0m.3 1.9h0m.9-2.4h0m.5 1.1h0m1.1-.6h0m.3-.7h0m.1 2.3h0m.1-.9h0m.1 .3h0m1.5 2.3h0m.1-1.8h0m.1-1.1h0m1.1 1h0m.2-.6h0m2.8-1.9h0m.3 4.2h0m.2-.1h0m1.4-3.2h0m.6 3.7h0m1.2-4.7h0m.3 2.5h0m1.6-1.4h0m1.1 3.2h0m1.4-.9h0m.9-2.9h0m.7 4.1h0m.5-1.6h0m1.6-2.6h0m1.6 4.1h0m.8-2.1h0m.1-.2h0m1.9 3.2h0m1.8-.5h0m.8 .4h0m.8-4.2h0m.9 1.3h0m3.5-1.4h0m0 .8h0m0 3.4h0m1.3-2.8h0m.8 3.1h0m1.1-4.5h0m.7 1.8h0m0 2h0m-67.4 7h0m2.3-.2h0m.3 0h0m1.8-1.7h0m.2 0h0m.1 .9h0m.1-.8h0m.6-.2h0m.6 .4h0m.2 1.6h0m.4-2.9h0m.6 1.3h0m.1 0h0m.2-1.8h0m.6 2.1h0m.1-2.6h0m.3 1.9h0m2.3-1.8h0m.1-1.6h0m.1 3.1h0m.1-2.5h0m.6 1.3h0m.1 .2h0m.4-.9h0m.2-1.4h0m.9 1.7h0m.2-1.5h0m.2 .1h0m.3 2h0m0-2.4h0m.8-.2h0m.4 2h0m.2-1.8h0m.4 2.3h0m.1-1.6h0m.5-.3h0m.2-.1h0m.3 1.4h0m.1-1.7h0m.2 .5h0m.7 .6h0m1.1-.1h0m.7 .1h0m.6-.7h0m.5 .5h0m1.7-.3h0m.5-.5h0m1.6 .1h0m13.1 2.7h0m1.5-2.1h0m1.3-1.1h0m1 4.2h0m.4-2.6h0m2.5-1.6h0m.1 1.1h0m.1 2.9h0m2.1-3.5h0m.4 1.8h0m.8 1h0m.7 1.4h0m.5-3.3h0m1.1 3.4h0m1.8-3.6h0m.3 2h0m.4 1.6h0m.5-2h0m.1-2.2h0m2.4 .2h0m.3 1.9h0m1.5 2.6h0m.2-2.2h0m.2 1.6h0m3.5 .1h0m.2-3h0m.8 3.2h0m.4-4.9h0m1.2 1.8h0m.1 1.8h0m1.2 1.2h0m1.8-.6h0m.1-2h0m.9-2.1h0m-78.6 11.5h0m.4-.5h0m1.4 .7h0m.2-1h0m.2 .3h0m.4 .5h0m.4-.4h0m.6-.5h0m.3-.7h0m.1 1.2h0m.7-.1h0m0-1.8h0m1-.1h0m.1-.5h0m.1 2.2h0m.2-.9h0m.1-1.9h0m.2 1.6h0m.8 0h0m0-.9h0m1.1-1.8h0m.4 1.3h0m.5 .6h0m.1-2.5h0m.2 2.5h0m0 0h0m.2-2.2h0m.5 .7h0m.1 .4h0m0 .7h0m0-.6h0m.2 .7h0m.2-1.8h0m0 .2h0m.5-.7h0m.4 1.5h0m0-1.2h0m.7 .7h0m1 .5h0m3.3-1.9h0m15.3 1.1h0m17.1 2.2h0m0-1.8h0m1.9-.5h0m2.3-.5h0m.8 3.1h0m1.8-3.2h0m.3 1.6h0m1.7 4h0m1-2.4h0m.8-2.3h0m.9 1.5h0m.1 3.2h0m1-.2h0m.6-4.2h0m.3 1.5h0m1.8-2.3h0m.3 2.8h0m1.2 1.4h0m1.8-3.4h0m.3-1.1h0m.8 4.1h0m.5-3.3h0m1.3 4.3h0m1.5-4.1h0m.2 2.8h0m1.1-3.3h0m1.4 1.5h0m1-1.5h0m-91.9 10.2h0m.5-.2h0m.6-.1h0m.9-.1h0m0-.4h0m.2 .8h0m0 .3h0m.7-.4h0m0-.4h0m.3 .6h0m.2-.2h0m.1-1.3h0m.5 .3h0m.7 .4h0m.1 0h0m.2 1.2h0m.1-.7h0m0 .7h0m.5-1.6h0m.8 .6h0m0-.4h0m.2-.8h0m.2-1.3h0m.3 1h0m1.1-.1h0m.1-1.2h0m.3 1.1h0m.4-.2h0m0-.6h0m.2 .7h0m.9 .5h0m.4-.7h0m.3 .3h0m.1 .1h0m.4-1.2h0m.2-1.1h0m0 2.1h0m.3-2.9h0m.6 2h0m.1 .2h0m.1 .1h0m1-.7h0m.4-1.3h0m.7-.2h0m2.6 .4h0m.3-.1h0m50.6-.3h0m2.7 .6h0m.9 2h0m1 2.4h0m1.1-1.2h0m1.2-.8h0m.3 1.4h0m.2 1h0m.2-.6h0m.2-2.8h0m.3 1.2h0m1 .7h0m.4 1.3h0m1.3 0h0m.6 0h0m1.1-1.1h0m0-3.7h0m.1 2.3h0m.9 1.5h0m.7 .3h0m.7-1.1h0m.5-.3h0m.2 .3h0m.1-1.4h0m0 3.3h0m.4-.5h0m.2 .7h0m.7-.3h0m0-2.1h0m.1 2.4h0m.6-2.9h0m.3 1.3h0m1.2-2.8h0m.2 .6h0m.1 2.7h0m.5-.2h0m0-.7h0m0-1h0m.3-1.9h0m0 .6h0m.1 1.3h0m.3 2h0m.1 .5h0m.2-4.6h0m1.1 5.1h0m.2-.7h0m.4-3.9h0m1.4 .7h0m-110.3 10h0m1.5-.1h0m.7-.3h0m.8-.3h0m.2 .9h0m.9-1.3h0m.8-.2h0m1.5 1.2h0m.2-.7h0m.1 .2h0m0 .6h0m0-.1h0m.1 .2h0m.2-.5h0m.1 .6h0m0 0h0m.1-2.4h0m.4 1.9h0m0-.9h0m0 1h0m.3-1.1h0m.5 .4h0m1.6-1.1h0m.3-1.6h0m.5 .1h0m.5 .8h0m.2 .4h0m.3-1.1h0m.8 1.1h0m.4-1h0m.7 .6h0m.1-1.7h0m.4 1.6h0m.4-1h0m.2 .3h0m.5-1h0m1.5 .1h0m.1-.1h0m.1 0h0m0 .8h0m3.4-1.4h0m.4-.1h0m63.3 5.4h0m3.2-.6h0m.1 .1h0m.2 .2h0m.8-4.2h0m1 3.8h0m.2-3.2h0m.3-1.9h0m.2 3.3h0m.9-1.3h0m0-.8h0m.3 2.1h0m.5-1.4h0m.1 .7h0m.4-.7h0m.2-1.5h0m.3 3.9h0m.1-4.1h0m.6 1.1h0m.1 1.5h0m.9 2.5h0m0-4.2h0m.1 1.4h0m.1-1.4h0m.1-.4h0m.1 3.6h0m.2-4.2h0m.6 3.6h0m.3-2.1h0m.3 1.4h0m.1-.5h0m1.1-1.4h0m.7 1.8h0m.6-2.6h0m1.8 3.1h0m2.9-1.4h0m.1 1h0m.4-2.2h0m.4 0h0m.8 2.3h0m.5 .2h0m.1-1.8h0m0 .8h0m.4-.8h0m0-1.5h0m1.1 5.6h0m.1-1h0m.6 1.2h0m0-3.7h0m.4 2h0m1.1-3.4h0m0 1.4h0m.7 3h0m.6-.2h0m.2-.9h0m.1 .6h0m.4-.9h0m.3 .9h0m.6-2.4h0m.3 2.5h0m-129.5 7h0m4-1.4h0m0 .6h0m.1-.3h0m.2 1.2h0m1-1.5h0m.1 1h0m1.3 .4h0m.1-2.1h0m0 .3h0m.8 1.6h0m1.2-1.2h0m0 .7h0m.1 .1h0m.2 0h0m1.2 .1h0m0-1.8h0m0 1.2h0m.1-1.8h0m.5 .2h0m.1 1.2h0m.1 .3h0m.2-1.4h0m.2 1.7h0m.1-.7h0m.2-1h0m1.8 .4h0m.1-2.3h0m0 .9h0m.3 1.7h0m.2-2.3h0m1 .3h0m0 .5h0m.1-.4h0m.1 1.6h0m1.2-2.1h0m.8 1.1h0m.7-.2h0m.1-1.5h0m.6 .8h0m.3-.9h0m1 .4h0m1.5-.2h0m3.3-.9h0m70.6 5.8h0m1.9-3.5h0m.5 2.2h0m1.3 .5h0m1-3.5h0m.3 .5h0m.1 .2h0m.1 2.4h0m.2 .6h0m.1 .5h0m.4-1.7h0m0-2.7h0m.8-.7h0m.7 3.9h0m.6-2.4h0m.1 3h0m.4-4.4h0m.3 2h0m.7-2.2h0m1.4-.4h0m.2 2.6h0m.1-.8h0m.6-1.8h0m1 1.6h0m1.6-.8h0m13.1 .5h0m.5 2.5h0m.7 .3h0m.1-3.1h0m.3 3.9h0m.3-3.6h0m1 .6h0m.5 2.9h0m.6 .9h0m0-1.3h0m.3-1.1h0m.3-.3h0m.2-.7h0m.1-2.3h0m1 2.3h0m.2-2.1h0m.6 1.7h0m.1 .4h0m.3-1.5h0m.3 4.5h0m.1-5.2h0m1.3 .7h0m.1 4.4h0m.2-3.9h0m.3 2.8h0m.7 1.1h0m-158 6.4h0m3 .2h0m.5-.4h0m.5-.3h0m.3 .4h0m.6-.3h0m.6 .4h0m.4-.4h0m.2 .2h0m.3-1.1h0m1.4 .1h0m.4-1.2h0m.5 .5h0m.3 .6h0m.6 .4h0m.1-1.6h0m.3 2.4h0m.5-2.7h0m.2 1.4h0m.4-.5h0m.1 1.8h0m.3-.9h0m.3-2.1h0m.2 .1h0m.1 .9h0m.2-.4h0m0 .2h0m1-.6h0m.4 1.6h0m.2-.4h0m.2 1.4h0m.5-3.6h0m.4 .8h0m.4-1h0m1.4 1.7h0m0-.7h0m0 .2h0m.3 1.3h0m.1-.2h0m.1-1.4h0m0 1.5h0m.2-.9h0m.1-.9h0m0 .7h0m.8-.6h0m0 .8h0m.2-1.6h0m.1 1.9h0m0-.1h0m0-.4h0m.6-2.3h0m.1 2.6h0m.4 .4h0m.1-1.3h0m.1-1.9h0m.1 2.8h0m.1 .4h0m.2-.2h0m.1-2.1h0m.2-.6h0m1.3-.8h0m.1 2.3h0m.3-1.7h0m.2 .8h0m.2 .9h0m0 1.2h0m.1-1.5h0m.2 2.8h0m.8-2.8h0m.3-.9h0m.7 1.4h0m.1-.9h0m.3 .5h0m.1 .3h0m.5-.3h0m.2 .1h0m.1 2.4h0m.6-.3h0m0-3.9h0m.5 1h0m1 2.4h0m1.4-.8h0m.1-1.6h0m.5 1.5h0m.2-2.5h0m1.5 5h0m.8-4.8h0m.7-.5h0m84.3 5.2h0m.4-.4h0m.2-3.4h0m1.2 2.5h0m.3-2.5h0m.3 4.5h0m0-3.3h0m.1-.9h0m.1 3.8h0m.2-.3h0m.7-.8h0m.1-3.2h0m.4-.6h0m.1 3.6h0m.2-4.3h0m.7 5.1h0m.4-.6h0m.2-1.9h0m0 2.7h0m.2-1.2h0m.2-2.7h0m.1-1h0m0 3h0m1.8-2h0m.1 1.6h0m.1-2.5h0m.3 .8h0m.7 3h0m.1-2.3h0m.1 .5h0m.4-.3h0m9.2 1h0m1.1 .7h0m13.5-3.6h0m1.2 2.8h0m0 1.2h0m.7-2.5h0m.2-.9h0m.1 1.2h0m.6 2.3h0m.2-3.2h0m.7 3.9h0m.5-.4h0m.5 .9h0m.5-4.9h0m.3 4.5h0m.1 .6h0m.2-3.4h0m.2-.8h0m.3 1.6h0m.5 2.5h0m.2-3.8h0m.1 3.5h0m.2-2.6h0m-165.6 8.3h0m2.1-1.7h0m.1 1.7h0m.6-.8h0m.1 .7h0m0 1h0m.2-4.1h0m1.2 2.5h0m0 .4h0m.2 .1h0m.3-.9h0m.3 .1h0m.3-.8h0m0-2.1h0m.2 1.6h0m.5-1.3h0m.1 2.1h0m0 1.4h0m0-.1h0m.2-1h0m.2-1.5h0m.1 1.2h0m.4-1.4h0m.6-1.9h0m.2 5.6h0m.1-3.7h0m0 .2h0m.8 .3h0m.5-.7h0m.2-1.1h0m.1 1.3h0m.3 1.2h0m0-1.3h0m.6-.2h0m.2-.4h0m0 .9h0m.2 .8h0m.5-3h0m.3 .9h0m1.2-1.1h0m.1 1h0m.2-.6h0m.4-.2h0m.4 .9h0m.3 3.4h0m.7-4.3h0m.4 1.5h0m2.2 .9h0m.7 2.1h0m.2-2h0m.1-.6h0m4.3 3.6h0m.7-1.9h0m.2-2.3h0m3.7 3.3h0m.4-3.2h0m1.8 2.4h0m.5-1.6h0m2.6-.3h0m3.7-1.4h0m13.6 4.4h0m65.5-.2h0m.5 .8h0m1.4-.5h0m.6-.8h0m1 1.5h0m.6-4.7h0m.3 2.7h0m1.1 .3h0m1.6-.2h0m.8-1.1h0m1.3 1h0m.1-1.7h0m.5-1.6h0m1 1.8h0m.1-1.8h0m.2 .1h0m.3 1.9h0m0-1.1h0m.3-.8h0m1.8 .8h0m1.7 1.1h0m1.6 2.8h0m3.4-5.2h0m2.4 3.8h0m5.3 .4h0m7.7-4.1h0m10.6-.2h0m.3 3.1h0m.3-2h0m.5 1.3h0m.1 1.8h0m.2-4.2h0m0 3.5h0m.2-1.9h0m0 0h0m.1-1.4h0m0 2.9h0m.5 2.2h0m.1-4.9h0m0 3.3h0m0-.5h0m0 2h0m.3-1.8h0m.2 1.1h0m.7-2.6h0m.2 2.3h0m.4-.1h0m.6-.5h0m.7-.3h0m.9-3.1h0m.2 4.8h0m.3-4.1h0m.4 3.6h0m.7 .7h0m-169.3 4.7h0m.4-3.8h0m.4 0h0m.2 5.4h0m1.1-4.1h0m.2-1.3h0m.5 .8h0m.8 2.5h0m1-2.7h0m0 1.6h0m1.6 1.6h0m2.4 1.1h0m2.3-3.8h0m1.7 2.8h0m1.1-2.5h0m1.6-.6h0m1.8 3h0m3.7 1.9h0m82.6-.6h0m1 .4h0m1.1-.3h0m2.3 .2h0m.5-.2h0m.3 .4h0m4.1-2.4h0m.8-2.3h0m.2 2.7h0m.1-2.4h0m.4 2.4h0m.1-1.3h0m.9 2.3h0m.8-3.6h0m.4-.1h0m0 .6h0m.3 1.1h0m.2-2h0m.2 2.3h0m0-3h0m.5 4.3h0m.1-2.5h0m0-1.4h0m.2 3.6h0m.5 1.7h0m.1-2.9h0m0 1.2h0m.4 .2h0m.2-4h0m.2 4.4h0m.3-1.3h0m.8-3.4h0m0 .5h0m1.8 2.7h0m.2 2.6h0m.1-4.1h0m.7 .6h0m6.3 3.7h0m4.7-.3h0m4.2-2.5h0m7.4-2.6h0m6.4 1.6h0m.5 3.7h0m1.4-4.3h0m.6 3.4h0m4.3-2.8h0m2.2 2.1h0m2.7-3.6h0m1.3 .3h0m.1 1.9h0m.1-1.4h0m.1-.6h0m.8 .3h0m.2 1.6h0m.3 .2h0m.8 2.5h0m.3-.7h0m.7 1h0m0-1.4h0m.1-1.3h0m1 2h0m.5 .4h0m.4-3.2h0m.5 2.3h0m.3 .4h0m.1 .3h0m-171.7 1.8h0m1.9 3.4h0m.6-4h0m.7 3.4h0m1.1-3.4h0m3.6 3.5h0m1.3-1.7h0m.4-.1h0m2.1 2.2h0m.5-4.3h0m3.6 1.8h0m0 2.5h0m.4-3.2h0m1.3 .3h0m2.5 .2h0m.9 1.8h0m3.2 1.8h0m1.7 .4h0m2.9-1.4h0m70.9 .9h0m0 .3h0m1.2 .1h0m2.3-.8h0m.6-1.4h0m0-1.3h0m.8 2.1h0m.7 1.7h0m.6-4.9h0m.1 4.7h0m.6-2.7h0m.1 1h0m0 .3h0m.2-2.3h0m.2 2.6h0m0 .3h0m.2 1h0m.2-2h0m0 .5h0m.9-2.3h0m.2 .3h0m1-2h0m.8 2.2h0m1.1-2.5h0m.1 3.3h0m.3 .3h0m.1-1.6h0m.2 .5h0m.2-2.2h0m.1 .1h0m.1 4.1h0m.1 1.1h0m1-2.7h0m.1 1.3h0m.2-1.8h0m.2-1.7h0m.6 2.4h0m.7-.6h0m.2-1.1h0m.1-1h0m.2 1.7h0m0 1.8h0m1.2-1.5h0m1 3.3h0m1.1-2.2h0m5.8-3.6h0m10.2 3.8h0m1.5-3.4h0m3 .1h0m5 5.2h0m2.6-5.6h0m9 5.2h0m3.8-.6h0m4.3-4.4h0m1.8 .7h0m.1 1.9h0m.2-2.5h0m.7 .4h0m.7-.4h0m.1 4.6h0m.6-.1h0m.8-3.2h0m.3 1.7h0m.1 2.5h0m.4-.1h0m.4-3.9h0m.5 2.6h0m0-2.4h0m.6-.4h0m0 1.8h0m.8-2.6h0m0-.7h0m.2 2.1h0m.3 .1h0m.2-.2h0m.3 2.6h0m-167.9 2h0m2.7 .8h0m.8 .7h0m5.2 1.2h0m.3-3.3h0m1 .6h0m.7 4.8h0m.9-2.2h0m2.7-.2h0m.4-2h0m2.1 3.9h0m.4-4.9h0m2.1 1.6h0m3.8 .4h0m2.2-.1h0m1.1 .3h0m3.3 3.5h0m1.4-2h0m55.7-1.8h0m1.6-2h0m.4 2.4h0m.8 1.9h0m1.5-.1h0m.2 1.5h0m1.4-.1h0m.3-1.5h0m.8 1.5h0m.9-1.1h0m.2-3.8h0m.2 3.5h0m.4-2.4h0m.2 3.3h0m.1-.2h0m.4-2.7h0m.9 1.7h0m.4 .2h0m.1-.3h0m.3-1.3h0m.2 1.2h0m.1-1.6h0m.8 3.1h0m.1-3.5h0m.4-.8h0m0 .6h0m.8 1.6h0m.1 .9h0m.4-.5h0m.7-.8h0m1.6 1.3h0m.1-3h0m.5 .5h0m.3-1.2h0m.1-.2h0m1.5 5.8h0m.2-5.9h0m.5 1h0m7.6 .7h0m.5 3.3h0m2 .5h0m2.3-1h0m.1 .7h0m2 .4h0m12.9-3.6h0m10.1 1.1h0m8.6 2.6h0m9.3-1.5h0m.3-4.1h0m.1 5.7h0m.2-1.5h0m1.5-4.2h0m.2 1h0m.2-1.1h0m.3 .1h0m.8 5.3h0m0-2.9h0m.1-.6h0m.1-.5h0m.1 2h0m1.1-2.3h0m.1 1.2h0m.2 2h0m0-3.1h0m.6 1.4h0m.3 .3h0m-153.5 3.3h0m5 1.3h0m3-1.5h0m1.8 1.4h0m2.3-.4h0m4.4 .1h0m1.3 .9h0m1.4 .6h0m.4-.7h0m1.1 1.8h0m.1 1.7h0m.4-.4h0m0-.3h0m.6 .6h0m0-1.1h0m.4 .4h0m0 1h0m51.1-2.2h0m1.2-.8h0m.2 .4h0m.2-2.9h0m.5 .9h0m0 2.5h0m.1-3.6h0m.3 2.4h0m1 1.8h0m.4 1.1h0m.7 .3h0m.2-3.5h0m.4-.6h0m.2 1.3h0m.2 .3h0m.5-.1h0m.2-.6h0m.3-1.2h0m.2 3.6h0m0-3.7h0m.8 .6h0m0 .8h0m0 0h0m2.4 1.8h0m1.5 .8h0m.1-3.1h0m7.6 3h0m1.4-4.7h0m1.4 2.6h0m.3-.4h0m4.4 3.2h0m1.2-5.6h0m.4 1.8h0m1.2 2.8h0m1.9-3.8h0m1.4 5h0m1.5-5.3h0m4.4 0h0m1.9 4h0m24.3-2.7h0m1.2-1.8h0m7.1 0h0m.3 3.2h0m.3-3.1h0m.4 1.6h0m.4 3h0m.1-3h0m.2-.9h0m1.3 3.9h0m.6 .9h0m.1-2h0m.8-2.5h0m.6 2.7h0m.2-1.2h0m.7-2.3h0m.2 .1h0m.2 1.6h0m0 .1h0m.9-.9h0m0 3.9h0m.1-.5h0m.2-2.8h0m.6 4h0m.5-.7h0m-133.4 1.2h0m1 .9h0m.6-.9h0m.2 2.9h0m0-.4h0m.1-1.2h0m.3-.7h0m0-.2h0m.2 1.2h0m1.5 3.9h0m.2-2h0m.2 1.8h0m.4-2.3h0m.4 1.7h0m.3 .2h0m44.8-2h0m1.1-1.6h0m2.1 2.2h0m2.1 .9h0m.4-1.7h0m1.3-2.6h0m5.9 4.4h0m2.5-2.5h0m4.3 3.2h0m1.9-.4h0m.1-3.2h0m.2-1.4h0m1.5 4.5h0m.5-1.1h0m1.5 1.7h0m.8-1.4h0m.8-4h0m4.3 1.9h0m.6-.5h0m13.9 .4h0m1.7-1.9h0m0 1.7h0m12.1-.7h0m8.2 3.3h0m.5 .7h0m8.3-2.6h0m.3-2.1h0m1.3 4.8h0m0 .5h0m.1-5.7h0m.6 4.5h0m.1 0h0m.2 1.3h0m1-.4h0m.6-.2h0m.2-3.1h0m.4 1.7h0m.1 .9h0m.1-3.8h0m0 1.5h0m.4 1.5h0m0-1.6h0m.4 .6h0m.3-2.4h0m.7 4.2h0m.3-4.2h0m1 4h0m-132 2.1h0m.6 1.4h0m.5-.8h0m.1 .1h0m.5-.1h0m.5 2.2h0m.1-2.1h0m.6 .2h0m.1 .1h0m.1 1.3h0m.1 1.3h0m.3 .5h0m.3-3.9h0m0 2h0m.2 .5h0m0 1.9h0m0-4.1h0m14.9 4.2h0m20.4-1.1h0m10.9-.2h0m5.3-2.3h0m.3 .5h0m8.1 2.6h0m1.4-1.7h0m.6 1.2h0m1.8-2.9h0m.9 .3h0m3.3 3.4h0m28 .6h0m4-2.9h0m19.2-.8h0m1.4 2.1h0m.1-1h0m.7-.1h0m.7 1.3h0m.3 .5h0m0-1.9h0m.4 1.4h0m.1 .6h0m.1-1.1h0m.3-1.3h0m.5 1.6h0m0-2.2h0m0 .5h0m1.1 2.2h0m.2-1.8h0m.1 .3h0m.6 1.3h0m.2-.6h0m.3-1.5h0m.3-.6h0m0-1.8h0m.1 0h0m.4 2.4h0m-128.8 3.9h0m1.8 3.6h0m.1-.4h0m.2-2.3h0m.1 1.3h0m.5 1.5h0m.3-3.3h0m0 2.3h0m.5 2.3h0m0-2.6h0m.5 2.3h0m.2-1.8h0m.3 .9h0m.4-2.1h0m.7-.2h0m.1 4h0m.3-1.5h0m.4 .4h0m.5-1.8h0m21.1-1.2h0m18.7 .8h0m6.5 2.4h0m1.2-1h0m.2-1.9h0m.8-.2h0m.1 2.6h0m4.3-3.4h0m2 2h0m1-.8h0m.6 1.7h0m1.1-.8h0m.4-2.4h0m2 .4h0m1.4 3.7h0m0-4h0m1.3 1.5h0m.1-1.1h0m2.9 1.5h0m.4-1h0m16.4 4h0m5.4-.4h0m1.1-2.4h0m5.7-2.3h0m4.1 1h0m5.4 1h0m10.7 2.4h0m.9-1.5h0m.1-.8h0m.1-.1h0m.2-.9h0m.5 2.1h0m.2-1.1h0m.2 1h0m.1 .5h0m.1 1.7h0m.4-1.2h0m.5-1.3h0m.6-3.2h0m.6 3.2h0m.4-.4h0m.6-1.9h0m.7-.5h0m.1 5.2h0m0-5h0m.1 .3h0m.1 4h0m.4-1.2h0m0 1.4h0m.1-1.6h0m.8 1.4h0m0 .8h0m1-1h0m-124.8 3.1h0m1-1.6h0m.1 4.6h0m.7-.9h0m.5-.7h0m.8 1.5h0m.2-2.6h0m.4 2.8h0m.2-.2h0m.3-2.8h0m.1 2.8h0m.4-.2h0m.6 .8h0m.1-.8h0m.2-2.7h0m.4-.2h0m.1 2.1h0m.4-1.5h0m.3 1h0m.2 1.4h0m.1 .2h0m4 .7h0m8.8-4.3h0m15.9 0h0m5 .2h0m1.3 4.2h0m1.5-.5h0m.9 0h0m1.2 .1h0m.1-.3h0m1.6-1.3h0m.6 .2h0m.3 .8h0m.4-3.7h0m1.4 2.6h0m.7-.9h0m.1 2.7h0m.9 .3h0m2.5-.7h0m1.5-2.5h0m.1 2h0m.2-2.6h0m.3 1.5h0m.7-2.8h0m.5-.3h0m.4 4.3h0m.2-2.2h0m.9 3.2h0m.6-1.6h0m.1-2.7h0m.6-.5h0m.1 3h0m0 .1h0m.3 .4h0m.1-2.4h0m1.4 1.4h0m.1 2h0m.1-.3h0m.5-1.7h0m.3-.3h0m1.3 2.8h0m.3-1.7h0m1 1.6h0m1-4.4h0m0 2.4h0m.8-.4h0m0 1.6h0m.5-2.8h0m.1 3.3h0m.4-2.1h0m.1-1.5h0m1.7 4h0m.2-1.1h0m0-3.7h0m.1 4.2h0m.7-2.4h0m2.1 3h0m.2-2.2h0m.6 1h0m.5-1.1h0m.3 2.3h0m1-1.3h0m.9-.6h0m.9 .9h0m.4 1h0m5.1-3.8h0m5.4-1.3h0m1.5 3.5h0m26.1-1.2h0m1.8-.4h0m.2 .9h0m.4-.6h0m.2 .9h0m1.2 2h0m.2-5.5h0m.5 .4h0m.3 .6h0m.6 .7h0m0 3.1h0m1.4-3.1h0m.1 2.5h0m.2-3.9h0m.6 3.5h0m.3-2h0m.2 3.6h0m-120.6 1.7h0m1.6-.4h0m.6 1.1h0m0 1.1h0m.4 .4h0m.6 .1h0m.2-1.1h0m0-.8h0m.1-.5h0m1.9 1.8h0m.3 1.2h0m0-.9h0m.1-2.7h0m.4 2.2h0m.3-2.4h0m0 4.7h0m.5-2h0m.2 .8h0m.2-3.1h0m.5-.1h0m.4 0h0m.8 3.9h0m.8-.2h0m.9-1.3h0m.3-2.2h0m.2 2.6h0m.4 2h0m.1 .1h0m.9-.5h0m.4 .2h0m.7-2.7h0m0-1h0m.5 3.2h0m.2-.7h0m.2-.4h0m.2-2.2h0m.4 .3h0m.5 3.5h0m.1-2.7h0m1.3 2.8h0m.1-1.5h0m.5-1.5h0m1 .3h0m.7 2.6h0m.1-3.3h0m.2 1.9h0m.1 1.7h0m.3-1.6h0m.7 .6h0m0 .7h0m.1-1.4h0m.7-.1h0m1-.5h0m0 2.2h0m.8-2.4h0m.1-1.4h0m.4 2.2h0m.1 .3h0m0-.7h0m.5-1.3h0m.2 1.9h0m.1-3.2h0m.8 2.6h0m.5 .4h0m.9-.5h0m.8 2.3h0m.2-2.1h0m1.1 1.6h0m0-.8h0m.2 .7h0m0-2.5h0m.3 0h0m.1 1h0m.4 .7h0m.2-1h0m.3 1.8h0m.2-1.8h0m.9-.2h0m2.2 .8h0m.3-2h0m.4 1.7h0m.2 0h0m.2-.2h0m1-.8h0m.5 1h0m.3-1.8h0m0 1.6h0m0-1.1h0m.6-.2h0m.1 1.7h0m.9-1.1h0m.1-2.2h0m1 3.4h0m.1-3.3h0m.4 1.6h0m.6-2.2h0m.4 3.3h0m.1-3h0m0 1.2h0m1.1-.9h0m.1 2.4h0m.8-.8h0m.9-.3h0m.5-1.8h0m.5 .6h0m.1-.4h0m0 .9h0m2.3-1.3h0m12.6-.1h0m1.4 0h0m.7 .3h0m.3 .2h0m1.1 .2h0m2.2-.1h0m.1 0h0m.5 1.5h0m0-.7h0m1.9-.8h0m.6 .7h0m.2-.5h0m1.3-.1h0m0 1.9h0m.2-2h0m.1 0h0m0 1.5h0m1.3-2.1h0m1.4 1.5h0m.1-.6h0m.5-.7h0m.2 .2h0m.1 3.3h0m.6-2.2h0m.9 1.8h0m.2-.8h0m0-1.8h0m.2 1.9h0m.8 2h0m.2-1.3h0m.2-.6h0m.1 .2h0m.2-2.4h0m.2 3.8h0m.7-2.7h0m.9 .1h0m.1-.1h0m5.7 3.5h0m8.1 .7h0m8.8-2.4h0m11.2-3.4h0m1.6 2.4h0m.6-1.1h0m.2 1.8h0m.2-1.5h0m.8 .9h0m.2 1.3h0m.2 .6h0m.3-2h0m1.1-2.3h0m.5 1.4h0m.9 4.4h0m.1-1h0m0-4.6h0m.4 1.3h0m.2-.6h0m.1 2.2h0m-114.3 3.1h0m.5-.1h0m2.4 .6h0m.8-.6h0m3-.1h0m3.6 .5h0m4.4 .9h0m0 .6h0m.7-1.7h0m.3-.2h0m1.7 1.2h0m1.5 .3h0m.9-.3h0m.4 0h0m78 3.3h0m9.1 1.1h0m.6 .1h0m0-5.4h0m.2 1h0m.5 .5h0m.2-1.8h0m.3 4.6h0m.2-3h0m.8-.1h0m.8 .2h0m.1 .8h0m.3-1.5h0m.4 1.3h0m.8 1.3h0m.1 .1h0m.2-1.3h0m.8 .5h0m.4-1.5h0m0-1.3h0m1.3 4.6h0m-30.3 1.9h0m14.9 2.5h0m8.1 2.4h0m.9-5.4h0m.2 .4h0m.1 2.6h0m.4-2.3h0m.3-.4h0m.5 2.2h0m.2-.7h0m.2-.7h0m.4 .6h0m.1 2.1h0m.2-2.4h0m0-1h0m.3 0h0m.4-.6h0m.7 .2h0m.1 2.6h0m.1 1.4h0m.1-1.2h0m.2 2.3h0m.4 .2h0m.1-1h0m.1-.8h0m0-.5h0m.3 1.2h0m.3 .4h0m.4 .8h0m.3-5.7h0m1.7 4.4h0m-10.1 7.4h0m1.3-3.1h0m.1 2.8h0m1.2-3.2h0m.7 2.1h0m.2-3.7h0m.1 .9h0m.6 2.8h0m.2 1.5h0m.7-3.9h0m.2 .4h0m.3-2.2h0m.2 4.8h0m.4-3.5h0m0 2.6h0m.4 .8h0m.4-4.4h0m.5 3.6h0m.2 .9h0m.3-1.9h0m.5-.6h0m.5 .6h0m.6-.5h0m.3 3.3h0m.8-1.5h0m-8.8 1.7h0m.9 5.3h0m.6 .6h0m1.4-5.1h0m0 2.8h0m.1-2.6h0m.3 .2h0m.5 0h0m.4 .4h0m.2-.6h0m.3 4.9h0m1-.3h0m.7-.4h0m.1-4.2h0m.1 .2h0m.4 1.2h0m.1 .3h0m.2 3.2h0m.2-1.8h0m.1 1.1h0m.2-2.9h0m.1-1.1h0m.2-.2h0m1 .2h0m-14.4 5.8h0m.1 3.7h0m1.3-4.6h0m1.2 0h0m.6 2.4h0m.2-2.4h0m.3 4.2h0m.3 1h0m.4-3.6h0m.1 3.8h0m.3-3.7h0m0 3.8h0m.1-.9h0m.6-3.8h0m0 1.2h0m.1-1.9h0m.4 3.5h0m.1-1.1h0m.1 1.5h0m.7 1.3h0m.1-2.8h0m.2-.2h0m.7-1.3h0m0 .7h0m.2 3.9h0m1-3.5h0m.5-1.6h0m.3-.2h0m.6 5h0m.3-2.4h0m1.2-2h0m.1 4.5h0m.1-4.8h0m.1 4.2h0m.1-3.2h0m.1-.6h0m0 2.6h0m1.4-.9h0m.7 1.9h0m.1-2.5h0m.4-1.6h0m-15.9 11.2h0m1.4-4.2h0m.8 3.1h0m.4-3.9h0m1.2 .4h0m.1-.4h0m.1 2.9h0m.1-.1h0m.3-1.8h0m.3 2.6h0m.1-2.1h0m.5-.7h0m0 .6h0m.1-1.4h0m.9 2.6h0m.6-3.2h0m.4-.1h0m.1-.2h0m0 4.1h0m0-.2h0m.5-3.7h0m.1 5.6h0m.2-2.4h0m0-1.2h0m.2 3.2h0m.6-4.4h0m.8 2.4h0m.2-.5h0m.2-2.9h0m.3 4.8h0m.5-2.4h0m0 1.7h0m.4-1h0m.2 0h0m.6-2.7h0m.1 4h0m.1-4.3h0m.2 1.3h0m.8-.1h0m.3 4.1h0m.9 0h0m.3-2.5h0m1.3 1.8h0m-14.8 3.7h0m1.5-2.3h0m1.3 2.7h0m2-1.1h0m.1 1.3h0m1.9 2.5h0m1.5-2.3h0m1.5-2.6h0m1.2 2.7h0m.4 1.4h0m1.4-1.8h0m-9.8 5.4h0m2.3-1.1h0m3 .1h0m3.3-1.2h0"/>
<path stroke="#8FAE1B" d="M806.8 238.8h0m5.5 1.4h0m-15.5-6.1h0m15.3-6.4h0m-35.3 52.7h0m-14.7 8.4h0m56.3-29.7h0"/>
<path stroke="#C8461B" d="M978.4 123.1h0m-1.8 5h0m.2 90.4h0m9.4-10.5h0m106.8 78.5h0m.2 0h0m-11.7 25.3h0m-2.9 11.1h0m-15.1 25.8h0m7.7-1h0m-16.4 11.5h0m6.9 9.7h0m-90.3 57.2h0m83.6-67h0m6.5 10.1h0m-158.1-1h0m1.6 18.6h0m21.1 3.7h0m7.2 7.2h0m6.8 6.8h0m-24.2 20.7h0"/>
<path stroke="#1F7F94" d="M979.7 201.8h0m-200.1 159.1h0m12.5 16.7h0m10.5 1.6h0m-28.5-30.5h0m28.9 62.6h0"/>
<path stroke="#1DBA4F" d="M943.3 92.8h0m36.9 35.6h0m-54.8 260.2h0m17.4 16.6h0m-14.4 15.1h0m9.8 1.6h0m-15.8 4.5h0m16.6-11.3h0m-65.2 49.9h0m-47.9 26.7h0m123.5-17.2h0m-169.8-136.3h0m2.8 .5h0m2.7-2.8h0m2.8-1.1h0m2 .6h0m1.4-3.3h0m-33.9 1.3h0m2.8 2h0m-4.2 11.1h0m50-99.9h0m13.8 0h0m-15.2 8.3h0m2.2 7.5h0m34.7-20h0m8.9-37.4h0m8.3 8.9h0m23.6-11.7h0m-140.8-53.2h0m-42.4 10.9h0"/>
<path stroke="#7A28B8" d="M1125.6 256h0m-135.2 163.9h0m-31.4 .9h0m-1.5 6.7h0m1.9-18.8h0m-10.1 18.5h0m-40.6-16.7h0m-21.4-87.6h0m-45.3-35.2h0m-11.1 82.4h0m2.8 1.4h0m2.2 4.4h0m8.9-11.4h0m4.7 3.1h0m-63.5 2.5h0m1.9 1.4h0m8 55.5h0m-34.6-212.6h0"/>
</g>
<g id="volcano">
<path fill="none" stroke-linecap="round" stroke-width="9.2" stroke="#1DBA4F" d="M1628.2 232.3h0m7 151.1h0m-58.9 13.9h0m55.7 1.2h0m-5.4 24.9h0m9.6 4.8h0m-13.1 9.3h0m5.3 0h0m-1 9.3h0m-1.3 15.3h0m3.1-.4h0m12.5 1.4h0m-12.5 15.4h0m-5.1 4h0m5.1 2.8h0m-48.5 13.5h0m6.5 6.4h0m-6.9 12.5h0m7.3 4.3h0m-5.9 5h0m-4.6 10.9h0m49-30.7h0m-1.6 18.4h0m6.1 8.1h0m38.9 9.9h0m-106.6 16.8h0m13.1 .8h0m-9.1 7.2h0m-5.4 12.7h0m-22.2 9.6h0m14.8 .4h0m14.3 3.4h0m-13.4 6.2h0m3.4 4h0m5.6-1.2h0m8-30.6h0m5.7-1.1h0m10.7-.6h0m-8.5 6.2h0m4.6 1.2h0m-5.7 5.7h0m4.5 1.1h0m3.4 2.3h0m-9 3.4h0m4.5 1.1h0m4.5 2.3h0m-11.3 2.2h0m4.5 2.3h0m4.6 1.1h0m3.4-2.2h0m-14.8 3.4h0m4.6 1.7h0m5.6 .5h0m-13.6 0h0m-17-1.1h0m76-51.6h0m-3.4 10.8h0m7.4-.4h0m-5.7 12.8h0m.6 3.4h0m-.9 12.5h0m15.6 1.2h0m-5.6 2.2h0m14.7 4.2h0m-19.3 1.5h0m5.7-1.1h0m-7.9 5.1h0m5.6-.6h0m5.7-.6h0m-13.6 2.9h0m15.9 .5h0m-4.6-10.7h0"/>
<path fill="none" stroke-linecap="round" stroke-width="9.2" stroke="#E2E2E2" d="M1593.2 519.8h0m24.5-17h0m1.4-29.8h0m-69.2 136.8h0m7.9 3.4h0m111.4-.2h0m-77.9-65.1h0m3.4 1.7h0m-2.3 5.2h0m-1.7 7.9h0m1.7 7.4h0m2.3 7.3h0m2.3 8h0m-1.2 7.9h0m2.3 8h0m-4.6 2.2h0m-1.7-20.4h0m5.2 6.8h0m-1.8-15.9h0m25.6-31.7h0m-3.4 9h0m-1.2 9.1h0m2.3 6.8h0m-7.9 4.6h0m9 2.2h0m-7.9 5.7h0m4.5 2.3h0m-1.1 3.4h0m4.5 2.3h0m-2.2 3.4h0m-4.6 2.2h0m-1.1 5.7h0m6.8-1.1h0m-3.4 5.6h0m-5.7 0h0m11.4 0h0m-6.8-29.5h0m3.4-18.1h0m-50.9 56.9h0m2.2-3.2h0m2.2 2.1h0m2.2-.7h0m2.2 .1h0m2.2 .1h0m2.2-1.2h0m2.2 1.2h0m2.2-.4h0m2.2 2.9h0m2.2-2.1h0m2.2-.4h0m2.2 0h0m2.2-.3h0m2.2-.2h0m2.2 .4h0m2.2 .6h0m2.2-.5h0m2.2 .9h0m2.2-.8h0m2.2 .1h0m2.2 1.1h0m2.2-.7h0m2.2-.8h0m2.2 .3h0m2.2 .5h0m2.2 1h0m2.2-1.6h0m2.2 0h0m2.2 .9h0m2.2-1.3h0m2.2 .4h0m2.2 .8h0m2.2-.2h0m2.2-.3h0"/>
<rect x="1422.1" y="183.6" width="368.1" height="448.8" fill="none" stroke="#000" stroke-width="2.7"/>
<path d="M1406.6 612.9H1421M1406.6 544.63H1421M1406.6 476.37H1421M1406.6 408.1H1421M1406.6 339.84H1421M1406.6 271.57H1421M1406.6 203.3H1421M1437.5 633.5V648.4M1521.75 633.5V648.4M1606 633.5V648.4M1690.25 633.5V648.4M1774.5 633.5V648.4" stroke="#000" stroke-width="5" stroke-linecap="round" fill="none"/>
</g>
<g id="network">
<path d="M1978.6 479.9L1914.6 389.4M1978.6 479.9L2031.6 384.4M1978.6 479.9L2100.6 462.2M2344.2 307.3L2190 198.9M2344.2 307.3L2298.8 121.7M2344.2 307.3L2421.9 109.6M2344.2 307.3L2513.7 158.3M2344.2 307.3L2599.9 226.4M2344.2 307.3L2555.8 303.6M2344.2 307.3L2546 375.7M2344.2 307.3L2494 436.1M2344.2 307.3L2405.5 477.4M2344.2 307.3L2294 463.8M2344.2 307.3L2161.8 340.9M2678.9 538.7L2599.9 226.4M2678.9 538.7L2546 375.7M2678.9 538.7L2494 436.1M2678.9 538.7L2405.5 477.4M2292.2 721.7L2207.7 615M2292.2 721.7L2304.3 589.3M2292.2 721.7L2154.2 720.4M2292.2 721.7L2494 436.1" stroke="#C9F0DE" stroke-width="2" fill="none"/>
<circle cx="2344.2" cy="307.3" r="45.4" fill="#1FBD4F" stroke="#b9b9b9" stroke-width="0.8"/>
<circle cx="1978.6" cy="479.9" r="36.3" fill="#1FBD4F" stroke="#b9b9b9" stroke-width="0.8"/>
<circle cx="2292.2" cy="721.7" r="36.2" fill="#1FBD4F" stroke="#b9b9b9" stroke-width="0.8"/>
<circle cx="2678.9" cy="538.7" r="45.6" fill="#1FBD4F" stroke="#b9b9b9" stroke-width="0.8"/>
<circle cx="1914.6" cy="389.4" r="6.4" fill="#FB353B" stroke="#c4cfd0" stroke-width="0.9"/>
<circle cx="2031.6" cy="384.4" r="6.4" fill="#FB353B" stroke="#c4cfd0" stroke-width="0.9"/>
<circle cx="2100.6" cy="462.2" r="6.4" fill="#FB353B" stroke="#c4cfd0" stroke-width="0.9"/>
<circle cx="2298.8" cy="121.7" r="6.4" fill="#FB353B" stroke="#c4cfd0" stroke-width="0.9"/>
<circle cx="2190" cy="198.9" r="6.4" fill="#FB353B" stroke="#c4cfd0" stroke-width="0.9"/>
<circle cx="2421.9" cy="109.6" r="6.4" fill="#FB353B" stroke="#c4cfd0" stroke-width="0.9"/>
<circle cx="2513.7" cy="158.3" r="6.4" fill="#FB353B" stroke="#c4cfd0" stroke-width="0.9"/>
<circle cx="2599.9" cy="226.4" r="6.4" fill="#FB353B" stroke="#c4cfd0" stroke-width="0.9"/>
<circle cx="2161.8" cy="340.9" r="6.4" fill="#FB353B" stroke="#c4cfd0" stroke-width="0.9"/>
<circle cx="2555.8" cy="303.6" r="6.4" fill="#FB353B" stroke="#c4cfd0" stroke-width="0.9"/>
<circle cx="2546" cy="375.7" r="6.4" fill="#FB353B" stroke="#c4cfd0" stroke-width="0.9"/>
<circle cx="2294" cy="463.8" r="6.4" fill="#FB353B" stroke="#c4cfd0" stroke-width="0.9"/>
<circle cx="2405.5" cy="477.4" r="6.4" fill="#FB353B" stroke="#c4cfd0" stroke-width="0.9"/>
<circle cx="2494" cy="436.1" r="6.4" fill="#3B5BF5" stroke="#c4cfd0" stroke-width="0.9"/>
<circle cx="2304.3" cy="589.3" r="6.4" fill="#3B5BF5" stroke="#c4cfd0" stroke-width="0.9"/>
<circle cx="2207.7" cy="615" r="6.4" fill="#FB353B" stroke="#c4cfd0" stroke-width="0.9"/>
<circle cx="2154.2" cy="720.4" r="6.4" fill="#FB353B" stroke="#c4cfd0" stroke-width="0.9"/>
<text transform="translate(1878.69 420.9) scale(1.0143 1)" font-size="23.8" fill="#FF0000">Gstm1</text>
<text transform="translate(1995.37 416.2) scale(1.0346 1)" font-size="23.8" fill="#FF0000">Gstm5</text>
<text transform="translate(2067.92 493.4) scale(0.9940 1)" font-size="23.8" fill="#FF0000">Gstp1</text>
<text transform="translate(2259.45 153) scale(1.0225 1)" font-size="23.8" fill="#FF0000">Rpl23a</text>
<text transform="translate(2160.61 230.7) scale(1.0471 1)" font-size="23.8" fill="#FF0000">Rps5</text>
<text transform="translate(2395.69 140.9) scale(1.0580 1)" font-size="23.8" fill="#FF0000">Rpl9</text>
<text transform="translate(2484.72 189.8) scale(1.0400 1)" font-size="23.8" fill="#FF0000">Rps9</text>
<text transform="translate(2567.22 257.6) scale(1.0407 1)" font-size="23.8" fill="#FF0000">Rplp0</text>
<text transform="translate(2132.82 371.9) scale(1.0376 1)" font-size="23.8" fill="#FF0000">Rps3</text>
<text transform="translate(2519.86 335.1) scale(1.0202 1)" font-size="23.8" fill="#FF0000">Rps14</text>
<text transform="translate(2513.41 407) scale(1.0470 1)" font-size="23.8" fill="#FF0000">Rpl12</text>
<text transform="translate(2268.32 495.1) scale(1.0401 1)" font-size="23.8" fill="#FF0000">Rpl8</text>
<text transform="translate(2372.92 508.5) scale(1.0386 1)" font-size="23.8" fill="#FF0000">Rpl17</text>
<text transform="translate(2462.04 467.6) scale(1.0293 1)" font-size="23.8" fill="#0433FF">Rpl23</text>
<text transform="translate(2282.91 620.5) scale(1.0431 1)" font-size="23.8" fill="#0433FF">Bsn</text>
<text transform="translate(2178.7 647) scale(1.0480 1)" font-size="23.8" fill="#FF0000">Rps2</text>
<text transform="translate(2125.21 752.2) scale(1.0442 1)" font-size="23.8" fill="#FF0000">Rps7</text>
<text transform="translate(2264.89 378.2) scale(1.0781 1)" font-size="23" font-weight="bold" fill="#1a1a1a">rRNA binding</text>
<text transform="translate(1908.92 540.7) scale(1.0661 1)" font-size="23" font-weight="bold" fill="#1a1a1a">glutathione</text>
<text transform="translate(1864.56 571.6) scale(1.0559 1)" font-size="23" font-weight="bold" fill="#1a1a1a">transferase activity</text>
<text transform="translate(2214.1 782.7) scale(1.0699 1)" font-size="23" font-weight="bold" fill="#1a1a1a">regulation of</text>
<text transform="translate(2191.23 814) scale(1.0647 1)" font-size="23" font-weight="bold" fill="#1a1a1a">ubiquitin-protein</text>
<text transform="translate(2177.36 845.4) scale(1.0592 1)" font-size="23" font-weight="bold" fill="#1a1a1a">transferase activity</text>
<text transform="translate(2583.68 608.9) scale(1.0676 1)" font-size="23" font-weight="bold" fill="#1a1a1a">large ribosomal</text>
<text transform="translate(2596.64 639.8) scale(1.0624 1)" font-size="23" font-weight="bold" fill="#1a1a1a">subunit rRNA</text>
<text transform="translate(2630.69 670.1) scale(1.0782 1)" font-size="23" font-weight="bold" fill="#1a1a1a">binding</text>
</g>
<g id="labels">
<text transform="translate(149.05 60.9) scale(0.9614 1)" font-size="52.09" font-weight="bold" fill="#000">Visium</text>
<text transform="translate(1448.99 36.1) scale(0.9710 1)" font-size="42.9" font-weight="bold" fill="#231F20">Differentially expressed genes, DEGs (HR-PCB vs vehicle)</text>
<text transform="translate(1509.79 151.5) scale(0.9619 1)" font-size="43.33" font-weight="bold" fill="#1DBA4F">Neocortex</text>
<circle cx="30.4" cy="587.9" r="9.6" fill="#1DBA4F"/>
<text transform="translate(54.83 601.8) scale(0.9658 1)" font-size="29.71" font-weight="bold" fill="#1DBA4F">Neocortex</text>
<circle cx="30.4" cy="624.1" r="9.6" fill="#7A28B8"/>
<text transform="translate(55.23 635.8) scale(0.9728 1)" font-size="29.57" font-weight="bold" fill="#7A28B8">Hippocampus</text>
<circle cx="30.4" cy="660.1" r="9.6" fill="#8FAE1B"/>
<text transform="translate(55.71 671) scale(0.9704 1)" font-size="29.57" font-weight="bold" fill="#8FAE1B">Thalamus</text>
<circle cx="30.4" cy="696.3" r="9.6" fill="#C8461B"/>
<text transform="translate(54.93 706.1) scale(0.9588 1)" font-size="30" font-weight="bold" fill="#C8461B">Fiber tracts</text>
<circle cx="28.8" cy="733.8" r="9.6" fill="#1F7F94"/>
<text transform="translate(54.84 740.2) scale(0.9696 1)" font-size="29.86" font-weight="bold" fill="#1F7F94">Caudoputamen</text>
<circle cx="656.5" cy="661.2" r="8.4" fill="#1DBA4F"/>
<text transform="translate(672.28 669.6) scale(0.9963 1)" font-size="25.07" font-weight="bold" fill="#1DBA4F">Neocortex</text>
<circle cx="656.5" cy="690.9" r="8.4" fill="#C8461B"/>
<text transform="translate(672.58 698.7) scale(1.0050 1)" font-size="24.78" font-weight="bold" fill="#C8461B">Fiber tracts</text>
<circle cx="828" cy="658.9" r="8.4" fill="#8FAE1B"/>
<text transform="translate(840.55 667) scale(0.9555 1)" font-size="25.94" font-weight="bold" fill="#8FAE1B">Thalamus</text>
<circle cx="828" cy="688.4" r="8.4" fill="#7A28B8"/>
<text transform="translate(840.18 697) scale(0.9618 1)" font-size="25.94" font-weight="bold" fill="#7A28B8">Hippocampus</text>
<circle cx="1002.5" cy="660.2" r="8.4" fill="#1F7F94"/>
<text transform="translate(1014 668.7) scale(1.0084 1)" font-size="24.78" font-weight="bold" fill="#1F7F94">Caudoputamen</text>
<text transform="translate(842.66 50.7) scale(1.0008 1)" font-size="33.48" font-weight="bold" fill="#1F7F94">Caudoputamen</text>
<text transform="translate(1003.15 174.9) scale(0.9612 1)" font-size="34.49" font-weight="bold" fill="#1DBA4F">Neocortex</text>
<text transform="translate(787.97 166.8) scale(0.9655 1)" font-size="34.49" font-weight="bold" fill="#8FAE1B">Thalamus</text>
<text transform="translate(601.84 412.2) scale(1.0166 1)" font-size="32.75" font-weight="bold" fill="#C8461B">Fiber tracts</text>
<text transform="translate(973.93 530.9) scale(0.9676 1)" font-size="34.49" font-weight="bold" fill="#7A28B8">Hippocampus</text>
<path d="M591.8 447V598.3H701" stroke="#000" stroke-width="5" fill="none"/>
<path d="M591.8 427.6l6 18.4q-6 -2.4 -12 0zM720.2 598.3l-18.6 6q2.4 -6 0 -12z" fill="#000" stroke="#000" stroke-width="1.2" stroke-linejoin="round"/>
<text transform="translate(609.22 627.8) scale(0.9487 1)" font-size="25.65" fill="#000">umap_1</text>
<g transform="translate(575.9 563.4) rotate(-90)"><text transform="translate(-1.64 0) scale(0.9822 1)" font-size="25.71" fill="#000">umap_2</text></g>
<text transform="translate(1446.72 211.5) scale(0.9812 1)" font-size="29.57" fill="#000">Up :54</text>
<text transform="translate(1446.58 245.9) scale(0.9656 1)" font-size="30" fill="#000">Down :94</text>
<text transform="translate(1385.05 622.32) scale(0.9968 1)" font-size="27.89" fill="#000">0</text>
<text transform="translate(1369.62 554.06) scale(0.9968 1)" font-size="27.89" fill="#000">20</text>
<text transform="translate(1369.62 485.79) scale(0.9968 1)" font-size="27.89" fill="#000">40</text>
<text transform="translate(1369.62 417.52) scale(0.9968 1)" font-size="27.89" fill="#000">60</text>
<text transform="translate(1369.62 349.26) scale(0.9968 1)" font-size="27.89" fill="#000">80</text>
<text transform="translate(1354.19 280.99) scale(0.9968 1)" font-size="27.89" fill="#000">100</text>
<text transform="translate(1354.19 212.73) scale(0.9968 1)" font-size="27.89" fill="#000">120</text>
<text transform="translate(1422.12 673.52) scale(0.9930 1)" font-size="27.89" fill="#000">−2</text>
<text transform="translate(1506.02 673.52) scale(0.9196 1)" font-size="27.89" fill="#000">−1</text>
<text transform="translate(1598.32 673.52) scale(0.9712 1)" font-size="27.89" fill="#000">0</text>
<text transform="translate(1683.55 673.52) scale(0.6924 1)" font-size="27.89" fill="#000">1</text>
<text transform="translate(1765.91 673.52) scale(1.0718 1)" font-size="27.89" fill="#000">2</text>
<text transform="translate(1466.7 711.6) scale(1.025 1)" font-size="33.1" fill="#000">log<tspan font-size="24.9" dy="6.1">2</tspan><tspan dy="-6.1"> (Fold Change)</tspan></text>
</g>
</svg>
</body></html>
